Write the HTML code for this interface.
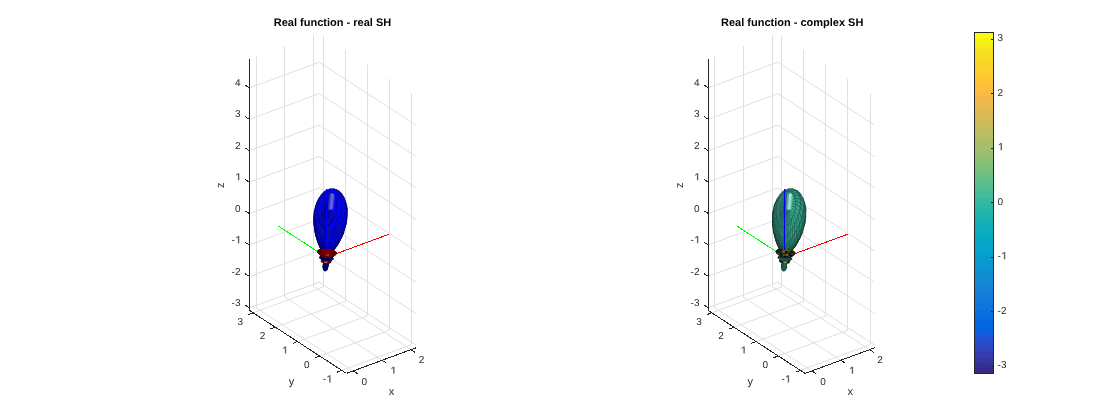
<!DOCTYPE html>
<html><head><meta charset="utf-8"><style>
html,body{margin:0;padding:0;background:#fff;}
svg{display:block;}
.tx{opacity:0.995;}
text{text-rendering:geometricPrecision;font-family:"Liberation Sans",sans-serif;font-size:10px;fill:#262626;}
text.al{font-size:11px;}
text.t{font-size:11px;font-weight:bold;fill:#000;}
</style></head><body>
<svg width="1120" height="420" viewBox="0 0 1120 420">
<rect width="1120" height="420" fill="#fff"/>
<path d="M353.26 370.93L256.05 307.78 M382.14 360.29L284.93 297.13 M411.02 349.64L313.82 286.49 M341.82 370.39L411.77 344.61 M319.66 355.99L389.61 330.22 M297.5 341.6L367.45 315.82 M275.35 327.2L345.29 301.42 M253.19 312.8L323.13 287.03 M256.5 307.78L256.5 56.51 M284.5 297.13L284.5 45.86 M313.5 286.49L313.5 35.22 M249.28 307.94L319.23 282.16 M249.28 276.51L319.23 250.74 M249.28 245.09L319.23 219.31 M249.28 213.66L319.23 187.89 M249.28 182.24L319.23 156.46 M249.28 150.82L319.23 125.04 M249.28 119.39L319.23 93.62 M249.28 87.97L319.23 62.19 M323.5 287.03L323.5 35.76 M345.5 301.42L345.5 50.15 M367.5 315.82L367.5 64.55 M389.5 330.22L389.5 78.95 M411.5 344.61L411.5 93.34 M416.44 345.31L319.23 282.16 M416.44 313.89L319.23 250.74 M416.44 282.47L319.23 219.31 M416.44 251.04L319.23 187.89 M416.44 219.62L319.23 156.46 M416.44 188.19L319.23 125.04 M416.44 156.77L319.23 93.62 M416.44 125.35L319.23 62.19" stroke="#dfdfdf" stroke-width="1" fill="none"/>
<path d="M811.86 370.93L714.65 307.78 M840.74 360.29L743.53 297.13 M869.62 349.64L772.42 286.49 M800.42 370.39L870.37 344.61 M778.26 355.99L848.21 330.22 M756.1 341.6L826.05 315.82 M733.95 327.2L803.89 301.42 M711.79 312.8L781.73 287.03 M714.5 307.78L714.5 56.51 M743.5 297.13L743.5 45.86 M772.5 286.49L772.5 35.22 M707.88 307.94L777.83 282.16 M707.88 276.51L777.83 250.74 M707.88 245.09L777.83 219.31 M707.88 213.66L777.83 187.89 M707.88 182.24L777.83 156.46 M707.88 150.82L777.83 125.04 M707.88 119.39L777.83 93.62 M707.88 87.97L777.83 62.19 M781.5 287.03L781.5 35.76 M803.5 301.42L803.5 50.15 M825.5 315.82L825.5 64.55 M847.5 330.22L847.5 78.95 M870.5 344.61L870.5 93.34 M875.04 345.31L777.83 282.16 M875.04 313.89L777.83 250.74 M875.04 282.47L777.83 219.31 M875.04 251.04L777.83 187.89 M875.04 219.62L777.83 156.46 M875.04 188.19L777.83 125.04 M875.04 156.77L777.83 93.62 M875.04 125.35L777.83 62.19" stroke="#dfdfdf" stroke-width="1" fill="none"/>
<line x1="326.43" y1="257.3" x2="388.85" y2="234.29" stroke="#ff0000" stroke-width="1" shape-rendering="crispEdges"/><line x1="326.43" y1="257.3" x2="278.54" y2="226.18" stroke="#00ff00" stroke-width="1" shape-rendering="crispEdges"/>
<g stroke-width="0.6" stroke-linejoin="round"><polygon points="327.8,256.3 327.7,256.8 326.7,256.8 326.7,256.2" fill="#0000c5" stroke="#000062"/><polygon points="326.7,256.2 326.7,256.8 325.7,256.8 325.6,256.2" fill="#0000bd" stroke="#00005e"/><polygon points="328.9,256.4 328.7,257.0 327.7,256.8 327.8,256.3" fill="#0000c4" stroke="#000062"/><polygon points="325.6,256.2 325.7,256.8 324.8,256.9 324.5,256.3" fill="#0000ad" stroke="#000056"/><polygon points="325.7,255.8 325.6,256.2 324.5,256.3 324.5,255.8" fill="#0000a3" stroke="#000052"/><polygon points="326.7,255.8 326.7,256.2 325.6,256.2 325.7,255.8" fill="#000092" stroke="#000049"/><polygon points="324.5,255.8 324.5,256.3 323.5,256.5 323.4,255.9" fill="#0000ba" stroke="#00005d"/><polygon points="327.6,255.9 327.8,256.3 326.7,256.2 326.7,255.8" fill="#000088" stroke="#000044"/><polygon points="329.8,256.7 329.7,257.3 328.7,257.0 328.9,256.4" fill="#0000c0" stroke="#000060"/><polygon points="327.7,256.8 327.4,257.4 326.6,257.3 326.7,256.8" fill="#000094" stroke="#00004a"/><polygon points="328.5,256.1 328.9,256.4 327.8,256.3 327.6,255.9" fill="#000083" stroke="#000042"/><polygon points="324.5,256.3 324.8,256.9 324.1,257.1 323.5,256.5" fill="#00009d" stroke="#00004e"/><polygon points="328.7,257.0 328.2,257.5 327.4,257.4 327.7,256.8" fill="#000096" stroke="#00004b"/><polygon points="326.6,259.9 326.6,260.6 326.0,260.6 326.0,260.0" fill="#ffa5a5" stroke="#805252"/><polygon points="326.7,256.8 326.6,257.3 325.9,257.3 325.7,256.8" fill="#00008f" stroke="#000048"/><polygon points="326.0,260.0 326.0,260.6 325.5,260.6 325.3,260.1" fill="#ea1212" stroke="#750909"/><polygon points="323.4,255.9 323.5,256.5 322.8,256.8 322.4,256.2" fill="#0000b8" stroke="#00005c"/><polygon points="327.2,260.0 327.1,260.7 326.6,260.6 326.6,259.9" fill="#ff6464" stroke="#803232"/><polygon points="330.8,257.0 330.4,257.6 329.7,257.3 329.8,256.7" fill="#0000b9" stroke="#00005c"/><polygon points="327.8,260.0 327.7,260.7 327.1,260.7 327.2,260.0" fill="#fd2323" stroke="#7e1212"/><polygon points="329.4,256.3 329.8,256.7 328.9,256.4 328.5,256.1" fill="#000081" stroke="#000040"/><polygon points="329.7,257.3 328.9,257.7 328.2,257.5 328.7,257.0" fill="#000095" stroke="#00004a"/><polygon points="325.3,260.1 325.5,260.6 325.0,260.6 324.7,260.3" fill="#b70000" stroke="#5c0000"/><polygon points="325.4,259.3 325.3,260.1 324.7,260.3 324.7,259.5" fill="#cf0000" stroke="#680000"/><polygon points="326.0,259.1 326.0,260.0 325.3,260.1 325.4,259.3" fill="#c70000" stroke="#640000"/><polygon points="324.7,259.5 324.7,260.3 324.1,260.5 324.0,259.8" fill="#e00a0a" stroke="#700505"/><polygon points="325.0,255.7 324.5,255.8 323.4,255.9 323.9,255.7" fill="#000079" stroke="#00003c"/><polygon points="328.3,260.2 328.2,260.9 327.7,260.7 327.8,260.0" fill="#e10b0b" stroke="#700606"/><polygon points="323.9,255.7 323.4,255.9 322.4,256.2 322.7,255.8" fill="#000086" stroke="#000043"/><polygon points="325.7,256.8 325.9,257.3 325.3,257.4 324.8,256.9" fill="#000089" stroke="#000044"/><polygon points="327.1,260.7 327.0,260.7 326.5,260.6 326.6,260.6" fill="#850000" stroke="#420000"/><polygon points="326.6,259.0 326.6,259.9 326.0,260.0 326.0,259.1" fill="#c20000" stroke="#610000"/><polygon points="324.5,268.1 325.6,267.2 325.6,267.6 324.6,268.9" fill="#0000c7" stroke="#000064"/><polygon points="324.6,268.9 325.6,267.6 325.7,267.9 324.9,269.6" fill="#0000c7" stroke="#000064"/><polygon points="327.7,260.7 327.4,260.8 327.0,260.7 327.1,260.7" fill="#8a0000" stroke="#450000"/><polygon points="326.6,260.6 326.5,260.6 326.1,260.5 326.0,260.6" fill="#860000" stroke="#430000"/><polygon points="324.5,267.2 325.5,266.8 325.6,267.2 324.5,268.1" fill="#0000c6" stroke="#000063"/><polygon points="324.9,269.6 325.7,267.9 325.9,268.1 325.1,270.0" fill="#0000c6" stroke="#000063"/><polygon points="324.7,260.3 325.0,260.6 324.7,260.5 324.1,260.5" fill="#910000" stroke="#480000"/><polygon points="330.3,256.6 330.8,257.0 329.8,256.7 329.4,256.3" fill="#000081" stroke="#000040"/><polygon points="325.1,270.0 325.9,268.1 326.0,268.2 325.5,270.2" fill="#0000c3" stroke="#000062"/><polygon points="324.0,259.8 324.1,260.5 323.7,260.6 323.3,260.2" fill="#d30202" stroke="#6a0101"/><polygon points="323.5,256.5 324.1,257.1 323.8,257.3 322.8,256.8" fill="#000090" stroke="#000048"/><polygon points="328.8,260.4 328.7,261.0 328.2,260.9 328.3,260.2" fill="#d50303" stroke="#6a0202"/><polygon points="324.6,266.2 325.5,266.3 325.5,266.8 324.5,267.2" fill="#0000c5" stroke="#000062"/><polygon points="327.1,258.9 327.2,260.0 326.6,259.9 326.6,259.0" fill="#be0000" stroke="#5f0000"/><polygon points="328.2,260.9 327.8,260.9 327.4,260.8 327.7,260.7" fill="#8b0000" stroke="#460000"/><polygon points="330.4,257.6 329.4,257.9 328.9,257.7 329.7,257.3" fill="#000092" stroke="#000049"/><polygon points="325.5,270.2 326.0,268.2 326.2,268.2 325.9,270.2" fill="#0000bf" stroke="#000060"/><polygon points="325.6,267.6 326.4,265.4 326.4,265.4 325.7,267.9" fill="#0000c1" stroke="#000060"/><polygon points="326.0,260.6 326.1,260.5 325.8,260.3 325.5,260.6" fill="#900000" stroke="#480000"/><polygon points="325.6,267.2 326.4,265.4 326.4,265.4 325.6,267.6" fill="#0000c2" stroke="#000061"/><polygon points="325.7,267.9 326.4,265.4 326.4,265.4 325.9,268.1" fill="#0000c1" stroke="#000060"/><polygon points="325.9,268.1 326.4,265.4 326.4,265.4 326.0,268.2" fill="#0000c1" stroke="#000060"/><polygon points="325.5,266.8 326.4,265.4 326.4,265.4 325.6,267.2" fill="#0000c3" stroke="#000062"/><polygon points="326.0,268.2 326.4,265.4 326.4,265.4 326.2,268.2" fill="#0000c1" stroke="#000060"/><polygon points="324.8,265.2 325.6,265.8 325.5,266.3 324.6,266.2" fill="#0000c3" stroke="#000062"/><polygon points="322.4,256.2 322.8,256.8 322.5,257.2 321.6,256.6" fill="#0000a0" stroke="#000050"/><polygon points="325.5,266.3 326.4,265.4 326.4,265.4 325.5,266.8" fill="#0000c3" stroke="#000062"/><polygon points="331.5,257.4 331.0,257.9 330.4,257.6 330.8,257.0" fill="#0000ad" stroke="#000056"/><polygon points="322.7,255.8 322.4,256.2 321.6,256.6 321.6,256.1" fill="#00009d" stroke="#00004e"/><polygon points="326.2,268.2 326.4,265.4 326.4,265.4 326.4,268.1" fill="#0000c1" stroke="#000060"/><polygon points="325.9,270.2 326.2,268.2 326.4,268.1 326.3,269.9" fill="#0000b9" stroke="#00005c"/><polygon points="325.6,265.8 326.4,265.4 326.4,265.4 325.5,266.3" fill="#0000c3" stroke="#000062"/><polygon points="326.4,268.1 326.4,265.4 326.4,265.4 326.6,267.8" fill="#0000c1" stroke="#000060"/><polygon points="326.6,256.0 326.7,255.8 325.7,255.8 325.9,255.9" fill="#000079" stroke="#00003c"/><polygon points="323.7,267.9 324.5,268.1 324.6,268.9 323.8,269.1" fill="#0000b5" stroke="#00005a"/><polygon points="327.5,259.0 327.8,260.0 327.2,260.0 327.1,258.9" fill="#ba0000" stroke="#5d0000"/><polygon points="325.6,265.3 326.4,265.4 326.4,265.4 325.6,265.8" fill="#0000c3" stroke="#000062"/><polygon points="323.8,266.6 324.5,267.2 324.5,268.1 323.7,267.9" fill="#0000b6" stroke="#00005b"/><polygon points="326.6,267.8 326.4,265.4 326.4,265.4 326.7,267.5" fill="#0000c0" stroke="#000060"/><polygon points="323.8,269.1 324.6,268.9 324.9,269.6 324.0,270.0" fill="#0000b4" stroke="#00005a"/><polygon points="329.3,260.7 329.0,261.2 328.7,261.0 328.8,260.4" fill="#ce0000" stroke="#670000"/><polygon points="328.7,261.0 328.1,260.9 327.8,260.9 328.2,260.9" fill="#880000" stroke="#440000"/><polygon points="326.3,269.9 326.4,268.1 326.6,267.8 326.7,269.4" fill="#0000b3" stroke="#00005a"/><polygon points="326.7,267.5 326.4,265.4 326.4,265.4 326.9,267.1" fill="#0000be" stroke="#00005f"/><polygon points="325.0,264.2 325.6,265.3 325.6,265.8 324.8,265.2" fill="#0000c2" stroke="#000061"/><polygon points="325.7,264.7 326.4,265.4 326.4,265.4 325.6,265.3" fill="#0000c2" stroke="#000061"/><polygon points="324.3,258.9 324.0,259.8 323.3,260.2 323.5,259.4" fill="#ba0000" stroke="#5d0000"/><polygon points="324.0,270.0 324.9,269.6 325.1,270.0 324.4,270.7" fill="#0000b3" stroke="#00005a"/><polygon points="326.9,267.1 326.4,265.4 326.4,265.4 327.0,266.6" fill="#0000bd" stroke="#00005e"/><polygon points="324.0,265.2 324.6,266.2 324.5,267.2 323.8,266.6" fill="#0000b7" stroke="#00005c"/><polygon points="328.0,259.1 328.3,260.2 327.8,260.0 327.5,259.0" fill="#b60000" stroke="#5b0000"/><polygon points="325.8,264.2 326.4,265.4 326.4,265.4 325.7,264.7" fill="#0000c1" stroke="#000060"/><polygon points="324.1,260.5 324.7,260.5 324.5,260.3 323.7,260.6" fill="#880000" stroke="#440000"/><polygon points="325.0,258.6 324.7,259.5 324.0,259.8 324.3,258.9" fill="#b60000" stroke="#5b0000"/><polygon points="325.5,260.6 325.8,260.3 325.5,260.1 325.0,260.6" fill="#9a0000" stroke="#4d0000"/><polygon points="323.3,260.2 323.7,260.6 323.5,260.6 322.9,260.5" fill="#a40000" stroke="#520000"/><polygon points="326.7,269.4 326.6,267.8 326.7,267.5 327.1,268.7" fill="#0000ae" stroke="#000057"/><polygon points="327.0,266.6 326.4,265.4 326.4,265.4 327.1,266.1" fill="#0000bb" stroke="#00005e"/><polygon points="331.2,256.9 331.5,257.4 330.8,257.0 330.3,256.6" fill="#000084" stroke="#000042"/><polygon points="325.9,263.8 326.4,265.4 326.4,265.4 325.8,264.2" fill="#0000c0" stroke="#000060"/><polygon points="323.5,259.4 323.3,260.2 322.9,260.5 322.8,259.9" fill="#c00000" stroke="#600000"/><polygon points="327.1,266.1 326.4,265.4 326.4,265.4 327.1,265.6" fill="#0000b9" stroke="#00005c"/><polygon points="324.8,256.9 325.3,257.4 325.1,257.5 324.1,257.1" fill="#000083" stroke="#000042"/><polygon points="324.4,270.7 325.1,270.0 325.5,270.2 325.0,271.0" fill="#0000ad" stroke="#000056"/><polygon points="325.3,263.3 325.7,264.7 325.6,265.3 325.0,264.2" fill="#0000c1" stroke="#000060"/><polygon points="327.2,256.2 327.6,255.9 326.7,255.8 326.6,256.0" fill="#00007d" stroke="#00003e"/><polygon points="327.1,268.7 326.7,267.5 326.9,267.1 327.3,267.8" fill="#0000aa" stroke="#000055"/><polygon points="327.1,265.6 326.4,265.4 326.4,265.4 327.1,265.0" fill="#0000b8" stroke="#00005c"/><polygon points="328.5,259.4 328.8,260.4 328.3,260.2 328.0,259.1" fill="#b30000" stroke="#5a0000"/><polygon points="326.0,263.3 326.4,265.4 326.4,265.4 325.9,263.8" fill="#0000be" stroke="#00005f"/><polygon points="324.4,263.8 324.8,265.2 324.6,266.2 324.0,265.2" fill="#0000b8" stroke="#00005c"/><polygon points="327.1,265.0 326.4,265.4 326.4,265.4 327.1,264.5" fill="#0000b9" stroke="#00005c"/><polygon points="325.7,258.3 325.4,259.3 324.7,259.5 325.0,258.6" fill="#b30000" stroke="#5a0000"/><polygon points="329.7,261.1 329.3,261.4 329.0,261.2 329.3,260.7" fill="#c30000" stroke="#620000"/><polygon points="326.1,263.0 326.4,265.4 326.4,265.4 326.0,263.3" fill="#0000bd" stroke="#00005e"/><polygon points="325.0,271.0 325.5,270.2 325.9,270.2 325.6,270.9" fill="#0000a0" stroke="#000050"/><polygon points="327.1,264.5 326.4,265.4 326.4,265.4 327.1,264.0" fill="#0000b9" stroke="#00005c"/><polygon points="327.3,267.8 326.9,267.1 327.0,266.6 327.5,266.8" fill="#0000a7" stroke="#000054"/><polygon points="331.0,257.9 329.7,258.1 329.4,257.9 330.4,257.6" fill="#00008d" stroke="#000046"/><polygon points="326.3,262.7 326.4,265.4 326.4,265.4 326.1,263.0" fill="#0000bb" stroke="#00005e"/><polygon points="329.0,259.7 329.3,260.7 328.8,260.4 328.5,259.4" fill="#b00000" stroke="#580000"/><polygon points="327.1,264.0 326.4,265.4 326.4,265.4 327.1,263.6" fill="#0000ba" stroke="#00005d"/><polygon points="325.5,262.4 325.8,264.2 325.7,264.7 325.3,263.3" fill="#0000c0" stroke="#000060"/><polygon points="321.6,256.1 321.6,256.6 321.2,257.0 320.7,256.5" fill="#0000a9" stroke="#000054"/><polygon points="326.4,262.4 326.4,265.4 326.4,265.4 326.3,262.7" fill="#0000ba" stroke="#00005d"/><polygon points="327.1,263.6 326.4,265.4 326.4,265.4 327.0,263.2" fill="#0000bc" stroke="#00005e"/><polygon points="328.2,257.5 327.4,257.7 327.0,257.6 327.4,257.4" fill="#00007e" stroke="#00003f"/><polygon points="327.7,256.3 328.5,256.1 327.6,255.9 327.2,256.2" fill="#00007f" stroke="#000040"/><polygon points="325.6,270.9 325.9,270.2 326.3,269.9 326.3,270.5" fill="#000093" stroke="#00004a"/><polygon points="327.5,266.8 327.0,266.6 327.1,266.1 327.6,265.8" fill="#0000a6" stroke="#000053"/><polygon points="322.8,259.9 322.9,260.5 322.6,260.7 322.2,260.4" fill="#c20000" stroke="#610000"/><polygon points="327.0,263.2 326.4,265.4 326.4,265.4 326.9,262.8" fill="#0000bd" stroke="#00005e"/><polygon points="326.5,262.3 326.4,265.4 326.4,265.4 326.4,262.4" fill="#0000ba" stroke="#00005d"/><polygon points="327.4,257.4 327.0,257.6 326.5,257.6 326.6,257.3" fill="#00007c" stroke="#00003e"/><polygon points="324.8,262.4 325.0,264.2 324.8,265.2 324.4,263.8" fill="#0000b8" stroke="#00005c"/><polygon points="325.0,260.6 325.5,260.1 325.4,259.8 324.7,260.5" fill="#a20000" stroke="#510000"/><polygon points="326.9,262.8 326.4,265.4 326.4,265.4 326.9,262.5" fill="#0000bd" stroke="#00005e"/><polygon points="326.5,262.2 326.4,265.4 326.4,265.4 326.5,262.3" fill="#0000ba" stroke="#00005d"/><polygon points="332.1,257.9 331.2,258.3 331.0,257.9 331.5,257.4" fill="#00009e" stroke="#00004f"/><polygon points="322.8,256.8 323.8,257.3 323.9,257.5 322.5,257.2" fill="#000087" stroke="#000044"/><polygon points="326.9,262.5 326.4,265.4 326.4,265.4 326.8,262.3" fill="#0000bd" stroke="#00005e"/><polygon points="326.2,258.1 326.0,259.1 325.4,259.3 325.7,258.3" fill="#af0000" stroke="#580000"/><polygon points="326.6,262.1 326.4,265.4 326.4,265.4 326.5,262.2" fill="#0000bb" stroke="#00005e"/><polygon points="326.8,262.3 326.4,265.4 326.4,265.4 326.7,262.2" fill="#0000bd" stroke="#00005e"/><polygon points="326.7,262.2 326.4,265.4 326.4,265.4 326.6,262.1" fill="#0000bc" stroke="#00005e"/><polygon points="329.6,260.2 329.7,261.1 329.3,260.7 329.0,259.7" fill="#ae0000" stroke="#570000"/><polygon points="323.8,255.9 322.7,255.8 321.6,256.1 322.5,255.9" fill="#000075" stroke="#00003a"/><polygon points="326.3,270.5 326.3,269.9 326.7,269.4 326.9,269.7" fill="#00008a" stroke="#000045"/><polygon points="323.3,266.5 323.7,267.9 323.8,269.1 323.2,268.0" fill="#000093" stroke="#00004a"/><polygon points="327.6,265.8 327.1,266.1 327.1,265.6 327.6,264.8" fill="#0000a6" stroke="#000053"/><polygon points="328.9,257.7 327.8,257.8 327.4,257.7 328.2,257.5" fill="#00007e" stroke="#00003f"/><polygon points="332.0,257.4 332.1,257.9 331.5,257.4 331.2,256.9" fill="#00008b" stroke="#000046"/><polygon points="323.5,264.9 323.8,266.6 323.7,267.9 323.3,266.5" fill="#00009b" stroke="#00004e"/><polygon points="329.3,261.4 328.4,260.9 328.3,260.9 329.0,261.2" fill="#850000" stroke="#420000"/><polygon points="321.6,256.6 322.5,257.2 322.6,257.5 321.2,257.0" fill="#000090" stroke="#000048"/><polygon points="322.9,260.5 323.5,260.6 323.6,260.5 322.6,260.7" fill="#840000" stroke="#420000"/><polygon points="323.7,260.6 324.5,260.3 324.6,260.0 323.5,260.6" fill="#940000" stroke="#4a0000"/><polygon points="325.7,261.6 325.9,263.8 325.8,264.2 325.5,262.4" fill="#0000bf" stroke="#000060"/><polygon points="324.9,256.1 323.9,255.7 322.7,255.8 323.8,255.9" fill="#00007c" stroke="#00003e"/><polygon points="327.4,260.8 327.0,260.0 326.7,259.9 327.0,260.7" fill="#a50000" stroke="#520000"/><polygon points="328.2,256.4 329.4,256.3 328.5,256.1 327.7,256.3" fill="#00007f" stroke="#000040"/><polygon points="327.0,260.7 326.7,259.9 326.5,259.7 326.5,260.6" fill="#a80000" stroke="#540000"/><polygon points="330.0,261.4 329.4,261.5 329.3,261.4 329.7,261.1" fill="#ac0000" stroke="#560000"/><polygon points="323.2,268.0 323.8,269.1 324.0,270.0 323.5,269.2" fill="#000087" stroke="#000044"/><polygon points="326.9,269.7 326.7,269.4 327.1,268.7 327.4,268.7" fill="#000087" stroke="#000044"/><polygon points="326.6,257.3 326.5,257.6 326.2,257.5 325.9,257.3" fill="#000079" stroke="#00003c"/><polygon points="327.8,260.9 327.2,260.0 327.0,260.0 327.4,260.8" fill="#a30000" stroke="#520000"/><polygon points="324.0,263.3 324.0,265.2 323.8,266.6 323.5,264.9" fill="#0000a2" stroke="#000051"/><polygon points="327.6,264.8 327.1,265.6 327.1,265.0 327.6,263.8" fill="#0000a6" stroke="#000053"/><polygon points="326.5,260.6 326.5,259.7 326.3,259.5 326.1,260.5" fill="#ac0000" stroke="#560000"/><polygon points="322.5,255.9 321.6,256.1 320.7,256.5 321.2,256.1" fill="#000078" stroke="#00003c"/><polygon points="324.3,258.4 323.5,259.4 322.8,259.9 323.4,258.9" fill="#a60000" stroke="#530000"/><polygon points="326.5,258.0 326.6,259.0 326.0,259.1 326.2,258.1" fill="#ac0000" stroke="#560000"/><polygon points="328.9,256.5 330.3,256.6 329.4,256.3 328.2,256.4" fill="#00007f" stroke="#000040"/><polygon points="330.0,260.7 330.0,261.4 329.7,261.1 329.6,260.2" fill="#ab0000" stroke="#560000"/><polygon points="325.2,261.2 325.3,263.3 325.0,264.2 324.8,262.4" fill="#0000b9" stroke="#00005c"/><polygon points="323.4,258.9 322.8,259.9 322.2,260.4 322.5,259.6" fill="#a60000" stroke="#530000"/><polygon points="323.5,269.2 324.0,270.0 324.4,270.7 324.0,270.1" fill="#000076" stroke="#00003b"/><polygon points="324.6,238.4 325.4,248.1 324.9,251.2 323.0,242.2" fill="#0000ff" stroke="#000080"/><polygon points="327.4,268.7 327.1,268.7 327.3,267.8 327.7,267.4" fill="#000086" stroke="#000043"/><polygon points="325.9,260.9 326.0,263.3 325.9,263.8 325.7,261.6" fill="#0000be" stroke="#00005f"/><polygon points="324.1,257.1 325.1,257.5 325.1,257.5 323.8,257.3" fill="#00007d" stroke="#00003e"/><polygon points="327.6,263.8 327.1,265.0 327.1,264.5 327.5,262.8" fill="#0000a8" stroke="#000054"/><polygon points="328.1,260.9 327.3,259.9 327.2,260.0 327.8,260.9" fill="#a10000" stroke="#500000"/><polygon points="325.7,256.4 325.0,255.7 323.9,255.7 324.9,256.1" fill="#000082" stroke="#000041"/><polygon points="329.4,257.9 328.0,257.9 327.8,257.8 328.9,257.7" fill="#00007e" stroke="#00003f"/><polygon points="322.2,260.4 322.6,260.7 322.7,260.8 321.9,260.8" fill="#a10000" stroke="#500000"/><polygon points="325.1,258.0 324.3,258.9 323.5,259.4 324.3,258.4" fill="#a50000" stroke="#520000"/><polygon points="324.6,261.7 324.4,263.8 324.0,265.2 324.0,263.3" fill="#0000a7" stroke="#000054"/><polygon points="331.2,258.3 329.6,258.3 329.7,258.1 331.0,257.9" fill="#000089" stroke="#000044"/><polygon points="329.8,256.7 331.2,256.9 330.3,256.6 328.9,256.5" fill="#00007d" stroke="#00003e"/><polygon points="327.7,267.4 327.3,267.8 327.5,266.8 327.9,266.0" fill="#000088" stroke="#000044"/><polygon points="326.1,260.5 326.3,259.5 326.1,259.2 325.8,260.3" fill="#af0000" stroke="#580000"/><polygon points="324.0,270.1 324.4,270.7 325.0,271.0 324.6,270.5" fill="#000082" stroke="#000041"/><polygon points="324.7,260.5 325.4,259.8 325.4,259.3 324.5,260.3" fill="#a70000" stroke="#540000"/><polygon points="326.8,257.9 327.1,258.9 326.6,259.0 326.5,258.0" fill="#a90000" stroke="#540000"/><polygon points="329.4,261.5 328.3,260.7 328.4,260.9 329.3,261.4" fill="#880000" stroke="#440000"/><polygon points="327.5,262.8 327.1,264.5 327.1,264.0 327.4,261.9" fill="#0000aa" stroke="#000055"/><polygon points="326.1,260.3 326.1,263.0 326.0,263.3 325.9,260.9" fill="#0000bd" stroke="#00005e"/><polygon points="330.7,244.0 328.1,252.7 327.3,253.0 328.8,244.3" fill="#0000c2" stroke="#000061"/><polygon points="322.5,259.6 322.2,260.4 321.9,260.8 321.8,260.2" fill="#a70000" stroke="#540000"/><polygon points="330.2,261.7 329.3,261.5 329.4,261.5 330.0,261.4" fill="#960000" stroke="#4b0000"/><polygon points="330.4,261.2 330.2,261.7 330.0,261.4 330.0,260.7" fill="#ab0000" stroke="#560000"/><polygon points="320.7,256.5 321.2,257.0 321.3,257.5 320.3,257.0" fill="#000097" stroke="#00004c"/><polygon points="327.9,266.0 327.5,266.8 327.6,265.8 327.9,264.5" fill="#00008b" stroke="#000046"/><polygon points="325.9,257.3 326.2,257.5 326.0,257.5 325.3,257.4" fill="#000076" stroke="#00003b"/><polygon points="328.3,260.9 327.4,259.8 327.3,259.9 328.1,260.9" fill="#a00000" stroke="#500000"/><polygon points="325.6,260.1 325.5,262.4 325.3,263.3 325.2,261.2" fill="#0000b9" stroke="#00005c"/><polygon points="328.8,244.3 327.3,253.0 326.6,254.1 326.8,245.7" fill="#0000c3" stroke="#000062"/><polygon points="324.6,270.5 325.0,271.0 325.6,270.9 325.4,270.4" fill="#000093" stroke="#00004a"/><polygon points="327.0,257.9 327.5,259.0 327.1,258.9 326.8,257.9" fill="#a60000" stroke="#530000"/><polygon points="327.4,261.9 327.1,264.0 327.1,263.6 327.2,261.2" fill="#0000ac" stroke="#000056"/><polygon points="332.6,257.9 332.4,258.4 332.1,257.9 332.0,257.4" fill="#000094" stroke="#00004a"/><polygon points="332.4,258.4 331.2,258.6 331.2,258.3 332.1,257.9" fill="#000093" stroke="#00004a"/><polygon points="330.7,257.0 332.0,257.4 331.2,256.9 329.8,256.7" fill="#00007b" stroke="#00003e"/><polygon points="322.6,260.7 323.6,260.5 324.0,260.1 322.7,260.8" fill="#870000" stroke="#440000"/><polygon points="321.2,256.1 320.7,256.5 320.3,257.0 320.3,256.5" fill="#000087" stroke="#000044"/><polygon points="326.3,259.8 326.3,262.7 326.1,263.0 326.1,260.3" fill="#0000bb" stroke="#00005e"/><polygon points="323.5,260.6 324.6,260.0 324.9,259.4 323.6,260.5" fill="#990000" stroke="#4c0000"/><polygon points="325.8,257.7 325.0,258.6 324.3,258.9 325.1,258.0" fill="#a30000" stroke="#520000"/><polygon points="327.3,258.0 328.0,259.1 327.5,259.0 327.0,257.9" fill="#a30000" stroke="#520000"/><polygon points="327.9,264.5 327.6,265.8 327.6,264.8 327.8,263.1" fill="#00008f" stroke="#000048"/><polygon points="325.2,260.2 324.8,262.4 324.4,263.8 324.6,261.7" fill="#0000ab" stroke="#000056"/><polygon points="327.6,258.2 328.5,259.4 328.0,259.1 327.3,258.0" fill="#a00000" stroke="#500000"/><polygon points="325.8,260.3 326.1,259.2 326.1,258.8 325.5,260.1" fill="#b30000" stroke="#5a0000"/><polygon points="326.2,256.7 325.9,255.9 325.0,255.7 325.7,256.4" fill="#000087" stroke="#000044"/><polygon points="328.1,258.5 329.0,259.7 328.5,259.4 327.6,258.2" fill="#9d0000" stroke="#4e0000"/><polygon points="325.4,270.4 325.6,270.9 326.3,270.5 326.2,269.8" fill="#000095" stroke="#00004a"/><polygon points="327.2,261.2 327.1,263.6 327.0,263.2 327.1,260.5" fill="#0000ae" stroke="#000057"/><polygon points="328.7,258.9 329.6,260.2 329.0,259.7 328.1,258.5" fill="#9a0000" stroke="#4d0000"/><polygon points="322.5,257.2 323.9,257.5 324.4,257.6 322.6,257.5" fill="#000081" stroke="#000040"/><polygon points="329.7,258.1 328.0,257.9 328.0,257.9 329.4,257.9" fill="#00007d" stroke="#00003e"/><polygon points="332.3,245.0 328.6,253.2 328.1,252.7 330.7,244.0" fill="#0000bc" stroke="#00005e"/><polygon points="329.3,259.5 330.0,260.7 329.6,260.2 328.7,258.9" fill="#960000" stroke="#4b0000"/><polygon points="326.4,259.5 326.4,262.4 326.3,262.7 326.3,259.8" fill="#0000b9" stroke="#00005c"/><polygon points="323.4,264.3 323.3,266.5 323.2,268.0 323.2,265.9" fill="#000076" stroke="#00003b"/><polygon points="323.9,262.6 323.5,264.9 323.3,266.5 323.4,264.3" fill="#000084" stroke="#000042"/><polygon points="321.2,257.0 322.6,257.5 323.1,257.7 321.3,257.5" fill="#000088" stroke="#000044"/><polygon points="328.4,260.9 327.3,259.5 327.4,259.8 328.3,260.9" fill="#9e0000" stroke="#4f0000"/><polygon points="326.2,269.8 326.3,270.5 326.9,269.7 327.0,268.8" fill="#000090" stroke="#000048"/><polygon points="327.1,260.5 327.0,263.2 326.9,262.8 326.9,260.0" fill="#0000b0" stroke="#000058"/><polygon points="329.3,261.5 328.1,260.4 328.3,260.7 329.4,261.5" fill="#890000" stroke="#440000"/><polygon points="327.8,263.1 327.6,264.8 327.6,263.8 327.6,261.7" fill="#000093" stroke="#00004a"/><polygon points="321.8,260.2 321.9,260.8 321.9,261.1 321.4,260.8" fill="#a80000" stroke="#540000"/><polygon points="330.6,261.7 330.1,261.9 330.2,261.7 330.4,261.2" fill="#a90000" stroke="#540000"/><polygon points="321.9,260.8 322.7,260.8 323.1,260.6 321.9,261.1" fill="#8c0000" stroke="#460000"/><polygon points="325.9,259.2 325.7,261.6 325.5,262.4 325.6,260.1" fill="#0000b9" stroke="#00005c"/><polygon points="323.2,265.9 323.2,268.0 323.5,269.2 323.4,267.2" fill="#000080" stroke="#000040"/><polygon points="330.1,261.9 329.0,261.3 329.3,261.5 330.2,261.7" fill="#8c0000" stroke="#460000"/><polygon points="329.9,260.1 330.4,261.2 330.0,260.7 329.3,259.5" fill="#920000" stroke="#490000"/><polygon points="326.4,259.2 326.5,262.3 326.4,262.4 326.4,259.5" fill="#0000b8" stroke="#00005c"/><polygon points="327.0,268.8 326.9,269.7 327.4,268.7 327.5,267.4" fill="#000088" stroke="#000044"/><polygon points="326.9,260.0 326.9,262.8 326.9,262.5 326.8,259.6" fill="#0000b2" stroke="#000059"/><polygon points="324.2,256.3 322.5,255.9 321.2,256.1 322.8,256.1" fill="#000081" stroke="#000040"/><polygon points="324.6,260.9 324.0,263.3 323.5,264.9 323.9,262.6" fill="#00008f" stroke="#000048"/><polygon points="323.6,258.6 322.5,259.6 321.8,260.2 322.6,259.2" fill="#910000" stroke="#480000"/><polygon points="324.6,258.0 323.4,258.9 322.5,259.6 323.6,258.6" fill="#940000" stroke="#4a0000"/><polygon points="331.7,257.4 332.6,257.9 332.0,257.4 330.7,257.0" fill="#000079" stroke="#00003c"/><polygon points="324.5,260.3 325.4,259.3 325.7,258.7 324.6,260.0" fill="#a90000" stroke="#540000"/><polygon points="331.2,258.6 329.2,258.4 329.6,258.3 331.2,258.3" fill="#000086" stroke="#000043"/><polygon points="326.5,259.1 326.5,262.2 326.5,262.3 326.4,259.2" fill="#0000b6" stroke="#00005b"/><polygon points="326.8,245.7 326.6,254.1 326.3,255.9 325.4,248.1" fill="#0000c1" stroke="#000060"/><polygon points="326.8,259.6 326.9,262.5 326.8,262.3 326.7,259.3" fill="#0000b3" stroke="#00005a"/><polygon points="326.2,257.5 325.7,258.3 325.0,258.6 325.8,257.7" fill="#a10000" stroke="#500000"/><polygon points="323.8,257.3 325.1,257.5 325.6,257.5 323.9,257.5" fill="#000079" stroke="#00003c"/><polygon points="327.5,267.4 327.4,268.7 327.7,267.4 327.8,265.8" fill="#000080" stroke="#000040"/><polygon points="327.6,261.7 327.6,263.8 327.5,262.8 327.4,260.5" fill="#000097" stroke="#00004c"/><polygon points="326.6,259.0 326.6,262.1 326.5,262.2 326.5,259.1" fill="#0000b5" stroke="#00005a"/><polygon points="326.7,259.3 326.8,262.3 326.7,262.2 326.6,259.1" fill="#0000b4" stroke="#00005a"/><polygon points="325.4,256.6 323.8,255.9 322.5,255.9 324.2,256.3" fill="#000086" stroke="#000043"/><polygon points="323.4,267.2 323.5,269.2 324.0,270.1 323.8,268.2" fill="#000095" stroke="#00004a"/><polygon points="325.7,258.9 325.2,261.2 324.8,262.4 325.2,260.2" fill="#0000ad" stroke="#000056"/><polygon points="326.6,259.1 326.7,262.2 326.6,262.1 326.6,259.0" fill="#0000b4" stroke="#00005a"/><polygon points="322.8,256.1 321.2,256.1 320.3,256.5 321.4,256.2" fill="#00007d" stroke="#00003e"/><polygon points="326.5,257.0 326.6,256.0 325.9,255.9 326.2,256.7" fill="#00008c" stroke="#000046"/><polygon points="325.5,260.1 326.1,258.8 326.1,258.3 325.4,259.8" fill="#b50000" stroke="#5a0000"/><polygon points="327.8,265.8 327.7,267.4 327.9,266.0 327.9,264.1" fill="#000078" stroke="#00003c"/><polygon points="330.4,260.8 330.6,261.7 330.4,261.2 329.9,260.1" fill="#8d0000" stroke="#460000"/><polygon points="323.0,242.2 324.9,251.2 325.3,254.4 322.6,246.5" fill="#0000b6" stroke="#00005b"/><polygon points="322.6,259.2 321.8,260.2 321.4,260.8 321.8,260.0" fill="#8c0000" stroke="#460000"/><polygon points="325.6,257.6 324.3,258.4 323.4,258.9 324.6,258.0" fill="#950000" stroke="#4a0000"/><polygon points="328.3,260.7 327.2,259.1 327.3,259.5 328.4,260.9" fill="#9c0000" stroke="#4e0000"/><polygon points="333.0,258.5 332.3,258.8 332.4,258.4 332.6,257.9" fill="#000094" stroke="#00004a"/><polygon points="325.3,259.3 324.6,261.7 324.0,263.3 324.6,260.9" fill="#000097" stroke="#00004c"/><polygon points="322.7,260.8 324.0,260.1 324.7,259.4 323.1,260.6" fill="#880000" stroke="#440000"/><polygon points="320.3,256.5 320.3,257.0 320.3,257.5 319.8,257.0" fill="#000093" stroke="#00004a"/><polygon points="320.3,257.0 321.3,257.5 321.9,257.8 320.3,257.5" fill="#00008d" stroke="#000046"/><polygon points="326.2,258.4 325.9,260.9 325.7,261.6 325.9,259.2" fill="#0000b8" stroke="#00005c"/><polygon points="329.6,258.3 327.7,257.8 328.0,257.9 329.7,258.1" fill="#00007d" stroke="#00003e"/><polygon points="332.3,258.8 330.7,258.8 331.2,258.6 332.4,258.4" fill="#00008c" stroke="#000046"/><polygon points="327.9,264.1 327.9,266.0 327.9,264.5 327.8,262.4" fill="#000073" stroke="#00003a"/><polygon points="323.6,260.5 324.9,259.4 325.5,258.6 324.0,260.1" fill="#990000" stroke="#4c0000"/><polygon points="323.8,268.2 324.0,270.1 324.6,270.5 324.5,268.6" fill="#0000aa" stroke="#000055"/><polygon points="329.0,261.3 327.8,259.8 328.1,260.4 329.3,261.5" fill="#870000" stroke="#440000"/><polygon points="327.4,260.5 327.5,262.8 327.4,261.9 327.1,259.4" fill="#00009b" stroke="#00004e"/><polygon points="330.6,262.1 329.8,261.9 330.1,261.9 330.6,261.7" fill="#9d0000" stroke="#4e0000"/><polygon points="332.9,247.0 328.4,254.5 328.6,253.2 332.3,245.0" fill="#0000b4" stroke="#00005a"/><polygon points="329.8,261.9 328.6,260.8 329.0,261.3 330.1,261.9" fill="#8a0000" stroke="#450000"/><polygon points="321.4,260.8 321.9,261.1 322.3,261.1 321.4,261.2" fill="#9b0000" stroke="#4e0000"/><polygon points="327.0,260.0 326.5,258.2 326.5,258.1 326.7,259.9" fill="#b80000" stroke="#5c0000"/><polygon points="326.4,257.4 326.2,258.1 325.7,258.3 326.2,257.5" fill="#9e0000" stroke="#4f0000"/><polygon points="326.5,257.2 327.2,256.2 326.6,256.0 326.5,257.0" fill="#00008e" stroke="#000047"/><polygon points="327.2,260.0 326.6,258.1 326.5,258.2 327.0,260.0" fill="#b50000" stroke="#5a0000"/><polygon points="327.8,262.4 327.9,264.5 327.8,263.1 327.5,260.7" fill="#00007a" stroke="#00003d"/><polygon points="326.7,259.9 326.5,258.1 326.4,258.0 326.5,259.7" fill="#ba0000" stroke="#5d0000"/><polygon points="321.9,261.1 323.1,260.6 323.8,260.2 322.3,261.1" fill="#8b0000" stroke="#460000"/><polygon points="332.5,257.9 333.0,258.5 332.6,257.9 331.7,257.4" fill="#000077" stroke="#00003c"/><polygon points="326.3,257.2 324.9,256.1 323.8,255.9 325.4,256.6" fill="#00008b" stroke="#000046"/><polygon points="324.5,268.6 324.6,270.5 325.4,270.4 325.4,268.5" fill="#0000b6" stroke="#00005b"/><polygon points="330.7,261.6 330.6,262.1 330.6,261.7 330.4,260.8" fill="#890000" stroke="#440000"/><polygon points="322.6,257.5 324.4,257.6 325.3,257.5 323.1,257.7" fill="#00007e" stroke="#00003f"/><polygon points="327.4,257.7 326.6,257.4 326.5,257.4 327.0,257.6" fill="#000076" stroke="#00003b"/><polygon points="321.4,256.2 320.3,256.5 319.8,257.0 320.4,256.6" fill="#000079" stroke="#00003c"/><polygon points="327.1,259.4 327.4,261.9 327.2,261.2 326.8,258.5" fill="#00009f" stroke="#000050"/><polygon points="320.1,237.1 322.6,246.5 323.3,250.8 320.0,242.3" fill="#0000ff" stroke="#000080"/><polygon points="326.2,257.9 325.6,260.1 325.2,261.2 325.7,258.9" fill="#0000af" stroke="#000058"/><polygon points="327.3,259.9 326.6,258.0 326.6,258.1 327.2,260.0" fill="#b20000" stroke="#590000"/><polygon points="321.3,257.5 323.1,257.7 324.1,257.8 321.9,257.8" fill="#000085" stroke="#000042"/><polygon points="328.5,257.0 330.7,257.0 329.8,256.7 327.5,257.0" fill="#000088" stroke="#000044"/><polygon points="321.8,260.0 321.4,260.8 321.4,261.2 321.4,260.7" fill="#880000" stroke="#440000"/><polygon points="327.8,257.8 326.6,257.4 326.6,257.4 327.4,257.7" fill="#000075" stroke="#00003a"/><polygon points="328.1,260.4 326.9,258.5 327.2,259.1 328.3,260.7" fill="#980000" stroke="#4c0000"/><polygon points="326.3,257.8 326.1,260.3 325.9,260.9 326.2,258.4" fill="#0000b6" stroke="#00005b"/><polygon points="324.6,260.0 325.7,258.7 326.2,257.8 324.9,259.4" fill="#a90000" stroke="#540000"/><polygon points="326.3,257.3 325.1,258.0 324.3,258.4 325.6,257.6" fill="#950000" stroke="#4a0000"/><polygon points="326.5,259.7 326.4,258.0 326.4,257.7 326.3,259.5" fill="#bd0000" stroke="#5e0000"/><polygon points="324.3,261.5 323.4,264.3 323.2,265.9 323.9,263.1" fill="#000080" stroke="#000040"/><polygon points="327.5,257.0 329.8,256.7 328.9,256.5 326.9,257.1" fill="#00008b" stroke="#000046"/><polygon points="328.6,258.7 329.9,260.1 329.3,259.5 327.8,258.1" fill="#850000" stroke="#420000"/><polygon points="327.0,257.6 326.5,257.4 326.4,257.3 326.5,257.6" fill="#000078" stroke="#00003c"/><polygon points="325.4,259.8 326.1,258.3 326.3,257.6 325.4,259.3" fill="#b70000" stroke="#5c0000"/><polygon points="324.9,259.9 323.9,262.6 323.4,264.3 324.3,261.5" fill="#000073" stroke="#00003a"/><polygon points="325.4,268.5 325.4,270.4 326.2,269.8 326.2,267.8" fill="#0000b7" stroke="#00005c"/><polygon points="330.7,258.8 328.5,258.2 329.2,258.4 331.2,258.6" fill="#000084" stroke="#000042"/><polygon points="329.6,257.1 331.7,257.4 330.7,257.0 328.5,257.0" fill="#000086" stroke="#000043"/><polygon points="326.1,257.9 325.2,260.2 324.6,261.7 325.3,259.3" fill="#00009d" stroke="#00004e"/><polygon points="326.5,257.3 327.7,256.3 327.2,256.2 326.5,257.2" fill="#00008f" stroke="#000048"/><polygon points="327.5,260.7 327.8,263.1 327.6,261.7 327.1,259.2" fill="#000081" stroke="#000040"/><polygon points="327.8,258.1 329.3,259.5 328.7,258.9 327.1,257.7" fill="#890000" stroke="#440000"/><polygon points="325.4,248.1 326.3,255.9 326.4,257.3 324.9,251.2" fill="#0000be" stroke="#00005f"/><polygon points="326.9,257.1 328.9,256.5 328.2,256.4 326.6,257.2" fill="#00008d" stroke="#000046"/><polygon points="325.3,257.6 323.6,258.6 322.6,259.2 324.2,258.2" fill="#850000" stroke="#420000"/><polygon points="323.9,263.1 323.2,265.9 323.4,267.2 323.8,264.4" fill="#000093" stroke="#00004a"/><polygon points="326.6,257.2 328.2,256.4 327.7,256.3 326.5,257.3" fill="#00008f" stroke="#000048"/><polygon points="326.2,267.8 326.2,269.8 327.0,268.8 327.0,266.7" fill="#0000af" stroke="#000058"/><polygon points="327.4,259.8 326.5,257.7 326.6,258.0 327.3,259.9" fill="#af0000" stroke="#580000"/><polygon points="330.2,262.4 329.2,261.6 329.8,261.9 330.6,262.1" fill="#980000" stroke="#4c0000"/><polygon points="326.4,257.3 326.5,258.0 326.2,258.1 326.4,257.4" fill="#9b0000" stroke="#4e0000"/><polygon points="326.8,258.5 327.2,261.2 327.1,260.5 326.6,257.8" fill="#0000a3" stroke="#000052"/><polygon points="329.2,258.4 327.1,257.6 327.7,257.8 329.6,258.3" fill="#00007d" stroke="#00003e"/><polygon points="327.0,266.7 327.0,268.8 327.5,267.4 327.4,265.1" fill="#0000a4" stroke="#000052"/><polygon points="323.9,257.5 325.6,257.5 326.4,257.3 324.4,257.6" fill="#000076" stroke="#00003b"/><polygon points="325.1,256.8 322.8,256.1 321.4,256.2 323.6,256.5" fill="#000087" stroke="#000044"/><polygon points="325.8,258.4 324.6,260.9 323.9,262.6 324.9,259.9" fill="#000080" stroke="#000040"/><polygon points="326.5,257.6 326.4,257.3 326.4,257.3 326.2,257.5" fill="#00007a" stroke="#00003d"/><polygon points="327.1,257.7 328.7,258.9 328.1,258.5 326.6,257.4" fill="#8d0000" stroke="#460000"/><polygon points="326.3,259.5 326.4,257.7 326.4,257.3 326.1,259.2" fill="#bf0000" stroke="#600000"/><polygon points="329.2,261.6 328.0,260.1 328.6,260.8 329.8,261.9" fill="#8e0000" stroke="#470000"/><polygon points="327.4,265.1 327.5,267.4 327.8,265.8 327.7,263.4" fill="#000098" stroke="#00004c"/><polygon points="330.0,260.4 330.7,261.6 330.4,260.8 329.3,259.5" fill="#890000" stroke="#440000"/><polygon points="326.4,257.3 326.3,259.8 326.1,260.3 326.3,257.8" fill="#0000b5" stroke="#00005a"/><polygon points="326.4,257.3 325.7,256.4 324.9,256.1 326.3,257.2" fill="#000094" stroke="#00004a"/><polygon points="327.7,263.4 327.8,265.8 327.9,264.1 327.6,261.5" fill="#00008d" stroke="#000046"/><polygon points="330.8,257.4 332.5,257.9 331.7,257.4 329.6,257.1" fill="#000085" stroke="#000042"/><polygon points="330.7,262.2 330.2,262.4 330.6,262.1 330.7,261.6" fill="#8c0000" stroke="#460000"/><polygon points="323.8,264.4 323.4,267.2 323.8,268.2 324.2,265.3" fill="#0000a6" stroke="#000053"/><polygon points="323.1,258.9 321.8,260.0 321.4,260.7 322.3,259.6" fill="#8a0000" stroke="#450000"/><polygon points="332.9,259.0 331.8,259.1 332.3,258.8 333.0,258.5" fill="#00008c" stroke="#000046"/><polygon points="324.0,260.1 325.5,258.6 326.2,257.6 324.7,259.4" fill="#950000" stroke="#4a0000"/><polygon points="321.4,261.2 322.3,261.1 323.0,260.9 321.8,261.5" fill="#990000" stroke="#4c0000"/><polygon points="331.8,259.1 329.9,258.8 330.7,258.8 332.3,258.8" fill="#000089" stroke="#000044"/><polygon points="327.1,259.2 327.6,261.7 327.4,260.5 326.7,258.0" fill="#000088" stroke="#000044"/><polygon points="326.4,257.3 326.8,257.9 326.5,258.0 326.4,257.3" fill="#9a0000" stroke="#4d0000"/><polygon points="326.4,257.3 324.6,258.0 323.6,258.6 325.3,257.6" fill="#880000" stroke="#440000"/><polygon points="319.8,257.0 320.3,257.5 320.8,258.0 319.7,257.6" fill="#00008c" stroke="#000046"/><polygon points="320.3,257.5 321.9,257.8 322.8,258.0 320.8,258.0" fill="#000089" stroke="#000044"/><polygon points="323.6,256.5 321.4,256.2 320.4,256.6 322.2,256.5" fill="#000085" stroke="#000042"/><polygon points="326.6,257.4 328.1,258.5 327.6,258.2 326.4,257.3" fill="#8d0000" stroke="#460000"/><polygon points="326.4,257.3 324.2,256.3 322.8,256.1 325.1,256.8" fill="#00008b" stroke="#000046"/><polygon points="327.3,259.5 326.4,257.3 326.5,257.7 327.4,259.8" fill="#ab0000" stroke="#560000"/><polygon points="326.4,257.3 325.9,259.2 325.6,260.1 326.2,257.9" fill="#0000ac" stroke="#000056"/><polygon points="322.3,261.1 323.8,260.2 324.6,259.5 323.0,260.9" fill="#920000" stroke="#490000"/><polygon points="327.6,261.5 327.9,264.1 327.8,262.4 327.2,259.7" fill="#000082" stroke="#000041"/><polygon points="327.8,259.8 326.6,257.7 326.9,258.5 328.1,260.4" fill="#940000" stroke="#4a0000"/><polygon points="326.4,257.3 325.8,257.7 325.1,258.0 326.3,257.3" fill="#8e0000" stroke="#470000"/><polygon points="326.6,257.8 327.1,260.5 326.9,260.0 326.4,257.3" fill="#0000a6" stroke="#000053"/><polygon points="322.6,246.5 325.3,254.4 326.4,257.3 323.3,250.8" fill="#0000ad" stroke="#000056"/><polygon points="326.4,257.3 327.0,257.9 326.8,257.9 326.4,257.3" fill="#970000" stroke="#4c0000"/><polygon points="328.0,257.9 326.4,257.3 326.5,257.3 328.0,257.9" fill="#000076" stroke="#00003b"/><polygon points="332.4,249.6 327.4,256.2 328.4,254.5 332.9,247.0" fill="#0000a9" stroke="#000054"/><polygon points="326.4,257.3 327.6,258.2 327.3,258.0 326.4,257.3" fill="#8e0000" stroke="#470000"/><polygon points="328.1,252.7 326.4,257.3 326.4,257.3 327.3,253.0" fill="#0000bd" stroke="#00005e"/><polygon points="326.4,257.3 327.3,258.0 327.0,257.9 326.4,257.3" fill="#930000" stroke="#4a0000"/><polygon points="326.2,257.5 326.4,257.3 326.4,257.3 326.0,257.5" fill="#000079" stroke="#00003c"/><polygon points="326.1,259.2 326.4,257.3 326.4,257.3 326.1,258.8" fill="#b90000" stroke="#5c0000"/><polygon points="321.4,260.7 321.4,261.2 321.8,261.5 321.3,261.3" fill="#8a0000" stroke="#450000"/><polygon points="326.4,257.3 326.4,259.5 326.3,259.8 326.4,257.3" fill="#0000b2" stroke="#000059"/><polygon points="325.4,259.3 326.3,257.6 326.4,257.3 325.7,258.7" fill="#aa0000" stroke="#550000"/><polygon points="326.4,257.3 325.7,258.9 325.2,260.2 326.1,257.9" fill="#00009a" stroke="#00004d"/><polygon points="324.2,265.3 323.8,268.2 324.5,268.6 324.8,265.8" fill="#0000b7" stroke="#00005c"/><polygon points="320.4,256.6 319.8,257.0 319.7,257.6 319.8,257.1" fill="#000074" stroke="#00003a"/><polygon points="328.6,253.2 326.4,257.3 326.4,257.3 328.1,252.7" fill="#0000ba" stroke="#00005d"/><polygon points="327.3,253.0 326.4,257.3 326.4,257.3 326.6,254.1" fill="#0000bf" stroke="#000060"/><polygon points="326.4,257.3 325.3,259.3 324.6,260.9 325.8,258.4" fill="#000086" stroke="#000043"/><polygon points="326.4,257.3 326.9,260.0 326.8,259.6 326.4,257.3" fill="#000092" stroke="#000049"/><polygon points="326.4,257.3 326.4,259.2 326.4,259.5 326.4,257.3" fill="#0000b4" stroke="#00005a"/><polygon points="324.9,259.4 326.2,257.8 326.4,257.3 325.5,258.6" fill="#990000" stroke="#4c0000"/><polygon points="323.1,257.7 325.3,257.5 326.4,257.3 324.1,257.8" fill="#00007f" stroke="#000040"/><polygon points="327.2,259.7 327.8,262.4 327.5,260.7 326.7,258.1" fill="#000079" stroke="#00003c"/><polygon points="328.0,260.1 326.7,257.9 327.3,259.0 328.6,260.8" fill="#850000" stroke="#420000"/><polygon points="326.4,257.3 326.2,256.7 325.7,256.4 326.4,257.3" fill="#000096" stroke="#00004b"/><polygon points="329.7,262.3 328.5,261.0 329.2,261.6 330.2,262.4" fill="#9c0000" stroke="#4e0000"/><polygon points="330.4,261.2 330.7,262.2 330.7,261.6 330.0,260.4" fill="#910000" stroke="#480000"/><polygon points="329.9,258.8 327.5,257.9 328.5,258.2 330.7,258.8" fill="#000085" stroke="#000042"/><polygon points="321.9,257.8 324.1,257.8 325.3,257.6 322.8,258.0" fill="#000085" stroke="#000042"/><polygon points="326.4,257.3 326.8,259.6 326.7,259.3 326.4,257.3" fill="#00009c" stroke="#00004e"/><polygon points="326.7,258.0 327.4,260.5 327.1,259.4 326.4,257.3" fill="#000085" stroke="#000042"/><polygon points="327.2,259.1 326.4,257.3 326.4,257.3 327.3,259.5" fill="#8f0000" stroke="#480000"/><polygon points="326.4,257.3 326.5,259.1 326.4,259.2 326.4,257.3" fill="#0000b3" stroke="#00005a"/><polygon points="325.1,257.5 326.4,257.3 326.4,257.3 325.6,257.5" fill="#00007b" stroke="#00003e"/><polygon points="324.9,251.2 326.4,257.3 326.4,257.3 325.3,254.4" fill="#0000be" stroke="#00005f"/><polygon points="328.5,261.0 327.3,259.0 328.0,260.1 329.2,261.6" fill="#960000" stroke="#4b0000"/><polygon points="326.4,257.3 325.4,256.6 324.2,256.3 326.4,257.3" fill="#00009c" stroke="#00004e"/><polygon points="326.4,257.3 326.7,259.3 326.6,259.1 326.4,257.3" fill="#0000a4" stroke="#000052"/><polygon points="326.4,257.3 326.6,259.0 326.5,259.1 326.4,257.3" fill="#0000b0" stroke="#000058"/><polygon points="328.5,258.2 326.4,257.3 327.1,257.6 329.2,258.4" fill="#000081" stroke="#000040"/><polygon points="326.4,257.3 326.6,259.1 326.6,259.0 326.4,257.3" fill="#0000ab" stroke="#000056"/><polygon points="326.4,257.3 325.6,257.6 324.6,258.0 326.4,257.3" fill="#8a0000" stroke="#450000"/><polygon points="325.6,258.6 324.3,261.5 323.9,263.1 325.1,259.9" fill="#00008c" stroke="#000046"/><polygon points="327.7,257.8 326.4,257.3 326.4,257.3 328.0,257.9" fill="#00007d" stroke="#00003e"/><polygon points="326.1,258.8 326.4,257.3 326.4,257.3 326.1,258.3" fill="#b30000" stroke="#5a0000"/><polygon points="327.6,258.0 329.3,259.5 328.6,258.7 326.6,257.4" fill="#8a0000" stroke="#450000"/><polygon points="328.5,258.8 330.0,260.4 329.3,259.5 327.6,258.0" fill="#900000" stroke="#480000"/><polygon points="326.4,257.3 326.2,258.4 325.9,259.2 326.4,257.3" fill="#00009c" stroke="#00004e"/><polygon points="324.8,265.8 324.5,268.6 325.4,268.5 325.5,265.6" fill="#0000c1" stroke="#000060"/><polygon points="326.4,257.3 324.2,258.2 323.1,258.9 325.1,257.8" fill="#8a0000" stroke="#450000"/><polygon points="322.3,259.6 321.4,260.7 321.3,261.3 321.8,260.4" fill="#940000" stroke="#4a0000"/><polygon points="323.8,260.2 325.5,258.5 326.4,257.3 324.6,259.5" fill="#890000" stroke="#440000"/><polygon points="325.1,257.8 323.1,258.9 322.3,259.6 324.0,258.4" fill="#910000" stroke="#480000"/><polygon points="330.4,262.6 329.7,262.3 330.2,262.4 330.7,262.2" fill="#990000" stroke="#4c0000"/><polygon points="328.4,254.5 326.4,257.3 326.4,257.3 328.6,253.2" fill="#0000b6" stroke="#00005b"/><polygon points="325.1,259.9 323.9,263.1 323.8,264.4 324.8,261.1" fill="#00009d" stroke="#00004e"/><polygon points="326.4,257.3 324.9,259.9 324.3,261.5 325.6,258.6" fill="#00007d" stroke="#00003e"/><polygon points="324.4,257.6 326.4,257.3 326.4,257.3 325.3,257.5" fill="#00008a" stroke="#000045"/><polygon points="327.3,259.0 326.4,257.3 326.6,257.7 327.8,259.8" fill="#890000" stroke="#440000"/><polygon points="331.8,257.9 333.0,258.5 332.5,257.9 330.8,257.4" fill="#000085" stroke="#000042"/><polygon points="320.0,242.3 323.3,250.8 324.8,254.6 321.0,247.3" fill="#0000a0" stroke="#000050"/><polygon points="326.6,257.4 328.6,258.7 327.8,258.1 326.4,257.3" fill="#930000" stroke="#4a0000"/><polygon points="326.6,254.1 326.4,257.3 326.4,257.3 326.3,255.9" fill="#0000bf" stroke="#000060"/><polygon points="326.7,258.1 327.5,260.7 327.1,259.2 326.4,257.3" fill="#00007a" stroke="#00003d"/><polygon points="326.7,257.3 329.6,257.1 328.5,257.0 326.4,257.3" fill="#000095" stroke="#00004a"/><polygon points="324.7,259.4 326.2,257.6 326.4,257.3 325.5,258.5" fill="#8e0000" stroke="#470000"/><polygon points="322.2,256.5 320.4,256.6 319.8,257.1 321.0,256.7" fill="#000085" stroke="#000042"/><polygon points="328.1,257.2 330.8,257.4 329.6,257.1 326.7,257.3" fill="#000089" stroke="#000044"/><polygon points="321.8,261.5 323.0,260.9 323.8,260.5 322.4,261.6" fill="#a10000" stroke="#500000"/><polygon points="323.0,260.9 324.6,259.5 325.5,258.6 323.8,260.5" fill="#9d0000" stroke="#4e0000"/><polygon points="325.5,265.6 325.4,268.5 326.2,267.8 326.3,264.9" fill="#0000c2" stroke="#000061"/><polygon points="326.4,257.3 326.5,257.0 326.2,256.7 326.4,257.3" fill="#000095" stroke="#00004a"/><polygon points="326.4,257.3 325.3,257.6 324.2,258.2 326.4,257.3" fill="#9a0000" stroke="#4d0000"/><polygon points="326.4,257.3 328.5,257.0 327.5,257.0 326.4,257.3" fill="#000098" stroke="#00004c"/><polygon points="327.2,262.1 327.4,265.1 327.7,263.4 327.2,260.4" fill="#0000a6" stroke="#000053"/><polygon points="327.2,260.4 327.7,263.4 327.6,261.5 326.8,258.6" fill="#00009a" stroke="#00004d"/><polygon points="326.4,257.3 323.6,256.5 322.2,256.5 324.9,256.9" fill="#00008a" stroke="#000045"/><polygon points="326.5,258.2 326.4,257.3 326.4,257.3 326.5,258.1" fill="#c10000" stroke="#600000"/><polygon points="326.8,263.7 327.0,266.7 327.4,265.1 327.2,262.1" fill="#0000b2" stroke="#000059"/><polygon points="326.4,257.3 327.8,258.1 327.1,257.7 326.4,257.3" fill="#900000" stroke="#480000"/><polygon points="326.3,264.9 326.2,267.8 327.0,266.7 326.8,263.7" fill="#0000bc" stroke="#00005e"/><polygon points="329.3,259.8 330.4,261.2 330.0,260.4 328.5,258.8" fill="#980000" stroke="#4c0000"/><polygon points="326.4,257.3 325.1,256.8 323.6,256.5 326.4,257.3" fill="#00009f" stroke="#000050"/><polygon points="330.9,259.3 328.8,258.5 329.9,258.8 331.8,259.1" fill="#000089" stroke="#000044"/><polygon points="327.3,259.0 326.4,257.3 326.7,257.9 328.0,260.1" fill="#9e0000" stroke="#4f0000"/><polygon points="326.4,257.3 325.8,258.4 324.9,259.9 326.4,257.3" fill="#000095" stroke="#00004a"/><polygon points="324.8,261.1 323.8,264.4 324.2,265.3 324.9,261.9" fill="#0000ae" stroke="#000057"/><polygon points="327.1,257.6 326.4,257.3 326.4,257.3 327.7,257.8" fill="#000084" stroke="#000042"/><polygon points="326.8,258.6 327.6,261.5 327.2,259.7 326.4,257.3" fill="#000092" stroke="#000049"/><polygon points="328.9,261.9 327.7,260.1 328.5,261.0 329.7,262.3" fill="#a50000" stroke="#520000"/><polygon points="326.4,257.3 327.5,257.0 326.9,257.1 326.4,257.3" fill="#000098" stroke="#00004c"/><polygon points="320.8,258.0 322.8,258.0 324.0,258.0 321.7,258.3" fill="#000089" stroke="#000044"/><polygon points="327.7,260.1 326.6,257.6 327.3,259.0 328.5,261.0" fill="#9f0000" stroke="#500000"/><polygon points="323.3,250.8 326.4,257.3 326.4,257.3 324.8,254.6" fill="#0000b6" stroke="#00005b"/><polygon points="324.1,257.8 326.4,257.3 326.4,257.3 325.3,257.6" fill="#000096" stroke="#00004b"/><polygon points="327.5,257.9 326.4,257.3 326.4,257.3 328.5,258.2" fill="#000095" stroke="#00004a"/><polygon points="326.4,257.3 327.1,259.2 326.7,258.0 326.4,257.3" fill="#000095" stroke="#00004a"/><polygon points="327.4,256.2 326.4,257.3 326.4,257.3 328.4,254.5" fill="#0000b1" stroke="#000058"/><polygon points="328.8,258.5 326.4,257.3 327.5,257.9 329.9,258.8" fill="#000088" stroke="#000044"/><polygon points="324.0,258.4 322.3,259.6 321.8,260.4 323.2,259.1" fill="#9b0000" stroke="#4e0000"/><polygon points="331.0,252.4 326.4,257.3 327.4,256.2 332.4,249.6" fill="#0000a2" stroke="#000051"/><polygon points="332.4,259.4 330.9,259.3 331.8,259.1 332.9,259.0" fill="#000089" stroke="#000044"/><polygon points="330.4,262.0 330.4,262.6 330.7,262.2 330.4,261.2" fill="#980000" stroke="#4c0000"/><polygon points="321.3,261.3 321.8,261.5 322.4,261.6 321.6,261.8" fill="#980000" stroke="#4c0000"/><polygon points="326.7,257.9 326.4,257.3 326.4,257.3 327.3,259.0" fill="#ab0000" stroke="#560000"/><polygon points="322.8,258.0 325.3,257.6 326.4,257.3 324.0,258.0" fill="#000089" stroke="#000044"/><polygon points="324.6,259.5 326.4,257.3 326.4,257.3 325.5,258.6" fill="#b60000" stroke="#5b0000"/><polygon points="329.5,257.4 331.8,257.9 330.8,257.4 328.1,257.2" fill="#000088" stroke="#000044"/><polygon points="326.4,257.3 327.2,259.7 326.7,258.1 326.4,257.3" fill="#0000ad" stroke="#000056"/><polygon points="326.4,257.3 328.5,258.8 327.6,258.0 326.4,257.3" fill="#ae0000" stroke="#570000"/><polygon points="319.7,257.6 320.8,258.0 321.7,258.3 320.1,258.1" fill="#000089" stroke="#000044"/><polygon points="326.4,257.3 325.1,257.8 324.0,258.4 326.3,257.3" fill="#aa0000" stroke="#550000"/><polygon points="324.9,256.9 322.2,256.5 321.0,256.7 323.4,256.7" fill="#000089" stroke="#000044"/><polygon points="326.4,257.3 325.6,258.6 325.1,259.9 326.4,257.3" fill="#0000ab" stroke="#000056"/><polygon points="326.4,257.3 325.1,259.9 324.8,261.1 326.2,257.8" fill="#0000a9" stroke="#000054"/><polygon points="326.6,257.6 326.4,257.3 326.4,257.3 327.3,259.0" fill="#c50000" stroke="#620000"/><polygon points="323.8,260.5 325.5,258.6 326.2,257.6 324.6,260.0" fill="#ab0000" stroke="#560000"/><polygon points="324.9,261.9 324.2,265.3 324.8,265.8 325.3,262.3" fill="#0000bc" stroke="#00005e"/><polygon points="327.5,258.1 329.3,259.8 328.5,258.8 326.4,257.3" fill="#9c0000" stroke="#4e0000"/><polygon points="327.0,258.8 326.4,257.3 326.6,257.6 327.7,260.1" fill="#c20000" stroke="#610000"/><polygon points="326.4,257.3 327.2,260.4 326.8,258.6 326.4,257.3" fill="#0000bd" stroke="#00005e"/><polygon points="325.5,258.6 326.4,257.3 326.4,257.3 326.2,257.6" fill="#c20000" stroke="#610000"/><polygon points="336.4,245.1 331.0,252.4 332.4,249.6 337.5,241.1" fill="#0000fa" stroke="#00007d"/><polygon points="329.8,262.7 328.9,261.9 329.7,262.3 330.4,262.6" fill="#a40000" stroke="#520000"/><polygon points="326.7,258.8 327.2,262.1 327.2,260.4 326.4,257.3" fill="#0000ae" stroke="#000057"/><polygon points="326.3,257.3 324.0,258.4 323.2,259.1 325.3,257.8" fill="#9e0000" stroke="#4f0000"/><polygon points="326.4,257.3 329.5,257.4 328.1,257.2 326.4,257.3" fill="#00009c" stroke="#00004e"/><polygon points="326.4,257.3 324.9,256.9 323.4,256.7 326.4,257.3" fill="#00009d" stroke="#00004e"/><polygon points="327.5,258.0 326.4,257.3 326.4,257.3 328.8,258.5" fill="#0000a2" stroke="#000051"/><polygon points="328.0,261.1 327.0,258.8 327.7,260.1 328.9,261.9" fill="#b00000" stroke="#580000"/><polygon points="326.2,257.8 324.8,261.1 324.9,261.9 326.0,258.5" fill="#0000b2" stroke="#000059"/><polygon points="333.0,259.1 332.4,259.4 332.9,259.0 333.0,258.5" fill="#000079" stroke="#00003c"/><polygon points="324.0,258.0 326.4,257.3 326.4,257.3 325.1,257.8" fill="#00009f" stroke="#000050"/><polygon points="326.4,257.3 326.2,257.8 326.0,258.5 326.4,257.3" fill="#0000ba" stroke="#00005d"/><polygon points="322.4,261.6 323.8,260.5 324.6,260.0 323.1,261.5" fill="#ad0000" stroke="#560000"/><polygon points="325.1,257.8 326.4,257.3 326.4,257.3 326.1,257.5" fill="#0000a2" stroke="#000051"/><polygon points="326.5,257.7 326.4,257.3 326.4,257.3 326.7,258.9" fill="#ff5858" stroke="#802c2c"/><polygon points="326.7,260.3 326.8,263.7 327.2,262.1 326.7,258.8" fill="#0000b9" stroke="#00005c"/><polygon points="329.8,260.7 330.4,262.0 330.4,261.2 329.3,259.8" fill="#a20000" stroke="#510000"/><polygon points="326.4,257.3 326.2,258.5 326.4,257.9 326.4,257.3" fill="#0000c5" stroke="#000062"/><polygon points="326.4,257.3 326.0,258.5 326.1,258.7 326.4,257.3" fill="#0000bf" stroke="#000060"/><polygon points="324.6,260.0 326.2,257.6 326.4,257.3 325.2,259.5" fill="#c30000" stroke="#620000"/><polygon points="321.8,260.4 321.3,261.3 321.6,261.8 321.7,261.1" fill="#9f0000" stroke="#500000"/><polygon points="321.0,247.3 324.8,254.6 326.4,257.3 322.8,251.6" fill="#000098" stroke="#00004c"/><polygon points="326.4,257.3 326.7,260.3 326.7,258.8 326.4,257.3" fill="#0000c5" stroke="#000062"/><polygon points="325.3,262.3 324.8,265.8 325.5,265.6 325.8,262.1" fill="#0000c5" stroke="#000062"/><polygon points="326.4,257.3 326.1,258.7 326.2,258.5 326.4,257.3" fill="#0000c3" stroke="#000062"/><polygon points="319.8,257.1 319.7,257.6 320.1,258.1 319.6,257.7" fill="#000079" stroke="#00003c"/><polygon points="328.8,255.2 326.4,257.3 326.4,257.3 331.0,252.4" fill="#0000a4" stroke="#000052"/><polygon points="326.5,257.3 328.4,259.1 327.5,258.1 326.4,257.3" fill="#bb0000" stroke="#5e0000"/><polygon points="326.4,257.3 325.3,257.8 324.5,258.5 326.4,257.3" fill="#b80000" stroke="#5c0000"/><polygon points="327.3,260.1 326.4,257.3 327.0,258.8 328.0,261.1" fill="#bc0000" stroke="#5e0000"/><polygon points="326.7,258.9 326.4,257.3 326.4,257.3 327.3,260.1" fill="#fb2121" stroke="#7e1010"/><polygon points="329.7,259.1 327.5,258.0 328.8,258.5 330.9,259.3" fill="#00008c" stroke="#000046"/><polygon points="325.2,259.5 326.4,257.3 326.4,257.3 325.7,259.1" fill="#d30202" stroke="#6a0101"/><polygon points="326.0,258.5 324.9,261.9 325.3,262.3 326.1,258.7" fill="#0000be" stroke="#00005f"/><polygon points="326.3,261.4 326.3,264.9 326.8,263.7 326.7,260.3" fill="#0000c2" stroke="#000061"/><polygon points="326.4,257.3 326.1,257.5 325.7,257.9 326.4,257.3" fill="#bd0000" stroke="#5e0000"/><polygon points="325.7,259.1 326.4,257.3 326.4,257.3 325.9,259.0" fill="#e50e0e" stroke="#720707"/><polygon points="326.4,257.9 326.3,261.4 326.7,260.3 326.4,257.3" fill="#0000c5" stroke="#000062"/><polygon points="325.8,262.1 325.5,265.6 326.3,264.9 326.3,261.4" fill="#0000c6" stroke="#000063"/><polygon points="328.4,259.1 329.8,260.7 329.3,259.8 327.5,258.1" fill="#a50000" stroke="#520000"/><polygon points="325.9,259.0 326.4,257.3 326.4,257.3 326.1,259.2" fill="#ff2a2a" stroke="#801515"/><polygon points="321.7,258.3 324.0,258.0 325.1,257.8 322.7,258.4" fill="#00008c" stroke="#000046"/><polygon points="322.8,251.6 326.4,257.3 326.4,257.3 324.8,255.2" fill="#0000a7" stroke="#000054"/><polygon points="326.1,258.7 325.3,262.3 325.8,262.1 326.2,258.5" fill="#0000c5" stroke="#000062"/><polygon points="326.2,258.5 325.8,262.1 326.3,261.4 326.4,257.9" fill="#0000c7" stroke="#000064"/><polygon points="326.5,257.5 326.4,257.3 326.4,257.3 327.1,258.2" fill="#0000ac" stroke="#000056"/><polygon points="326.4,257.3 326.4,258.1 326.5,257.6 326.4,257.3" fill="#c40000" stroke="#620000"/><polygon points="327.3,258.0 326.4,257.3 326.4,257.3 328.5,258.7" fill="#0000a9" stroke="#000054"/><polygon points="326.1,259.2 326.4,257.3 326.4,257.3 326.3,259.7" fill="#ff4848" stroke="#802424"/><polygon points="332.4,258.5 333.0,259.1 333.0,258.5 331.8,257.9" fill="#000088" stroke="#000044"/><polygon points="327.9,257.4 330.7,257.8 329.5,257.4 326.4,257.3" fill="#000089" stroke="#000044"/><polygon points="323.2,259.1 321.8,260.4 321.7,261.1 322.7,259.9" fill="#a70000" stroke="#540000"/><polygon points="326.4,257.3 323.4,256.7 322.2,256.9 325.0,257.0" fill="#000088" stroke="#000044"/><polygon points="328.5,258.7 326.4,257.3 327.5,258.0 329.7,259.1" fill="#000092" stroke="#000049"/><polygon points="326.4,257.3 325.0,257.0 323.9,257.1 326.4,257.3" fill="#000096" stroke="#00004b"/><polygon points="330.1,262.6 329.8,262.7 330.4,262.6 330.4,262.0" fill="#900000" stroke="#480000"/><polygon points="325.3,257.8 323.2,259.1 322.7,259.9 324.5,258.5" fill="#a80000" stroke="#540000"/><polygon points="326.4,257.3 325.9,257.2 325.3,257.3 326.4,257.3" fill="#00008c" stroke="#000046"/><polygon points="326.4,257.3 325.7,257.9 325.6,258.2 326.4,257.3" fill="#c00000" stroke="#600000"/><polygon points="329.0,262.5 328.0,261.1 328.9,261.9 329.8,262.7" fill="#b00000" stroke="#580000"/><polygon points="326.4,257.3 329.3,257.7 327.9,257.4 326.4,257.3" fill="#00009a" stroke="#00004d"/><polygon points="321.0,256.7 319.8,257.1 319.6,257.7 320.4,257.2" fill="#000089" stroke="#000044"/><polygon points="325.8,258.0 326.4,257.3 326.4,257.3 326.0,258.0" fill="#0000a7" stroke="#000054"/><polygon points="326.3,259.7 326.4,257.3 326.5,257.7 326.7,260.5" fill="#ff3e3e" stroke="#801f1f"/><polygon points="326.5,257.4 327.9,259.2 327.4,258.3 326.4,257.3" fill="#c40000" stroke="#620000"/><polygon points="323.1,261.5 324.6,260.0 325.2,259.5 323.9,261.4" fill="#ba0000" stroke="#5d0000"/><polygon points="321.6,261.8 322.4,261.6 323.1,261.5 322.2,262.1" fill="#a60000" stroke="#530000"/><polygon points="325.3,258.1 326.4,257.3 326.4,257.3 325.8,258.0" fill="#0000a6" stroke="#000053"/><polygon points="326.4,257.3 324.5,258.5 324.1,259.1 326.1,257.5" fill="#b50000" stroke="#5a0000"/><polygon points="326.0,258.0 326.4,257.3 326.4,257.3 326.2,258.1" fill="#0000a8" stroke="#000054"/><polygon points="330.7,257.8 332.4,258.5 331.8,257.9 329.5,257.4" fill="#00008a" stroke="#000045"/><polygon points="326.4,257.3 326.1,258.3 326.4,258.1 326.4,257.3" fill="#c40000" stroke="#620000"/><polygon points="324.7,258.3 326.4,257.3 326.4,257.3 325.3,258.1" fill="#0000a4" stroke="#000052"/><polygon points="322.7,258.4 325.1,257.8 326.1,257.5 323.8,258.4" fill="#000092" stroke="#000049"/><polygon points="327.4,258.3 328.9,260.1 328.4,259.1 326.5,257.3" fill="#ae0000" stroke="#570000"/><polygon points="326.4,257.3 325.6,258.2 325.8,258.4 326.4,257.3" fill="#c20000" stroke="#610000"/><polygon points="323.4,256.7 321.0,256.7 320.4,257.2 322.2,256.9" fill="#00008a" stroke="#000045"/><polygon points="323.8,258.4 326.1,257.5 326.4,257.3 324.7,258.3" fill="#00009d" stroke="#00004e"/><polygon points="331.5,259.7 329.7,259.1 330.9,259.3 332.4,259.4" fill="#00008a" stroke="#000045"/><polygon points="326.4,257.3 325.8,258.4 326.1,258.3 326.4,257.3" fill="#c30000" stroke="#620000"/><polygon points="326.4,257.3 327.1,259.0 327.0,258.2 326.4,257.3" fill="#c80000" stroke="#640000"/><polygon points="326.7,260.5 326.5,257.7 326.7,258.9 327.3,261.3" fill="#d50303" stroke="#6a0202"/><polygon points="326.2,258.1 326.4,257.3 326.4,257.3 326.4,258.3" fill="#0000a8" stroke="#000054"/><polygon points="327.1,258.2 326.4,257.3 326.4,257.3 327.9,258.9" fill="#0000ab" stroke="#000056"/><polygon points="328.1,262.0 327.3,260.1 328.0,261.1 329.0,262.5" fill="#bc0000" stroke="#5e0000"/><polygon points="320.1,258.1 321.7,258.3 322.7,258.4 320.9,258.5" fill="#00008a" stroke="#000045"/><polygon points="325.2,255.5 326.4,257.3 326.4,257.3 326.0,256.6" fill="#00007f" stroke="#000040"/><polygon points="327.3,261.3 326.7,258.9 327.3,260.1 328.1,262.0" fill="#c80000" stroke="#640000"/><polygon points="323.9,261.4 325.2,259.5 325.7,259.1 324.5,261.3" fill="#c70000" stroke="#640000"/><polygon points="329.8,261.7 330.1,262.6 330.4,262.0 329.8,260.7" fill="#ad0000" stroke="#560000"/><polygon points="326.4,257.3 325.3,257.3 325.0,257.4 326.4,257.3" fill="#000088" stroke="#000044"/><polygon points="326.4,257.3 328.7,257.9 327.8,257.5 326.4,257.3" fill="#000094" stroke="#00004a"/><polygon points="326.4,258.3 326.4,257.3 326.4,257.3 326.7,258.7" fill="#0000a8" stroke="#000054"/><polygon points="328.9,260.1 329.8,261.7 329.8,260.7 328.4,259.1" fill="#af0000" stroke="#580000"/><polygon points="322.8,252.2 326.4,257.3 326.4,257.3 324.7,255.1" fill="#000092" stroke="#000049"/><polygon points="328.6,255.4 326.4,257.3 326.4,257.3 331.6,252.5" fill="#000092" stroke="#000049"/><polygon points="324.5,261.3 325.7,259.1 325.9,259.0 325.1,261.4" fill="#d30202" stroke="#6a0101"/><polygon points="321.7,261.1 321.6,261.8 322.2,262.1 322.0,261.7" fill="#a30000" stroke="#520000"/><polygon points="326.4,257.3 323.9,257.1 323.3,257.3 325.9,257.2" fill="#00008b" stroke="#000046"/><polygon points="326.5,256.7 326.4,257.3 326.4,257.3 326.8,255.9" fill="#00009c" stroke="#00004e"/><polygon points="326.1,257.5 324.1,259.1 324.1,259.6 325.7,257.9" fill="#b90000" stroke="#5c0000"/><polygon points="334.3,249.0 328.8,255.2 331.0,252.4 336.4,245.1" fill="#00008e" stroke="#000047"/><polygon points="329.5,262.9 329.0,262.5 329.8,262.7 330.1,262.6" fill="#990000" stroke="#4c0000"/><polygon points="327.9,258.9 326.4,257.3 327.3,258.0 329.1,259.4" fill="#00009a" stroke="#00004d"/><polygon points="326.4,257.3 327.6,257.8 327.3,257.5 326.4,257.3" fill="#00008a" stroke="#000045"/><polygon points="324.5,258.5 322.7,259.9 322.7,260.6 324.1,259.1" fill="#b30000" stroke="#5a0000"/><polygon points="326.4,257.3 326.3,257.7 326.6,257.6 326.4,257.3" fill="#000080" stroke="#000040"/><polygon points="327.0,258.2 328.0,260.2 327.9,259.2 326.5,257.4" fill="#bd0000" stroke="#5e0000"/><polygon points="326.5,257.6 326.8,259.6 327.1,259.0 326.4,257.3" fill="#c70000" stroke="#640000"/><polygon points="332.6,259.6 331.5,259.7 332.4,259.4 333.0,259.1" fill="#000080" stroke="#000040"/><polygon points="325.1,261.4 325.9,259.0 326.1,259.2 325.7,261.6" fill="#e71010" stroke="#740808"/><polygon points="322.2,262.1 323.1,261.5 323.9,261.4 322.9,262.3" fill="#b30000" stroke="#5a0000"/><polygon points="326.4,257.3 325.0,257.4 325.1,257.5 326.4,257.3" fill="#000085" stroke="#000042"/><polygon points="330.4,259.6 328.5,258.7 329.7,259.1 331.5,259.7" fill="#00008d" stroke="#000046"/><polygon points="325.0,257.0 322.2,256.9 321.6,257.2 323.9,257.1" fill="#00008a" stroke="#000045"/><polygon points="322.7,259.9 321.7,261.1 322.0,261.7 322.7,260.6" fill="#b40000" stroke="#5a0000"/><polygon points="317.6,238.6 321.0,247.3 322.8,251.6 318.9,243.9" fill="#0000ea" stroke="#000075"/><polygon points="329.3,257.7 331.4,258.4 330.7,257.8 327.9,257.4" fill="#00008a" stroke="#000045"/><polygon points="326.7,258.7 326.4,257.3 326.5,257.5 327.3,259.2" fill="#0000a6" stroke="#000053"/><polygon points="319.6,257.7 320.1,258.1 320.9,258.5 320.0,258.2" fill="#00007e" stroke="#00003f"/><polygon points="327.8,257.5 330.1,258.2 329.3,257.7 326.4,257.3" fill="#000087" stroke="#000044"/><polygon points="331.6,252.5 326.4,257.3 328.8,255.2 334.3,249.0" fill="#000084" stroke="#000042"/><polygon points="327.9,259.2 329.0,261.1 328.9,260.1 327.4,258.3" fill="#b80000" stroke="#5c0000"/><polygon points="329.1,259.4 327.3,258.0 328.5,258.7 330.4,259.6" fill="#000093" stroke="#00004a"/><polygon points="325.7,261.6 326.1,259.2 326.3,259.7 326.3,261.9" fill="#ee1515" stroke="#770a0a"/><polygon points="324.1,253.9 326.4,257.3 326.4,257.3 325.2,255.5" fill="#000075" stroke="#00003a"/><polygon points="326.4,257.3 325.9,257.7 326.3,257.7 326.4,257.3" fill="#000080" stroke="#000040"/><polygon points="320.7,248.5 324.8,255.2 326.4,257.3 322.8,252.2" fill="#000082" stroke="#000041"/><polygon points="326.4,257.3 325.1,257.5 325.5,257.6 326.4,257.3" fill="#000083" stroke="#000042"/><polygon points="320.9,258.5 322.7,258.4 323.8,258.4 321.8,258.8" fill="#00008d" stroke="#000046"/><polygon points="328.7,263.0 328.1,262.0 329.0,262.5 329.5,262.9" fill="#b10000" stroke="#580000"/><polygon points="328.0,255.9 326.4,257.3 326.4,257.3 330.7,253.3" fill="#00007c" stroke="#00003e"/><polygon points="326.4,257.3 325.5,257.6 325.9,257.7 326.4,257.3" fill="#000081" stroke="#000040"/><polygon points="325.7,257.9 324.1,259.6 324.4,260.0 325.6,258.2" fill="#c20000" stroke="#610000"/><polygon points="329.5,262.4 329.5,262.9 330.1,262.6 329.8,261.7" fill="#b70000" stroke="#5c0000"/><polygon points="332.6,259.1 332.6,259.6 333.0,259.1 332.4,258.5" fill="#00008e" stroke="#000047"/><polygon points="326.3,261.9 326.3,259.7 326.7,260.5 327.0,262.4" fill="#da0606" stroke="#6d0303"/><polygon points="318.9,243.9 322.8,251.6 324.8,255.2 320.7,248.5" fill="#000087" stroke="#000044"/><polygon points="331.4,258.4 332.6,259.1 332.4,258.5 330.7,257.8" fill="#00008e" stroke="#000047"/><polygon points="322.9,262.3 323.9,261.4 324.5,261.3 323.7,262.4" fill="#be0000" stroke="#5f0000"/><polygon points="320.4,257.2 319.6,257.7 320.0,258.2 320.2,257.7" fill="#000090" stroke="#000048"/><polygon points="326.4,258.1 326.3,260.1 326.8,259.6 326.5,257.6" fill="#cb0000" stroke="#660000"/><polygon points="329.0,261.1 329.5,262.4 329.8,261.7 328.9,260.1" fill="#bb0000" stroke="#5e0000"/><polygon points="322.2,256.9 320.4,257.2 320.2,257.7 321.6,257.2" fill="#00008e" stroke="#000047"/><polygon points="327.0,262.4 326.7,260.5 327.3,261.3 327.8,262.8" fill="#cc0000" stroke="#660000"/><polygon points="327.8,262.8 327.3,261.3 328.1,262.0 328.7,263.0" fill="#c00000" stroke="#600000"/><polygon points="322.0,261.7 322.2,262.1 322.9,262.3 322.6,262.1" fill="#920000" stroke="#490000"/><polygon points="327.3,259.2 326.5,257.5 327.1,258.2 328.2,259.6" fill="#00009f" stroke="#000050"/><polygon points="321.8,258.8 323.8,258.4 324.7,258.3 322.8,259.0" fill="#000091" stroke="#000048"/><polygon points="324.1,259.1 322.7,260.6 323.0,261.1 324.1,259.6" fill="#bf0000" stroke="#600000"/><polygon points="325.9,257.2 323.3,257.3 323.1,257.6 325.3,257.3" fill="#000088" stroke="#000044"/><polygon points="326.8,255.9 326.4,257.3 326.4,257.3 327.6,254.7" fill="#000098" stroke="#00004c"/><polygon points="326.6,257.4 327.5,258.2 327.6,257.8 326.4,257.3" fill="#000086" stroke="#000043"/><polygon points="325.6,258.2 324.4,260.0 324.9,260.3 325.8,258.4" fill="#c90000" stroke="#640000"/><polygon points="327.1,259.0 327.7,260.9 328.0,260.2 327.0,258.2" fill="#c70000" stroke="#640000"/><polygon points="327.3,257.5 329.0,258.3 328.7,257.9 326.4,257.3" fill="#000086" stroke="#000043"/><polygon points="322.8,259.0 324.7,258.3 325.3,258.1 323.6,259.1" fill="#000096" stroke="#00004b"/><polygon points="322.6,251.7 326.4,257.2 326.4,257.3 324.1,253.9" fill="#000078" stroke="#00003c"/><polygon points="327.7,255.8 326.4,257.3 326.4,257.3 329.6,253.7" fill="#00007f" stroke="#000040"/><polygon points="331.7,259.9 330.4,259.6 331.5,259.7 332.6,259.6" fill="#000085" stroke="#000042"/><polygon points="323.7,262.4 324.5,261.3 325.1,261.4 324.5,262.6" fill="#c60000" stroke="#630000"/><polygon points="326.1,258.3 325.6,260.3 326.3,260.1 326.4,258.1" fill="#cd0000" stroke="#660000"/><polygon points="323.6,259.1 325.3,258.1 325.8,258.0 324.4,259.2" fill="#00009b" stroke="#00004e"/><polygon points="322.7,260.6 322.0,261.7 322.6,262.1 323.0,261.1" fill="#c20000" stroke="#610000"/><polygon points="328.0,260.2 328.7,261.9 329.0,261.1 327.9,259.2" fill="#c40000" stroke="#620000"/><polygon points="324.4,259.2 325.8,258.0 326.0,258.0 325.0,259.2" fill="#00009e" stroke="#00004f"/><polygon points="325.8,258.4 324.9,260.3 325.6,260.3 326.1,258.3" fill="#cd0000" stroke="#660000"/><polygon points="328.9,262.9 328.7,263.0 329.5,262.9 329.5,262.4" fill="#a80000" stroke="#540000"/><polygon points="323.9,257.1 321.6,257.2 321.3,257.7 323.3,257.3" fill="#00008d" stroke="#000046"/><polygon points="320.0,258.2 320.9,258.5 321.8,258.8 320.6,258.7" fill="#000082" stroke="#000041"/><polygon points="325.0,259.2 326.0,258.0 326.2,258.1 325.6,259.4" fill="#0000a0" stroke="#000050"/><polygon points="324.5,262.6 325.1,261.4 325.7,261.6 325.3,262.8" fill="#cb0000" stroke="#660000"/><polygon points="328.2,259.6 327.1,258.2 327.9,258.9 329.3,259.9" fill="#000098" stroke="#00004c"/><polygon points="322.6,262.1 322.9,262.3 323.7,262.4 323.4,262.5" fill="#860000" stroke="#430000"/><polygon points="328.7,261.9 328.9,262.9 329.5,262.4 329.0,261.1" fill="#c80000" stroke="#640000"/><polygon points="330.1,258.2 331.7,259.0 331.4,258.4 329.3,257.7" fill="#00008f" stroke="#000048"/><polygon points="330.6,260.0 329.1,259.4 330.4,259.6 331.7,259.9" fill="#00008b" stroke="#000046"/><polygon points="324.1,259.6 323.0,261.1 323.6,261.6 324.4,260.0" fill="#c90000" stroke="#640000"/><polygon points="328.1,263.1 327.8,262.8 328.7,263.0 328.9,262.9" fill="#920000" stroke="#490000"/><polygon points="325.3,262.8 325.7,261.6 326.3,261.9 326.2,263.0" fill="#ca0000" stroke="#650000"/><polygon points="328.7,257.9 330.4,258.7 330.1,258.2 327.8,257.5" fill="#00008c" stroke="#000046"/><polygon points="325.6,259.4 326.2,258.1 326.4,258.3 326.2,259.6" fill="#00009f" stroke="#000050"/><polygon points="329.3,259.9 327.9,258.9 329.1,259.4 330.6,260.0" fill="#000091" stroke="#000048"/><polygon points="332.2,259.7 331.7,259.9 332.6,259.6 332.6,259.1" fill="#000083" stroke="#000042"/><polygon points="326.8,259.6 327.0,261.5 327.7,260.9 327.1,259.0" fill="#d00101" stroke="#680000"/><polygon points="326.2,263.0 326.3,261.9 327.0,262.4 327.1,263.1" fill="#c30000" stroke="#620000"/><polygon points="327.1,263.1 327.0,262.4 327.8,262.8 328.1,263.1" fill="#b30000" stroke="#5a0000"/><polygon points="330.7,253.3 326.4,257.3 328.6,255.4 333.7,250.0" fill="#000078" stroke="#00003c"/><polygon points="325.3,257.3 323.1,257.6 323.3,257.9 325.0,257.4" fill="#00008b" stroke="#000046"/><polygon points="323.0,261.1 322.6,262.1 323.4,262.5 323.6,261.6" fill="#ce0000" stroke="#670000"/><polygon points="320.2,257.7 320.0,258.2 320.6,258.7 320.4,258.3" fill="#00008f" stroke="#000048"/><polygon points="331.7,259.0 332.2,259.7 332.6,259.1 331.4,258.4" fill="#000098" stroke="#00004c"/><polygon points="320.8,248.8 324.7,255.1 326.4,257.2 322.6,251.7" fill="#00007b" stroke="#00003e"/><polygon points="327.7,260.9 328.0,262.4 328.7,261.9 328.0,260.2" fill="#cf0101" stroke="#680000"/><polygon points="321.6,257.2 320.2,257.7 320.4,258.3 321.3,257.7" fill="#000096" stroke="#00004b"/><polygon points="323.4,262.5 323.7,262.4 324.5,262.6 324.2,262.7" fill="#920000" stroke="#490000"/><polygon points="326.6,257.6 327.0,258.4 327.5,258.2 326.6,257.4" fill="#000088" stroke="#000044"/><polygon points="320.6,258.7 321.8,258.8 322.8,259.0 321.5,259.1" fill="#000086" stroke="#000043"/><polygon points="328.0,262.4 328.1,263.1 328.9,262.9 328.7,261.9" fill="#d40202" stroke="#6a0101"/><polygon points="327.6,254.7 326.4,257.3 326.5,257.3 328.8,253.0" fill="#000094" stroke="#00004a"/><polygon points="326.2,259.6 326.4,258.3 326.7,258.7 327.0,259.9" fill="#00009d" stroke="#00004e"/><polygon points="324.4,260.0 323.6,261.6 324.4,261.8 324.9,260.3" fill="#d40202" stroke="#6a0101"/><polygon points="326.3,260.1 326.2,261.8 327.0,261.5 326.8,259.6" fill="#dd0808" stroke="#6e0404"/><polygon points="324.2,262.7 324.5,262.6 325.3,262.8 325.2,262.9" fill="#920000" stroke="#490000"/><polygon points="324.8,252.8 326.4,257.3 326.4,257.3 325.3,253.1" fill="#00009c" stroke="#00004e"/><polygon points="323.6,261.6 323.4,262.5 324.2,262.7 324.4,261.8" fill="#e81010" stroke="#740808"/><polygon points="324.9,260.3 324.4,261.8 325.3,261.9 325.6,260.3" fill="#e50e0e" stroke="#720707"/><polygon points="327.6,257.8 328.8,258.8 329.0,258.3 327.3,257.5" fill="#00008c" stroke="#000046"/><polygon points="323.3,257.3 321.3,257.7 321.6,258.2 323.1,257.6" fill="#000093" stroke="#00004a"/><polygon points="325.6,260.3 325.3,261.9 326.2,261.8 326.3,260.1" fill="#ec1414" stroke="#760a0a"/><polygon points="327.2,262.8 327.1,263.1 328.1,263.1 328.0,262.4" fill="#cd0000" stroke="#660000"/><polygon points="324.1,252.2 326.4,257.3 326.4,257.3 324.8,252.8" fill="#000096" stroke="#00004b"/><polygon points="325.3,253.1 326.4,257.3 326.4,257.3 325.8,253.0" fill="#0000a0" stroke="#000050"/><polygon points="327.0,261.5 327.2,262.8 328.0,262.4 327.7,260.9" fill="#ed1515" stroke="#760a0a"/><polygon points="331.4,260.1 330.6,260.0 331.7,259.9 332.2,259.7" fill="#000075" stroke="#00003a"/><polygon points="327.0,259.9 326.7,258.7 327.3,259.2 328.0,260.1" fill="#000098" stroke="#00004c"/><polygon points="325.0,257.4 323.3,257.9 323.8,258.2 325.1,257.5" fill="#00008e" stroke="#000047"/><polygon points="321.5,259.1 322.8,259.0 323.6,259.1 322.4,259.4" fill="#00008a" stroke="#000045"/><polygon points="326.2,262.9 326.2,263.0 327.1,263.1 327.2,262.8" fill="#a70000" stroke="#540000"/><polygon points="329.6,253.7 326.4,257.3 328.0,255.9 332.1,250.9" fill="#00008c" stroke="#000046"/><polygon points="324.4,261.8 324.2,262.7 325.2,262.9 325.3,261.9" fill="#ff5959" stroke="#802c2c"/><polygon points="330.4,258.7 331.4,259.6 331.7,259.0 330.1,258.2" fill="#000097" stroke="#00004c"/><polygon points="325.8,253.0 326.4,257.3 326.4,257.3 326.3,252.6" fill="#0000a3" stroke="#000052"/><polygon points="326.3,257.7 326.2,258.5 327.0,258.4 326.6,257.6" fill="#00008c" stroke="#000046"/><polygon points="326.2,261.8 326.2,262.9 327.2,262.8 327.0,261.5" fill="#ff6e6e" stroke="#803737"/><polygon points="333.7,250.0 328.6,255.4 331.6,252.5 336.9,245.9" fill="#000072" stroke="#000039"/><polygon points="319.0,245.0 322.8,252.2 324.7,255.1 320.8,248.8" fill="#000074" stroke="#00003a"/><polygon points="320.4,258.3 320.6,258.7 321.5,259.1 321.0,258.8" fill="#000082" stroke="#000041"/><polygon points="325.3,261.9 325.2,262.9 326.2,262.9 326.2,261.8" fill="#ffa8a8" stroke="#805454"/><polygon points="323.3,251.1 326.0,256.6 326.4,257.3 324.1,252.2" fill="#000096" stroke="#00004b"/><polygon points="328.0,260.1 327.3,259.2 328.2,259.6 329.1,260.3" fill="#000092" stroke="#000049"/><polygon points="322.4,259.4 323.6,259.1 324.4,259.2 323.3,259.7" fill="#00008e" stroke="#000047"/><polygon points="329.0,258.3 330.2,259.3 330.4,258.7 328.7,257.9" fill="#000093" stroke="#00004a"/><polygon points="331.4,259.6 331.4,260.1 332.2,259.7 331.7,259.0" fill="#0000a5" stroke="#000052"/><polygon points="330.3,260.3 329.3,259.9 330.6,260.0 331.4,260.1" fill="#000082" stroke="#000041"/><polygon points="336.9,245.9 331.6,252.5 334.3,249.0 339.6,241.2" fill="#0000c8" stroke="#000064"/><polygon points="321.3,257.7 320.4,258.3 321.0,258.8 321.6,258.2" fill="#0000a2" stroke="#000051"/><polygon points="325.1,257.5 323.8,258.2 324.5,258.4 325.5,257.6" fill="#00008f" stroke="#000048"/><polygon points="329.1,260.3 328.2,259.6 329.3,259.9 330.3,260.3" fill="#00008b" stroke="#000046"/><polygon points="325.9,257.7 325.4,258.5 326.2,258.5 326.3,257.7" fill="#00008f" stroke="#000048"/><polygon points="323.3,259.7 324.4,259.2 325.0,259.2 324.2,259.9" fill="#000090" stroke="#000048"/><polygon points="325.5,257.6 324.5,258.4 325.4,258.5 325.9,257.7" fill="#000090" stroke="#000048"/><polygon points="317.2,240.5 320.7,248.5 322.8,252.2 319.0,245.0" fill="#0000c0" stroke="#000060"/><polygon points="323.1,257.6 321.6,258.2 322.1,258.6 323.3,257.9" fill="#000099" stroke="#00004c"/><polygon points="326.3,252.6 326.4,257.3 326.5,256.7 326.9,251.9" fill="#0000a4" stroke="#000052"/><polygon points="324.2,259.9 325.0,259.2 325.6,259.4 325.2,260.1" fill="#000091" stroke="#000048"/><polygon points="327.5,258.2 328.2,259.1 328.8,258.8 327.6,257.8" fill="#000092" stroke="#000049"/><polygon points="321.0,258.8 321.5,259.1 322.4,259.4 321.8,259.2" fill="#000078" stroke="#00003c"/><polygon points="322.2,249.5 325.2,255.5 326.0,256.6 323.3,251.1" fill="#000093" stroke="#00004a"/><polygon points="328.8,253.0 326.5,257.3 327.7,255.8 330.6,250.8" fill="#00009d" stroke="#00004e"/><polygon points="330.6,260.0 330.3,260.3 331.4,260.1 331.4,259.6" fill="#000098" stroke="#00004c"/><polygon points="330.2,259.3 330.6,260.0 331.4,259.6 330.4,258.7" fill="#0000a4" stroke="#000052"/><polygon points="325.2,260.1 325.6,259.4 326.2,259.6 326.2,260.2" fill="#00008f" stroke="#000048"/><polygon points="321.6,258.2 321.0,258.8 321.8,259.2 322.1,258.6" fill="#0000af" stroke="#000058"/><polygon points="328.8,258.8 329.5,259.7 330.2,259.3 329.0,258.3" fill="#00009c" stroke="#00004e"/><polygon points="326.2,260.2 326.2,259.6 327.0,259.9 327.2,260.4" fill="#00008b" stroke="#000046"/><polygon points="323.3,257.9 322.1,258.6 322.9,259.0 323.8,258.2" fill="#00009f" stroke="#000050"/><polygon points="329.6,260.3 329.1,260.3 330.3,260.3 330.6,260.0" fill="#00007a" stroke="#00003d"/><polygon points="327.2,260.4 327.0,259.9 328.0,260.1 328.4,260.4" fill="#000084" stroke="#000042"/><polygon points="327.0,258.4 327.2,259.4 328.2,259.1 327.5,258.2" fill="#000099" stroke="#00004c"/><polygon points="328.4,260.4 328.0,260.1 329.1,260.3 329.6,260.3" fill="#00007a" stroke="#00003d"/><polygon points="320.9,247.3 324.1,253.9 325.2,255.5 322.2,249.5" fill="#00008f" stroke="#000048"/><polygon points="332.1,250.9 328.0,255.9 330.7,253.3 335.1,247.3" fill="#00008a" stroke="#000045"/><polygon points="329.5,259.7 329.6,260.3 330.6,260.0 330.2,259.3" fill="#0000b7" stroke="#00005c"/><polygon points="322.8,259.6 323.3,259.7 324.2,259.9 323.8,259.8" fill="#000074" stroke="#00003a"/><polygon points="322.1,258.6 321.8,259.2 322.8,259.6 322.9,259.0" fill="#0000b9" stroke="#00005c"/><polygon points="326.9,251.9 326.5,256.7 326.8,255.9 327.9,250.7" fill="#0000a5" stroke="#000052"/><polygon points="323.8,258.2 322.9,259.0 323.9,259.2 324.5,258.4" fill="#0000a3" stroke="#000052"/><polygon points="326.2,258.5 326.1,259.5 327.2,259.4 327.0,258.4" fill="#00009f" stroke="#000050"/><polygon points="328.2,259.1 328.5,260.0 329.5,259.7 328.8,258.8" fill="#0000a8" stroke="#000054"/><polygon points="324.5,258.4 323.9,259.2 325.0,259.4 325.4,258.5" fill="#0000a5" stroke="#000052"/><polygon points="325.4,258.5 325.0,259.4 326.1,259.5 326.2,258.5" fill="#0000a4" stroke="#000052"/><polygon points="328.5,260.0 328.4,260.4 329.6,260.3 329.5,259.7" fill="#0000b7" stroke="#00005c"/><polygon points="322.9,259.0 322.8,259.6 323.8,259.8 323.9,259.2" fill="#0000bf" stroke="#000060"/><polygon points="325.0,260.0 325.2,260.1 326.2,260.2 326.1,260.1" fill="#000077" stroke="#00003c"/><polygon points="319.4,244.5 322.6,251.7 324.1,253.9 320.9,247.3" fill="#00008a" stroke="#000045"/><polygon points="327.3,260.1 327.2,260.4 328.4,260.4 328.5,260.0" fill="#000099" stroke="#00004c"/><polygon points="326.1,260.1 326.2,260.2 327.2,260.4 327.3,260.1" fill="#000083" stroke="#000042"/><polygon points="327.2,259.4 327.3,260.1 328.5,260.0 328.2,259.1" fill="#0000b6" stroke="#00005b"/><polygon points="323.9,259.2 323.8,259.8 325.0,260.0 325.0,259.4" fill="#0000c4" stroke="#000062"/><polygon points="326.1,259.5 326.1,260.1 327.3,260.1 327.2,259.4" fill="#0000c2" stroke="#000061"/><polygon points="325.0,259.4 325.0,260.0 326.1,260.1 326.1,259.5" fill="#0000c7" stroke="#000064"/><polygon points="330.6,250.8 327.7,255.8 329.6,253.7 332.9,248.0" fill="#00009c" stroke="#00004e"/><polygon points="335.1,247.3 330.7,253.3 333.7,250.0 338.3,243.0" fill="#0000d5" stroke="#00006a"/><polygon points="317.8,241.0 320.8,248.8 322.6,251.7 319.4,244.5" fill="#0000d5" stroke="#00006a"/><polygon points="327.9,250.7 326.8,255.9 327.6,254.7 329.1,249.1" fill="#0000a7" stroke="#000054"/><polygon points="341.4,237.9 336.9,245.9 339.6,241.2 343.8,232.3" fill="#0000bb" stroke="#00005e"/><polygon points="338.3,243.0 333.7,250.0 336.9,245.9 341.4,237.9" fill="#0000c6" stroke="#000063"/><polygon points="316.2,236.7 319.0,245.0 320.8,248.8 317.8,241.0" fill="#0000ca" stroke="#000065"/><polygon points="314.9,231.7 317.2,240.5 319.0,245.0 316.2,236.7" fill="#0000be" stroke="#00005f"/><polygon points="332.9,248.0 329.6,253.7 332.1,250.9 335.6,244.4" fill="#0000f7" stroke="#00007c"/><polygon points="329.1,249.1 327.6,254.7 328.8,253.0 330.8,246.9" fill="#0000a8" stroke="#000054"/><polygon points="323.3,245.8 324.8,252.8 325.3,253.1 324.2,246.3" fill="#0000a6" stroke="#000053"/><polygon points="322.3,245.0 324.1,252.2 324.8,252.8 323.3,245.8" fill="#0000a3" stroke="#000052"/><polygon points="324.2,246.3 325.3,253.1 325.8,253.0 325.2,246.2" fill="#0000a9" stroke="#000054"/><polygon points="321.2,243.6 323.3,251.1 324.1,252.2 322.3,245.0" fill="#0000ff" stroke="#000080"/><polygon points="320.0,241.7 322.2,249.5 323.3,251.1 321.2,243.6" fill="#0000fc" stroke="#00007e"/><polygon points="325.2,246.2 325.8,253.0 326.3,252.6 326.2,245.8" fill="#0000ab" stroke="#000056"/><polygon points="335.6,244.4 332.1,250.9 335.1,247.3 338.7,240.0" fill="#0000f0" stroke="#000078"/><polygon points="318.7,239.2 320.9,247.3 322.2,249.5 320.0,241.7" fill="#0000f5" stroke="#00007a"/><polygon points="330.8,246.9 328.8,253.0 330.6,250.8 332.8,244.2" fill="#0000ff" stroke="#000080"/><polygon points="326.2,245.8 326.3,252.6 326.9,251.9 327.3,244.9" fill="#0000ff" stroke="#000080"/><polygon points="317.3,236.1 319.4,244.5 320.9,247.3 318.7,239.2" fill="#0000ee" stroke="#000077"/><polygon points="314.2,212.4 313.9,220.2 314.1,226.2 313.9,217.9" fill="#0000bb" stroke="#00005e"/><polygon points="344.4,229.2 341.4,237.9 343.8,232.3 346.3,223.2" fill="#0000c4" stroke="#000062"/><polygon points="338.7,240.0 335.1,247.3 338.3,243.0 341.7,234.9" fill="#0000e5" stroke="#000072"/><polygon points="316.1,232.4 317.8,241.0 319.4,244.5 317.3,236.1" fill="#0000e5" stroke="#000072"/><polygon points="313.9,217.9 314.1,226.2 314.9,231.7 314.2,223.2" fill="#0000c2" stroke="#000061"/><polygon points="341.7,234.9 338.3,243.0 341.4,237.9 344.4,229.2" fill="#0000d6" stroke="#00006b"/><polygon points="314.9,228.0 316.2,236.7 317.8,241.0 316.1,232.4" fill="#0000da" stroke="#00006d"/><polygon points="314.2,223.2 314.9,231.7 316.2,236.7 314.9,228.0" fill="#0000cf" stroke="#000068"/><polygon points="327.3,244.9 326.9,251.9 327.9,250.7 328.6,243.5" fill="#0000ff" stroke="#000080"/><polygon points="332.8,244.2 330.6,250.8 332.9,248.0 335.3,240.7" fill="#0000ff" stroke="#000080"/><polygon points="328.6,243.5 327.9,250.7 329.1,249.1 330.2,241.6" fill="#0000ff" stroke="#000080"/><polygon points="335.3,240.7 332.9,248.0 335.6,244.4 338.0,236.6" fill="#0000ff" stroke="#000080"/><polygon points="346.8,214.7 346.3,223.2 347.2,217.2 347.2,208.8" fill="#0000c3" stroke="#000062"/><polygon points="319.0,198.1 317.3,201.7 315.3,206.9 317.2,202.2" fill="#0000b9" stroke="#00005c"/><polygon points="330.2,241.6 329.1,249.1 330.8,246.9 332.0,239.2" fill="#0000ff" stroke="#000080"/><polygon points="317.2,202.2 315.3,206.9 314.2,212.4 315.9,206.7" fill="#0000c4" stroke="#000062"/><polygon points="338.0,236.6 335.6,244.4 338.7,240.0 340.7,231.9" fill="#0000ff" stroke="#000080"/><polygon points="345.5,220.7 344.4,229.2 346.3,223.2 346.8,214.7" fill="#0000d8" stroke="#00006c"/><polygon points="321.4,236.0 322.3,245.0 323.3,245.8 322.5,237.0" fill="#0000ff" stroke="#000080"/><polygon points="320.3,234.6 321.2,243.6 322.3,245.0 321.4,236.0" fill="#0000ff" stroke="#000080"/><polygon points="319.1,232.6 320.0,241.7 321.2,243.6 320.3,234.6" fill="#0000ff" stroke="#000080"/><polygon points="315.9,206.7 314.2,212.4 313.9,217.9 315.3,211.2" fill="#0000cf" stroke="#000068"/><polygon points="322.5,237.0 323.3,245.8 324.2,246.3 323.7,237.5" fill="#0000ff" stroke="#000080"/><polygon points="318.0,230.2 318.7,239.2 320.0,241.7 319.1,232.6" fill="#0000ff" stroke="#000080"/><polygon points="315.3,211.2 313.9,217.9 314.2,223.2 315.2,215.6" fill="#0000da" stroke="#00006d"/><polygon points="340.7,231.9 338.7,240.0 341.7,234.9 343.3,226.5" fill="#0000f6" stroke="#00007b"/><polygon points="323.7,237.5 324.2,246.3 325.2,246.2 324.9,237.5" fill="#0000ff" stroke="#000080"/><polygon points="317.0,227.2 317.3,236.1 318.7,239.2 318.0,230.2" fill="#0000fe" stroke="#00007f"/><polygon points="343.3,226.5 341.7,234.9 344.4,229.2 345.5,220.7" fill="#0000e9" stroke="#000074"/><polygon points="315.2,215.6 314.2,223.2 314.9,228.0 315.5,219.9" fill="#0000e4" stroke="#000072"/><polygon points="316.1,223.8 316.1,232.4 317.3,236.1 317.0,227.2" fill="#0000f6" stroke="#00007b"/><polygon points="315.5,219.9 314.9,228.0 316.1,232.4 316.1,223.8" fill="#0000ed" stroke="#000076"/><polygon points="332.0,239.2 330.8,246.9 332.8,244.2 334.1,236.2" fill="#0000ff" stroke="#000080"/><polygon points="324.9,237.5 325.2,246.2 326.2,245.8 326.1,237.0" fill="#0000ff" stroke="#000080"/><polygon points="345.2,202.5 347.2,208.8 346.4,203.5 344.2,197.8" fill="#0000c9" stroke="#000064"/><polygon points="336.4,190.0 339.2,191.1 335.6,189.6 333.6,188.8" fill="#0000b8" stroke="#00005c"/><polygon points="326.1,237.0 326.2,245.8 327.3,244.9 327.4,236.1" fill="#0000ff" stroke="#000080"/><polygon points="334.1,236.2 332.8,244.2 335.3,240.7 336.4,232.6" fill="#0000ff" stroke="#000080"/><polygon points="327.4,236.1 327.3,244.9 328.6,243.5 328.9,234.7" fill="#0000ff" stroke="#000080"/><polygon points="338.7,192.1 342.1,193.9 339.2,191.1 336.4,190.0" fill="#0000cc" stroke="#000066"/><polygon points="345.3,207.7 346.8,214.7 347.2,208.8 345.2,202.5" fill="#0000df" stroke="#000070"/><polygon points="336.4,232.6 335.3,240.7 338.0,236.6 338.7,228.4" fill="#0000ff" stroke="#000080"/><polygon points="328.9,234.7 328.6,243.5 330.2,241.6 330.5,232.8" fill="#0000ff" stroke="#000080"/><polygon points="344.5,213.1 345.5,220.7 346.8,214.7 345.3,207.7" fill="#0000f1" stroke="#000078"/><polygon points="323.0,195.3 321.3,194.5 319.0,198.1 321.3,197.7" fill="#0000e2" stroke="#000071"/><polygon points="321.3,197.7 319.0,198.1 317.2,202.2 319.9,200.5" fill="#0000e5" stroke="#000072"/><polygon points="340.5,195.1 344.2,197.8 342.1,193.9 338.7,192.1" fill="#0000e1" stroke="#000070"/><polygon points="324.9,193.5 324.1,191.6 321.3,194.5 323.0,195.3" fill="#0000e1" stroke="#000070"/><polygon points="319.9,200.5 317.2,202.2 315.9,206.7 318.9,203.6" fill="#0000ea" stroke="#000075"/><polygon points="338.7,228.4 338.0,236.6 340.7,231.9 341.0,223.7" fill="#0000ff" stroke="#000080"/><polygon points="327.0,192.2 327.2,189.7 324.1,191.6 324.9,193.5" fill="#0000e4" stroke="#000072"/><polygon points="318.9,203.6 315.9,206.7 315.3,211.2 318.2,206.8" fill="#0000f0" stroke="#000078"/><polygon points="318.2,206.8 315.3,211.2 315.2,215.6 317.8,210.0" fill="#0000f6" stroke="#00007b"/><polygon points="343.0,218.5 343.3,226.5 345.5,220.7 344.5,213.1" fill="#0000ff" stroke="#000080"/><polygon points="341.0,223.7 340.7,231.9 343.3,226.5 343.0,218.5" fill="#0000ff" stroke="#000080"/><polygon points="317.8,210.0 315.2,215.6 315.5,219.9 317.8,213.1" fill="#0000fd" stroke="#00007e"/><polygon points="330.5,232.8 330.2,241.6 332.0,239.2 332.2,230.4" fill="#0000ff" stroke="#000080"/><polygon points="317.8,213.1 315.5,219.9 316.1,223.8 318.1,216.0" fill="#0000ff" stroke="#000080"/><polygon points="329.1,191.5 330.4,188.7 327.2,189.7 327.0,192.2" fill="#0000ea" stroke="#000075"/><polygon points="318.1,216.0 316.1,223.8 317.0,227.2 318.5,218.7" fill="#0000ff" stroke="#000080"/><polygon points="318.5,218.7 317.0,227.2 318.0,230.2 319.2,221.1" fill="#0000ff" stroke="#000080"/><polygon points="319.2,221.1 318.0,230.2 319.1,232.6 319.9,223.1" fill="#0000ff" stroke="#000080"/><polygon points="319.9,223.1 319.1,232.6 320.3,234.6 320.8,224.7" fill="#0000ff" stroke="#000080"/><polygon points="320.8,224.7 320.3,234.6 321.4,236.0 321.8,226.0" fill="#0000ff" stroke="#000080"/><polygon points="321.8,226.0 321.4,236.0 322.5,237.0 322.8,226.8" fill="#0000ff" stroke="#000080"/><polygon points="322.8,226.8 322.5,237.0 323.7,237.5 323.8,227.3" fill="#0000ff" stroke="#000080"/><polygon points="331.1,191.6 333.6,188.8 330.4,188.7 329.1,191.5" fill="#0000f4" stroke="#00007a"/><polygon points="341.5,198.8 345.2,202.5 344.2,197.8 340.5,195.1" fill="#0000f3" stroke="#00007a"/><polygon points="323.8,227.3 323.7,237.5 324.9,237.5 325.0,227.3" fill="#0000ff" stroke="#000080"/><polygon points="332.2,230.4 332.0,239.2 334.1,236.2 334.0,227.6" fill="#0000ff" stroke="#000080"/><polygon points="325.0,227.3 324.9,237.5 326.1,237.0 326.1,226.9" fill="#0000ff" stroke="#000080"/><polygon points="333.0,192.4 336.4,190.0 333.6,188.8 331.1,191.6" fill="#0000ff" stroke="#000080"/><polygon points="341.8,203.0 345.3,207.7 345.2,202.5 341.5,198.8" fill="#0000ff" stroke="#000080"/><polygon points="326.1,226.9 326.1,237.0 327.4,236.1 327.4,226.1" fill="#0000ff" stroke="#000080"/><polygon points="334.0,227.6 334.1,236.2 336.4,232.6 335.9,224.2" fill="#0000ff" stroke="#000080"/><polygon points="334.6,193.8 338.7,192.1 336.4,190.0 333.0,192.4" fill="#0000ff" stroke="#000080"/><polygon points="327.4,226.1 327.4,236.1 328.9,234.7 328.6,224.9" fill="#0000ff" stroke="#000080"/><polygon points="341.5,207.4 344.5,213.1 345.3,207.7 341.8,203.0" fill="#0000ff" stroke="#000080"/><polygon points="335.9,224.2 336.4,232.6 338.7,228.4 337.7,220.4" fill="#0000ff" stroke="#000080"/><polygon points="335.8,195.8 340.5,195.1 338.7,192.1 334.6,193.8" fill="#0000ff" stroke="#000080"/><polygon points="328.6,224.9 328.9,234.7 330.5,232.8 329.9,223.4" fill="#0000ff" stroke="#000080"/><polygon points="337.7,220.4 338.7,228.4 341.0,223.7 339.3,216.3" fill="#0000ff" stroke="#000080"/><polygon points="323.1,202.0 319.9,200.5 318.9,203.6 322.5,203.5" fill="#0000ff" stroke="#000080"/><polygon points="340.6,211.9 343.0,218.5 344.5,213.1 341.5,207.4" fill="#0000ff" stroke="#000080"/><polygon points="323.9,200.6 321.3,197.7 319.9,200.5 323.1,202.0" fill="#0000ff" stroke="#000080"/><polygon points="322.5,203.5 318.9,203.6 318.2,206.8 322.1,205.1" fill="#0000ff" stroke="#000080"/><polygon points="322.1,205.1 318.2,206.8 317.8,210.0 321.8,206.7" fill="#0000ff" stroke="#000080"/><polygon points="324.7,199.4 323.0,195.3 321.3,197.7 323.9,200.6" fill="#0000ff" stroke="#000080"/><polygon points="321.8,206.7 317.8,210.0 317.8,213.1 321.6,208.4" fill="#0000ff" stroke="#000080"/><polygon points="339.3,216.3 341.0,223.7 343.0,218.5 340.6,211.9" fill="#0000ff" stroke="#000080"/><polygon points="321.6,208.4 317.8,213.1 318.1,216.0 321.7,210.0" fill="#0000ff" stroke="#000080"/><polygon points="325.7,198.6 324.9,193.5 323.0,195.3 324.7,199.4" fill="#0000ff" stroke="#000080"/><polygon points="321.7,210.0 318.1,216.0 318.5,218.7 321.8,211.5" fill="#0000ff" stroke="#000080"/><polygon points="321.8,211.5 318.5,218.7 319.2,221.1 322.1,212.8" fill="#0000ff" stroke="#000080"/><polygon points="322.1,212.8 319.2,221.1 319.9,223.1 322.4,214.0" fill="#0000ff" stroke="#000080"/><polygon points="326.7,197.9 327.0,192.2 324.9,193.5 325.7,198.6" fill="#0000ff" stroke="#000080"/><polygon points="322.4,214.0 319.9,223.1 320.8,224.7 322.9,215.0" fill="#0000ff" stroke="#000080"/><polygon points="322.9,215.0 320.8,224.7 321.8,226.0 323.5,215.7" fill="#0000ff" stroke="#000080"/><polygon points="329.9,223.4 330.5,232.8 332.2,230.4 331.3,221.4" fill="#0000ff" stroke="#000080"/><polygon points="327.7,197.7 329.1,191.5 327.0,192.2 326.7,197.9" fill="#0000ff" stroke="#000080"/><polygon points="336.7,198.3 341.5,198.8 340.5,195.1 335.8,195.8" fill="#0000ff" stroke="#000080"/><polygon points="323.5,215.7 321.8,226.0 322.8,226.8 324.1,216.3" fill="#0000ff" stroke="#000080"/><polygon points="324.1,216.3 322.8,226.8 323.8,227.3 324.8,216.5" fill="#0000ff" stroke="#000080"/><polygon points="328.6,197.7 331.1,191.6 329.1,191.5 327.7,197.7" fill="#0000ff" stroke="#000080"/><polygon points="324.8,216.5 323.8,227.3 325.0,227.3 325.5,216.6" fill="#0000ff" stroke="#000080"/><polygon points="331.3,221.4 332.2,230.4 334.0,227.6 332.6,219.1" fill="#0000ff" stroke="#000080"/><polygon points="337.1,201.1 341.8,203.0 341.5,198.8 336.7,198.3" fill="#0000ff" stroke="#000080"/><polygon points="329.5,198.0 333.0,192.4 331.1,191.6 328.6,197.7" fill="#0000ff" stroke="#000080"/><polygon points="325.5,216.6 325.0,227.3 326.1,226.9 326.2,216.3" fill="#0000ff" stroke="#000080"/><polygon points="332.6,219.1 334.0,227.6 335.9,224.2 333.9,216.5" fill="#0000ff" stroke="#000080"/><polygon points="326.2,216.3 326.1,226.9 327.4,226.1 327.0,215.9" fill="#0000ff" stroke="#000080"/><polygon points="330.3,198.7 334.6,193.8 333.0,192.4 329.5,198.0" fill="#0000ff" stroke="#000080"/><polygon points="337.1,204.2 341.5,207.4 341.8,203.0 337.1,201.1" fill="#0000ff" stroke="#000080"/><polygon points="327.0,215.9 327.4,226.1 328.6,224.9 327.8,215.1" fill="#0000ff" stroke="#000080"/><polygon points="333.9,216.5 335.9,224.2 337.7,220.4 335.0,213.6" fill="#0000ff" stroke="#000080"/><polygon points="330.9,199.7 335.8,195.8 334.6,193.8 330.3,198.7" fill="#0000ff" stroke="#000080"/><polygon points="336.7,207.4 340.6,211.9 341.5,207.4 337.1,204.2" fill="#0000ff" stroke="#000080"/><polygon points="335.0,213.6 337.7,220.4 339.3,216.3 336.0,210.5" fill="#0000ff" stroke="#000080"/><polygon points="326.4,206.3 322.5,203.5 322.1,205.1 326.4,206.3" fill="#0000ff" stroke="#000080"/><polygon points="326.4,206.3 322.1,205.1 321.8,206.7 326.4,206.3" fill="#0000ff" stroke="#000080"/><polygon points="326.4,206.3 323.1,202.0 322.5,203.5 326.4,206.3" fill="#0000ff" stroke="#000080"/><polygon points="326.4,206.3 321.8,206.7 321.6,208.4 326.4,206.3" fill="#0000ff" stroke="#000080"/><polygon points="326.4,206.3 321.6,208.4 321.7,210.0 326.4,206.3" fill="#0000ff" stroke="#000080"/><polygon points="326.4,206.3 323.9,200.6 323.1,202.0 326.4,206.3" fill="#0000ff" stroke="#000080"/><polygon points="336.0,210.5 339.3,216.3 340.6,211.9 336.7,207.4" fill="#0000ff" stroke="#000080"/><polygon points="326.4,206.3 321.7,210.0 321.8,211.5 326.4,206.3" fill="#0000ff" stroke="#000080"/><polygon points="327.8,215.1 328.6,224.9 329.9,223.4 328.5,214.2" fill="#0000ff" stroke="#000080"/><polygon points="326.4,206.3 324.7,199.4 323.9,200.6 326.4,206.3" fill="#0000ff" stroke="#000080"/><polygon points="326.4,206.3 321.8,211.5 322.1,212.8 326.4,206.3" fill="#0000ff" stroke="#000080"/><polygon points="326.4,206.3 325.7,198.6 324.7,199.4 326.4,206.3" fill="#0000ff" stroke="#000080"/><polygon points="326.4,206.3 322.1,212.8 322.4,214.0 326.4,206.3" fill="#0000ff" stroke="#000080"/><polygon points="326.4,206.3 322.4,214.0 322.9,215.0 326.4,206.3" fill="#0000ff" stroke="#000080"/><polygon points="326.4,206.3 326.7,197.9 325.7,198.6 326.4,206.3" fill="#0000ff" stroke="#000080"/><polygon points="331.4,200.9 336.7,198.3 335.8,195.8 330.9,199.7" fill="#0000ff" stroke="#000080"/><polygon points="326.4,206.3 322.9,215.0 323.5,215.7 326.4,206.3" fill="#0000ff" stroke="#000080"/><polygon points="326.4,206.3 327.7,197.7 326.7,197.9 326.4,206.3" fill="#0000ff" stroke="#000080"/><polygon points="326.4,206.3 323.5,215.7 324.1,216.3 326.4,206.3" fill="#0000ff" stroke="#000080"/><polygon points="328.5,214.2 329.9,223.4 331.3,221.4 329.3,213.1" fill="#0000ff" stroke="#000080"/><polygon points="326.4,206.3 324.1,216.3 324.8,216.5 326.4,206.3" fill="#0000ff" stroke="#000080"/><polygon points="326.4,206.3 328.6,197.7 327.7,197.7 326.4,206.3" fill="#0000ff" stroke="#000080"/><polygon points="326.4,206.3 324.8,216.5 325.5,216.6 326.4,206.3" fill="#0000ff" stroke="#000080"/><polygon points="326.4,206.3 329.5,198.0 328.6,197.7 326.4,206.3" fill="#0000ff" stroke="#000080"/><polygon points="326.4,206.3 325.5,216.6 326.2,216.3 326.4,206.3" fill="#0000ff" stroke="#000080"/><polygon points="331.7,202.2 337.1,201.1 336.7,198.3 331.4,200.9" fill="#0000ff" stroke="#000080"/><polygon points="326.4,206.3 330.3,198.7 329.5,198.0 326.4,206.3" fill="#0000ff" stroke="#000080"/><polygon points="326.4,206.3 326.2,216.3 327.0,215.9 326.4,206.3" fill="#0000ff" stroke="#000080"/><polygon points="329.3,213.1 331.3,221.4 332.6,219.1 330.0,211.8" fill="#0000ff" stroke="#000080"/><polygon points="328.7,249.8 328.5,251.4 326.8,251.5 326.9,249.8" fill="#ff4646" stroke="#802323"/><polygon points="326.4,206.3 330.9,199.7 330.3,198.7 326.4,206.3" fill="#0000ff" stroke="#000080"/><polygon points="326.4,206.3 327.0,215.9 327.8,215.1 326.4,206.3" fill="#0000ff" stroke="#000080"/><polygon points="326.9,249.3 326.9,249.8 325.1,250.0 325.1,249.1" fill="#c30000" stroke="#620000"/><polygon points="326.9,249.8 326.8,251.5 325.3,251.8 325.1,250.0" fill="#f51c1c" stroke="#7a0e0e"/><polygon points="331.8,203.8 337.1,204.2 337.1,201.1 331.7,202.2" fill="#0000ff" stroke="#000080"/><polygon points="326.4,206.3 327.8,215.1 328.5,214.2 326.4,206.3" fill="#0000ff" stroke="#000080"/><polygon points="326.4,206.3 331.4,200.9 330.9,199.7 326.4,206.3" fill="#0000ff" stroke="#000080"/><polygon points="328.5,249.6 328.7,249.8 326.9,249.8 326.9,249.3" fill="#a20000" stroke="#510000"/><polygon points="330.5,250.1 330.1,251.6 328.5,251.4 328.7,249.8" fill="#ff3737" stroke="#801c1c"/><polygon points="330.0,211.8 332.6,219.1 333.9,216.5 330.6,210.3" fill="#0000ff" stroke="#000080"/><polygon points="326.4,206.3 328.5,214.2 329.3,213.1 326.4,206.3" fill="#0000ff" stroke="#000080"/><polygon points="326.4,206.3 331.7,202.2 331.4,200.9 326.4,206.3" fill="#0000ff" stroke="#000080"/><polygon points="325.1,249.1 325.1,250.0 323.5,250.4 323.3,249.2" fill="#f11818" stroke="#780c0c"/><polygon points="326.4,206.3 329.3,213.1 330.0,211.8 326.4,206.3" fill="#0000ff" stroke="#000080"/><polygon points="326.4,206.3 331.8,203.8 331.7,202.2 326.4,206.3" fill="#0000ff" stroke="#000080"/><polygon points="331.7,205.4 336.7,207.4 337.1,204.2 331.8,203.8" fill="#0000ff" stroke="#000080"/><polygon points="330.6,210.3 333.9,216.5 335.0,213.6 331.1,208.7" fill="#0000ff" stroke="#000080"/><polygon points="326.4,206.3 330.0,211.8 330.6,210.3 326.4,206.3" fill="#0000ff" stroke="#000080"/><polygon points="326.4,206.3 331.7,205.4 331.8,203.8 326.4,206.3" fill="#0000ff" stroke="#000080"/><polygon points="330.1,249.9 330.5,250.1 328.7,249.8 328.5,249.6" fill="#900000" stroke="#480000"/><polygon points="326.4,206.3 330.6,210.3 331.1,208.7 326.4,206.3" fill="#0000ff" stroke="#000080"/><polygon points="326.4,206.3 331.5,207.1 331.7,205.4 326.4,206.3" fill="#0000ff" stroke="#000080"/><polygon points="331.5,207.1 336.0,210.5 336.7,207.4 331.7,205.4" fill="#0000ff" stroke="#000080"/><polygon points="326.4,206.3 331.1,208.7 331.5,207.1 326.4,206.3" fill="#0000ff" stroke="#000080"/><polygon points="331.1,208.7 335.0,213.6 336.0,210.5 331.5,207.1" fill="#0000ff" stroke="#000080"/><polygon points="325.1,250.0 325.3,251.8 324.1,252.5 323.5,250.4" fill="#d40202" stroke="#6a0101"/><polygon points="332.1,250.6 331.5,252.0 330.1,251.6 330.5,250.1" fill="#e30d0d" stroke="#720606"/><polygon points="323.3,249.2 323.5,250.4 322.2,251.2 321.7,249.6" fill="#dd0808" stroke="#6e0404"/><polygon points="328.5,251.4 327.9,253.5 326.7,253.7 326.8,251.5" fill="#cc0000" stroke="#660000"/><polygon points="331.7,250.3 332.1,250.6 330.5,250.1 330.1,249.9" fill="#8e0000" stroke="#470000"/><polygon points="330.1,251.6 329.1,253.6 327.9,253.5 328.5,251.4" fill="#cc0000" stroke="#660000"/><polygon points="325.4,250.1 325.1,249.1 323.3,249.2 323.8,249.5" fill="#a10000" stroke="#500000"/><polygon points="326.8,250.7 326.9,249.3 325.1,249.1 325.4,250.1" fill="#b10000" stroke="#580000"/><polygon points="326.8,251.5 326.7,253.7 325.7,254.1 325.3,251.8" fill="#c90000" stroke="#640000"/><polygon points="323.5,250.4 324.1,252.5 323.4,253.4 322.2,251.2" fill="#c80000" stroke="#640000"/><polygon points="331.5,252.0 330.1,254.0 329.1,253.6 330.1,251.6" fill="#c80000" stroke="#640000"/><polygon points="333.5,251.2 332.6,252.7 331.5,252.0 332.1,250.6" fill="#ce0000" stroke="#670000"/><polygon points="327.9,251.2 328.5,249.6 326.9,249.3 326.8,250.7" fill="#b80000" stroke="#5c0000"/><polygon points="333.1,250.6 333.5,251.2 332.1,250.6 331.7,250.3" fill="#970000" stroke="#4c0000"/><polygon points="321.7,249.6 322.2,251.2 321.5,252.3 320.5,250.4" fill="#c90000" stroke="#640000"/><polygon points="322.0,249.3 321.7,249.6 320.5,250.4 320.4,249.4" fill="#b60000" stroke="#5b0000"/><polygon points="329.0,251.6 330.1,249.9 328.5,249.6 327.9,251.2" fill="#ba0000" stroke="#5d0000"/><polygon points="325.3,251.8 325.7,254.1 325.1,254.8 324.1,252.5" fill="#c40000" stroke="#620000"/><polygon points="332.6,252.7 330.7,254.6 330.1,254.0 331.5,252.0" fill="#c20000" stroke="#610000"/><polygon points="330.1,251.7 331.7,250.3 330.1,249.9 329.0,251.6" fill="#b80000" stroke="#5c0000"/><polygon points="334.5,252.0 333.2,253.5 332.6,252.7 333.5,251.2" fill="#c20000" stroke="#610000"/><polygon points="322.2,251.2 323.4,253.4 323.3,254.5 321.5,252.3" fill="#be0000" stroke="#5f0000"/><polygon points="334.5,251.1 334.5,252.0 333.5,251.2 333.1,250.6" fill="#a90000" stroke="#540000"/><polygon points="324.7,251.8 323.8,249.5 322.0,249.3 323.2,250.7" fill="#b70000" stroke="#5c0000"/><polygon points="320.4,249.4 320.5,250.4 319.8,251.4 319.2,250.0" fill="#c00000" stroke="#600000"/><polygon points="331.4,251.7 333.1,250.6 331.7,250.3 330.1,251.7" fill="#b20000" stroke="#590000"/><polygon points="323.2,250.7 322.0,249.3 320.4,249.4 321.4,250.0" fill="#a80000" stroke="#540000"/><polygon points="329.1,253.6 327.8,255.7 327.2,255.7 327.9,253.5" fill="#be0000" stroke="#5f0000"/><polygon points="324.1,252.5 325.1,254.8 324.9,255.6 323.4,253.4" fill="#bd0000" stroke="#5e0000"/><polygon points="320.5,250.4 321.5,252.3 321.5,253.5 319.8,251.4" fill="#bc0000" stroke="#5e0000"/><polygon points="327.9,253.5 327.2,255.7 326.6,255.9 326.7,253.7" fill="#be0000" stroke="#5f0000"/><polygon points="325.9,253.1 325.4,250.1 323.8,249.5 324.7,251.8" fill="#c20000" stroke="#610000"/><polygon points="333.2,253.5 330.9,255.2 330.7,254.6 332.6,252.7" fill="#b90000" stroke="#5c0000"/><polygon points="330.1,254.0 328.2,255.9 327.8,255.7 329.1,253.6" fill="#bb0000" stroke="#5e0000"/><polygon points="326.7,253.7 326.6,255.9 326.2,256.3 325.7,254.1" fill="#bb0000" stroke="#5e0000"/><polygon points="321.4,250.0 320.4,249.4 319.2,250.0 319.8,249.7" fill="#900000" stroke="#480000"/><polygon points="326.6,254.3 326.8,250.7 325.4,250.1 325.9,253.1" fill="#c90000" stroke="#640000"/><polygon points="332.9,251.6 334.5,251.1 333.1,250.6 331.4,251.7" fill="#a90000" stroke="#540000"/><polygon points="335.1,252.9 333.3,254.4 333.2,253.5 334.5,252.0" fill="#b60000" stroke="#5b0000"/><polygon points="330.7,254.6 328.4,256.3 328.2,255.9 330.1,254.0" fill="#b70000" stroke="#5c0000"/><polygon points="335.5,251.8 335.1,252.9 334.5,252.0 334.5,251.1" fill="#b10000" stroke="#580000"/><polygon points="321.5,252.3 323.3,254.5 323.8,255.6 321.5,253.5" fill="#b40000" stroke="#5a0000"/><polygon points="326.9,255.2 327.9,251.2 326.8,250.7 326.6,254.3" fill="#cd0000" stroke="#660000"/><polygon points="319.2,250.0 319.8,251.4 319.8,252.7 318.5,251.0" fill="#b40000" stroke="#5a0000"/><polygon points="323.4,253.4 324.9,255.6 325.4,256.5 323.3,254.5" fill="#b50000" stroke="#5a0000"/><polygon points="325.7,254.1 326.2,256.3 326.1,256.8 325.1,254.8" fill="#b70000" stroke="#5c0000"/><polygon points="319.8,251.4 321.5,253.5 322.1,254.7 319.8,252.7" fill="#b00000" stroke="#580000"/><polygon points="333.3,254.4 330.5,255.9 330.9,255.2 333.2,253.5" fill="#b00000" stroke="#580000"/><polygon points="327.1,255.5 329.0,251.6 327.9,251.2 326.9,255.2" fill="#cc0000" stroke="#660000"/><polygon points="319.8,249.7 319.2,250.0 318.5,251.0 318.5,250.0" fill="#9b0000" stroke="#4e0000"/><polygon points="334.3,251.8 335.5,251.8 334.5,251.1 332.9,251.6" fill="#9d0000" stroke="#4e0000"/><polygon points="325.1,254.3 323.2,250.7 321.4,250.0 323.5,252.4" fill="#ba0000" stroke="#5d0000"/><polygon points="330.9,255.2 328.1,256.7 328.4,256.3 330.7,254.6" fill="#b10000" stroke="#580000"/><polygon points="323.5,252.4 321.4,250.0 319.8,249.7 321.6,251.1" fill="#ae0000" stroke="#570000"/><polygon points="327.6,255.3 330.1,251.7 329.0,251.6 327.1,255.5" fill="#c80000" stroke="#640000"/><polygon points="328.4,254.7 331.4,251.7 330.1,251.7 327.6,255.3" fill="#c10000" stroke="#600000"/><polygon points="326.2,256.5 324.7,251.8 323.2,250.7 325.1,254.3" fill="#c40000" stroke="#620000"/><polygon points="329.8,254.0 332.9,251.6 331.4,251.7 328.4,254.7" fill="#b70000" stroke="#5c0000"/><polygon points="335.1,253.9 332.7,255.4 333.3,254.4 335.1,252.9" fill="#aa0000" stroke="#550000"/><polygon points="321.5,253.5 323.8,255.6 324.9,256.5 322.1,254.7" fill="#ac0000" stroke="#560000"/><polygon points="321.6,251.1 319.8,249.7 318.5,250.0 319.8,250.4" fill="#a20000" stroke="#510000"/><polygon points="336.1,252.7 335.1,253.9 335.1,252.9 335.5,251.8" fill="#a90000" stroke="#540000"/><polygon points="325.1,254.8 326.1,256.8 326.4,257.3 324.9,255.6" fill="#b20000" stroke="#590000"/><polygon points="318.5,251.0 319.8,252.7 320.5,254.0 318.5,252.2" fill="#a80000" stroke="#540000"/><polygon points="323.3,254.5 325.4,256.5 326.4,257.3 323.8,255.6" fill="#ad0000" stroke="#560000"/><polygon points="332.7,255.4 329.5,256.6 330.5,255.9 333.3,254.4" fill="#a80000" stroke="#540000"/><polygon points="330.5,255.9 327.3,257.1 328.1,256.7 330.9,255.2" fill="#ab0000" stroke="#560000"/><polygon points="326.4,257.3 325.9,253.1 324.7,251.8 326.2,256.5" fill="#d10101" stroke="#680000"/><polygon points="327.8,255.7 326.4,257.3 326.4,257.3 327.2,255.7" fill="#b00000" stroke="#580000"/><polygon points="319.8,252.7 322.1,254.7 323.3,255.8 320.5,254.0" fill="#a70000" stroke="#540000"/><polygon points="331.4,253.3 334.3,251.8 332.9,251.6 329.8,254.0" fill="#ad0000" stroke="#560000"/><polygon points="327.2,255.7 326.4,257.3 326.4,257.3 326.6,255.9" fill="#b00000" stroke="#580000"/><polygon points="328.2,255.9 326.4,257.3 326.4,257.3 327.8,255.7" fill="#b00000" stroke="#580000"/><polygon points="318.5,250.0 318.5,251.0 318.5,252.2 317.8,250.8" fill="#a40000" stroke="#520000"/><polygon points="335.5,252.1 336.1,252.7 335.5,251.8 334.3,251.8" fill="#8f0000" stroke="#480000"/><polygon points="328.4,256.3 326.4,257.3 326.4,257.3 328.2,255.9" fill="#b00000" stroke="#580000"/><polygon points="326.6,255.9 326.4,257.3 326.4,257.3 326.2,256.3" fill="#b00000" stroke="#580000"/><polygon points="326.4,257.3 326.6,254.3 325.9,253.1 326.4,257.3" fill="#d90505" stroke="#6c0202"/><polygon points="326.3,257.1 323.5,252.4 321.6,251.1 324.5,254.5" fill="#b40000" stroke="#5a0000"/><polygon points="324.9,255.6 326.4,257.3 326.4,257.3 325.4,256.5" fill="#b60000" stroke="#5b0000"/><polygon points="324.5,254.5 321.6,251.1 319.8,250.4 322.5,252.6" fill="#aa0000" stroke="#550000"/><polygon points="322.1,254.7 324.9,256.5 326.4,257.3 323.3,255.8" fill="#a40000" stroke="#520000"/><polygon points="319.8,250.4 318.5,250.0 317.8,250.8 318.5,250.4" fill="#940000" stroke="#4a0000"/><polygon points="326.4,257.3 326.9,255.2 326.6,254.3 326.4,257.3" fill="#d80404" stroke="#6c0202"/><polygon points="326.4,257.3 325.1,254.3 323.5,252.4 326.3,257.1" fill="#ce0000" stroke="#670000"/><polygon points="328.1,256.7 326.4,257.3 326.4,257.3 328.4,256.3" fill="#b00000" stroke="#580000"/><polygon points="329.5,256.6 326.4,257.3 327.3,257.1 330.5,255.9" fill="#a70000" stroke="#540000"/><polygon points="326.2,256.3 326.4,257.3 326.4,257.3 326.1,256.8" fill="#b00000" stroke="#580000"/><polygon points="323.8,255.6 326.4,257.3 326.4,257.3 324.9,256.5" fill="#b70000" stroke="#5c0000"/><polygon points="334.4,255.0 331.6,256.2 332.7,255.4 335.1,253.9" fill="#a10000" stroke="#500000"/><polygon points="333.1,252.8 335.5,252.1 334.3,251.8 331.4,253.3" fill="#a30000" stroke="#520000"/><polygon points="326.4,257.3 327.1,255.5 326.9,255.2 326.4,257.3" fill="#d40202" stroke="#6a0101"/><polygon points="331.6,256.2 328.2,257.1 329.5,256.6 332.7,255.4" fill="#a10000" stroke="#500000"/><polygon points="326.4,257.3 329.8,254.0 328.4,254.7 326.4,257.3" fill="#c60000" stroke="#630000"/><polygon points="326.4,257.3 328.4,254.7 327.6,255.3 326.4,257.3" fill="#cb0000" stroke="#660000"/><polygon points="326.4,257.3 327.6,255.3 327.1,255.5 326.4,257.3" fill="#d00101" stroke="#680000"/><polygon points="320.5,254.0 323.3,255.8 324.8,256.7 321.7,255.2" fill="#a00000" stroke="#500000"/><polygon points="327.1,256.7 331.4,253.3 329.8,254.0 326.4,257.3" fill="#b80000" stroke="#5c0000"/><polygon points="326.4,257.3 326.2,256.5 325.1,254.3 326.4,257.3" fill="#da0505" stroke="#6d0202"/><polygon points="318.5,252.2 320.5,254.0 321.7,255.2 319.1,253.4" fill="#9f0000" stroke="#500000"/><polygon points="327.3,257.1 326.4,257.3 326.4,257.3 328.1,256.7" fill="#b00000" stroke="#580000"/><polygon points="336.1,253.7 334.4,255.0 335.1,253.9 336.1,252.7" fill="#9e0000" stroke="#4f0000"/><polygon points="328.2,257.1 326.4,257.3 326.4,257.3 329.5,256.6" fill="#b20000" stroke="#590000"/><polygon points="323.3,255.8 326.4,257.3 326.4,257.3 324.8,256.7" fill="#b40000" stroke="#5a0000"/><polygon points="326.4,257.3 324.5,254.5 322.5,252.6 326.1,256.8" fill="#be0000" stroke="#5f0000"/><polygon points="322.5,252.6 319.8,250.4 318.5,250.4 320.6,251.5" fill="#a10000" stroke="#500000"/><polygon points="326.4,257.3 326.3,257.1 324.5,254.5 326.4,257.3" fill="#cd0000" stroke="#660000"/><polygon points="329.2,255.2 333.1,252.8 331.4,253.3 327.1,256.7" fill="#a40000" stroke="#520000"/><polygon points="317.8,250.8 318.5,252.2 319.1,253.4 317.7,251.8" fill="#9b0000" stroke="#4e0000"/><polygon points="330.0,256.9 326.5,257.3 328.2,257.1 331.6,256.2" fill="#9b0000" stroke="#4e0000"/><polygon points="326.4,257.3 329.2,255.2 327.1,256.7 326.4,257.3" fill="#ba0000" stroke="#5d0000"/><polygon points="321.7,255.2 324.8,256.7 326.4,257.3 323.1,256.2" fill="#9b0000" stroke="#4e0000"/><polygon points="326.4,257.3 326.1,256.8 324.0,254.5 326.4,257.3" fill="#be0000" stroke="#5f0000"/><polygon points="336.2,252.8 336.1,253.7 336.1,252.7 335.5,252.1" fill="#830000" stroke="#420000"/><polygon points="326.1,256.8 322.5,252.6 320.6,251.5 324.0,254.5" fill="#a00000" stroke="#500000"/><polygon points="324.6,256.8 326.4,257.3 326.4,257.3 326.0,257.2" fill="#a70000" stroke="#540000"/><polygon points="328.2,257.2 326.4,257.3 326.5,257.3 330.0,256.9" fill="#ab0000" stroke="#560000"/><polygon points="323.1,256.2 326.4,257.3 326.4,257.3 324.6,256.8" fill="#ab0000" stroke="#560000"/><polygon points="326.4,257.3 329.1,255.5 326.6,257.1 326.4,257.3" fill="#a70000" stroke="#540000"/><polygon points="326.6,257.1 331.3,254.1 329.2,255.2 326.4,257.3" fill="#ae0000" stroke="#570000"/><polygon points="326.4,257.3 325.9,256.7 324.1,254.9 326.4,257.3" fill="#a80000" stroke="#540000"/><polygon points="333.1,255.9 330.0,256.9 331.6,256.2 334.4,255.0" fill="#990000" stroke="#4c0000"/><polygon points="319.1,253.4 321.7,255.2 323.1,256.2 320.2,254.6" fill="#980000" stroke="#4c0000"/><polygon points="326.4,257.3 324.0,254.5 322.1,253.0 325.9,256.7" fill="#a80000" stroke="#540000"/><polygon points="325.1,257.1 326.4,257.3 326.4,257.3 325.7,257.2" fill="#940000" stroke="#4a0000"/><polygon points="334.6,252.7 336.2,252.8 335.5,252.1 333.1,252.8" fill="#9c0000" stroke="#4e0000"/><polygon points="326.4,257.3 328.9,255.5 326.8,257.0 326.4,257.3" fill="#900000" stroke="#480000"/><polygon points="327.8,257.4 326.4,257.3 326.5,257.3 329.6,257.2" fill="#a40000" stroke="#520000"/><polygon points="324.1,256.8 326.4,257.3 326.4,257.3 325.1,257.1" fill="#990000" stroke="#4c0000"/><polygon points="331.3,254.1 334.6,252.7 333.1,252.8 329.2,255.2" fill="#9b0000" stroke="#4e0000"/><polygon points="322.9,256.3 326.0,257.2 326.4,257.3 324.1,256.8" fill="#960000" stroke="#4b0000"/><polygon points="331.4,256.7 328.2,257.2 330.0,256.9 333.1,255.9" fill="#940000" stroke="#4a0000"/><polygon points="320.6,251.5 318.5,250.4 317.7,250.9 319.2,251.1" fill="#9b0000" stroke="#4e0000"/><polygon points="329.6,257.2 326.5,257.3 328.2,257.2 331.4,256.7" fill="#920000" stroke="#490000"/><polygon points="326.4,257.3 324.1,254.9 322.8,253.7 326.4,257.3" fill="#9c0000" stroke="#4e0000"/><polygon points="320.2,254.6 323.1,256.2 324.6,256.8 321.5,255.6" fill="#940000" stroke="#4a0000"/><polygon points="335.4,254.8 333.1,255.9 334.4,255.0 336.1,253.7" fill="#940000" stroke="#4a0000"/><polygon points="324.0,254.5 320.6,251.5 319.2,251.1 322.1,253.0" fill="#980000" stroke="#4c0000"/><polygon points="327.5,257.4 326.4,257.3 326.4,257.3 328.9,257.4" fill="#980000" stroke="#4c0000"/><polygon points="321.5,255.6 324.6,256.8 326.0,257.2 322.9,256.3" fill="#910000" stroke="#480000"/><polygon points="326.8,257.0 331.0,254.4 329.1,255.5 326.4,257.3" fill="#950000" stroke="#4a0000"/><polygon points="317.7,251.8 319.1,253.4 320.2,254.6 318.2,253.0" fill="#930000" stroke="#4a0000"/><polygon points="326.7,257.4 326.4,257.3 326.4,257.3 327.2,257.5" fill="#890000" stroke="#440000"/><polygon points="329.1,255.5 333.0,253.5 331.3,254.1 326.6,257.1" fill="#8d0000" stroke="#460000"/><polygon points="326.4,257.3 327.1,255.6 327.0,256.3 326.4,257.3" fill="#a50000" stroke="#520000"/><polygon points="325.9,256.7 322.1,253.0 320.7,252.2 324.1,254.9" fill="#8c0000" stroke="#460000"/><polygon points="326.4,257.3 324.5,255.0 324.1,254.5 326.4,257.3" fill="#8a0000" stroke="#450000"/><polygon points="336.3,253.6 335.4,254.8 336.1,253.7 336.2,252.8" fill="#870000" stroke="#440000"/><polygon points="328.9,257.4 326.4,257.3 327.8,257.4 330.6,257.1" fill="#890000" stroke="#440000"/><polygon points="327.2,257.5 326.4,257.3 326.7,257.4 328.1,257.4" fill="#870000" stroke="#440000"/><polygon points="326.9,256.9 330.1,254.7 328.9,255.5 326.4,257.3" fill="#850000" stroke="#420000"/><polygon points="317.7,250.9 317.7,251.8 318.2,253.0 317.6,251.7" fill="#860000" stroke="#430000"/><polygon points="326.4,257.3 328.7,255.0 328.1,255.7 326.4,257.3" fill="#910000" stroke="#480000"/><polygon points="334.1,255.7 331.4,256.7 333.1,255.9 335.4,254.8" fill="#8e0000" stroke="#470000"/><polygon points="326.4,257.3 322.8,253.7 322.0,253.1 325.2,255.9" fill="#870000" stroke="#440000"/><polygon points="318.2,253.0 320.2,254.6 321.5,255.6 319.2,254.1" fill="#8d0000" stroke="#460000"/><polygon points="333.0,253.5 335.5,253.1 334.6,252.7 331.3,254.1" fill="#950000" stroke="#4a0000"/><polygon points="326.4,257.3 326.8,255.1 327.1,255.6 326.4,257.3" fill="#a80000" stroke="#540000"/><polygon points="335.5,253.1 336.3,253.6 336.2,252.8 334.6,252.7" fill="#9b0000" stroke="#4e0000"/><polygon points="326.4,257.3 324.1,254.5 324.1,254.3 326.4,257.3" fill="#940000" stroke="#4a0000"/><polygon points="322.1,253.0 319.2,251.1 318.4,251.2 320.7,252.2" fill="#940000" stroke="#4a0000"/><polygon points="319.2,251.1 317.7,250.9 317.6,251.7 318.4,251.2" fill="#9b0000" stroke="#4e0000"/><polygon points="330.6,257.1 327.8,257.4 329.6,257.2 332.4,256.5" fill="#880000" stroke="#440000"/><polygon points="324.4,257.0 326.1,257.3 326.2,257.3 325.0,257.1" fill="#820000" stroke="#410000"/><polygon points="323.6,256.7 325.7,257.2 326.1,257.3 324.4,257.0" fill="#830000" stroke="#420000"/><polygon points="332.4,256.5 329.6,257.2 331.4,256.7 334.1,255.7" fill="#8a0000" stroke="#450000"/><polygon points="319.2,254.1 321.5,255.6 322.9,256.3 320.3,255.0" fill="#890000" stroke="#440000"/><polygon points="322.7,256.3 325.1,257.1 325.7,257.2 323.6,256.7" fill="#840000" stroke="#420000"/><polygon points="326.4,257.3 326.3,254.8 326.8,255.1 326.4,257.3" fill="#aa0000" stroke="#550000"/><polygon points="328.9,255.5 332.2,254.0 331.0,254.4 326.8,257.0" fill="#880000" stroke="#440000"/><polygon points="326.4,257.3 324.1,254.3 324.5,254.3 326.3,257.0" fill="#a00000" stroke="#500000"/><polygon points="324.1,254.9 320.7,252.2 319.9,252.0 322.8,253.7" fill="#880000" stroke="#440000"/><polygon points="321.6,255.8 324.1,256.8 325.1,257.1 322.7,256.3" fill="#850000" stroke="#420000"/><polygon points="320.3,255.0 322.9,256.3 324.1,256.8 321.6,255.8" fill="#860000" stroke="#430000"/><polygon points="331.0,254.4 334.1,253.5 333.0,253.5 329.1,255.5" fill="#880000" stroke="#440000"/><polygon points="325.6,257.2 326.3,257.3 326.4,257.4 326.2,257.3" fill="#820000" stroke="#410000"/><polygon points="335.6,254.6 334.1,255.7 335.4,254.8 336.3,253.6" fill="#820000" stroke="#410000"/><polygon points="326.4,257.0 325.6,254.5 326.3,254.8 326.4,257.3" fill="#a80000" stroke="#540000"/><polygon points="317.6,251.7 318.2,253.0 319.2,254.1 317.9,252.6" fill="#820000" stroke="#410000"/><polygon points="326.3,257.0 324.5,254.3 325.0,254.4 326.3,256.9" fill="#a20000" stroke="#510000"/><polygon points="326.3,256.9 325.0,254.4 325.6,254.5 326.4,257.0" fill="#a50000" stroke="#520000"/><polygon points="327.0,256.3 328.6,254.5 328.7,255.0 326.4,257.3" fill="#a30000" stroke="#520000"/><polygon points="325.2,255.9 322.0,253.1 321.7,252.9 324.5,255.0" fill="#8b0000" stroke="#460000"/><polygon points="326.2,257.3 326.4,257.4 326.7,257.4 327.0,257.3" fill="#850000" stroke="#420000"/><polygon points="328.1,255.7 330.6,254.3 330.1,254.7 326.9,256.9" fill="#970000" stroke="#4c0000"/><polygon points="329.4,257.3 327.5,257.4 328.9,257.4 331.0,256.9" fill="#820000" stroke="#410000"/><polygon points="335.6,253.7 335.6,254.6 336.3,253.6 335.5,253.1" fill="#9f0000" stroke="#500000"/><polygon points="320.7,252.2 318.4,251.2 318.2,251.7 319.9,252.0" fill="#940000" stroke="#4a0000"/><polygon points="334.1,253.5 335.6,253.7 335.5,253.1 333.0,253.5" fill="#950000" stroke="#4a0000"/><polygon points="318.4,251.2 317.6,251.7 317.9,252.6 318.2,251.7" fill="#a00000" stroke="#500000"/><polygon points="334.4,255.5 332.4,256.5 334.1,255.7 335.6,254.6" fill="#820000" stroke="#410000"/><polygon points="317.9,252.6 319.2,254.1 320.3,255.0 318.7,253.5" fill="#830000" stroke="#420000"/><polygon points="322.8,253.7 319.9,252.0 319.6,252.1 322.0,253.1" fill="#860000" stroke="#430000"/><polygon points="331.0,256.9 328.9,257.4 330.6,257.1 332.7,256.3" fill="#840000" stroke="#420000"/><polygon points="327.0,257.3 326.7,257.4 327.2,257.5 328.1,257.1" fill="#880000" stroke="#440000"/><polygon points="332.7,256.3 330.6,257.1 332.4,256.5 334.4,255.5" fill="#840000" stroke="#420000"/><polygon points="332.2,254.0 334.4,253.8 334.1,253.5 331.0,254.4" fill="#870000" stroke="#440000"/><polygon points="330.1,254.7 332.6,254.0 332.2,254.0 328.9,255.5" fill="#880000" stroke="#440000"/><polygon points="318.7,253.5 320.3,255.0 321.6,255.8 319.8,254.4" fill="#870000" stroke="#440000"/><polygon points="324.5,255.0 321.7,252.9 321.8,253.0 324.1,254.5" fill="#8c0000" stroke="#460000"/><polygon points="318.2,251.7 317.9,252.6 318.7,253.5 318.4,252.4" fill="#9d0000" stroke="#4e0000"/><polygon points="335.1,254.5 334.4,255.5 335.6,254.6 335.6,253.7" fill="#990000" stroke="#4c0000"/><polygon points="327.1,255.6 328.0,254.3 328.6,254.5 327.0,256.3" fill="#a00000" stroke="#500000"/><polygon points="328.1,257.1 327.2,257.5 328.1,257.4 329.4,256.9" fill="#8c0000" stroke="#460000"/><polygon points="319.8,254.4 321.6,255.8 322.7,256.3 320.9,255.1" fill="#890000" stroke="#440000"/><polygon points="319.9,252.0 318.2,251.7 318.4,252.4 319.6,252.1" fill="#9d0000" stroke="#4e0000"/><polygon points="320.9,255.1 322.7,256.3 323.6,256.7 322.0,255.7" fill="#8b0000" stroke="#460000"/><polygon points="334.4,253.8 335.1,254.5 335.6,253.7 334.1,253.5" fill="#a20000" stroke="#510000"/><polygon points="322.0,255.7 323.6,256.7 324.4,257.0 323.0,256.1" fill="#8d0000" stroke="#460000"/><polygon points="328.7,255.0 330.5,254.2 330.6,254.3 328.1,255.7" fill="#940000" stroke="#4a0000"/><polygon points="322.0,253.1 319.6,252.1 319.8,252.5 321.7,252.9" fill="#880000" stroke="#440000"/><polygon points="323.0,256.1 324.4,257.0 325.0,257.1 324.1,256.3" fill="#8f0000" stroke="#480000"/><polygon points="329.4,256.9 328.1,257.4 329.4,257.3 330.9,256.5" fill="#8f0000" stroke="#480000"/><polygon points="324.1,254.5 321.8,253.0 322.3,253.2 324.1,254.3" fill="#8d0000" stroke="#460000"/><polygon points="334.0,255.3 332.7,256.3 334.4,255.5 335.1,254.5" fill="#960000" stroke="#4b0000"/><polygon points="318.4,252.4 318.7,253.5 319.8,254.4 319.1,253.1" fill="#9c0000" stroke="#4e0000"/><polygon points="324.1,256.3 325.0,257.1 325.6,257.2 325.1,256.5" fill="#910000" stroke="#480000"/><polygon points="330.9,256.5 329.4,257.3 331.0,256.9 332.5,256.0" fill="#920000" stroke="#490000"/><polygon points="326.8,255.1 327.2,254.1 328.0,254.3 327.1,255.6" fill="#9b0000" stroke="#4e0000"/><polygon points="332.5,256.0 331.0,256.9 332.7,256.3 334.0,255.3" fill="#940000" stroke="#4a0000"/><polygon points="332.6,254.0 334.0,254.3 334.4,253.8 332.2,254.0" fill="#900000" stroke="#480000"/><polygon points="319.6,252.1 318.4,252.4 319.1,253.1 319.8,252.5" fill="#b10000" stroke="#580000"/><polygon points="325.1,256.5 325.6,257.2 326.2,257.3 326.1,256.6" fill="#940000" stroke="#4a0000"/><polygon points="330.6,254.3 332.3,254.2 332.6,254.0 330.1,254.7" fill="#840000" stroke="#420000"/><polygon points="334.0,254.3 334.0,255.3 335.1,254.5 334.4,253.8" fill="#ba0000" stroke="#5d0000"/><polygon points="324.1,254.3 322.3,253.2 323.0,253.4 324.5,254.3" fill="#8d0000" stroke="#460000"/><polygon points="319.1,253.1 319.8,254.4 320.9,255.1 320.0,253.8" fill="#9d0000" stroke="#4e0000"/><polygon points="321.7,252.9 319.8,252.5 320.3,252.9 321.8,253.0" fill="#8d0000" stroke="#460000"/><polygon points="326.1,256.6 326.2,257.3 327.0,257.3 327.3,256.5" fill="#970000" stroke="#4c0000"/><polygon points="326.3,254.8 326.2,254.0 327.2,254.1 326.8,255.1" fill="#970000" stroke="#4c0000"/><polygon points="328.6,254.5 329.7,254.3 330.5,254.2 328.7,255.0" fill="#8f0000" stroke="#480000"/><polygon points="324.5,254.3 323.0,253.4 324.0,253.6 325.0,254.4" fill="#8e0000" stroke="#470000"/><polygon points="320.0,253.8 320.9,255.1 322.0,255.7 321.1,254.4" fill="#9f0000" stroke="#500000"/><polygon points="327.3,256.5 327.0,257.3 328.1,257.1 328.7,256.3" fill="#9b0000" stroke="#4e0000"/><polygon points="319.8,252.5 319.1,253.1 320.0,253.8 320.3,252.9" fill="#c20000" stroke="#610000"/><polygon points="325.6,254.5 325.1,253.8 326.2,254.0 326.3,254.8" fill="#930000" stroke="#4a0000"/><polygon points="325.0,254.4 324.0,253.6 325.1,253.8 325.6,254.5" fill="#900000" stroke="#480000"/><polygon points="333.0,254.9 332.5,256.0 334.0,255.3 334.0,254.3" fill="#b30000" stroke="#5a0000"/><polygon points="332.3,254.2 333.0,254.9 334.0,254.3 332.6,254.0" fill="#a90000" stroke="#540000"/><polygon points="321.1,254.4 322.0,255.7 323.0,256.1 322.3,254.9" fill="#a10000" stroke="#500000"/><polygon points="328.7,256.3 328.1,257.1 329.4,256.9 330.1,256.0" fill="#9f0000" stroke="#500000"/><polygon points="321.8,253.0 320.3,252.9 321.2,253.4 322.3,253.2" fill="#950000" stroke="#4a0000"/><polygon points="330.5,254.2 331.5,254.6 332.3,254.2 330.6,254.3" fill="#890000" stroke="#440000"/><polygon points="331.6,255.5 330.9,256.5 332.5,256.0 333.0,254.9" fill="#aa0000" stroke="#550000"/><polygon points="330.1,256.0 329.4,256.9 330.9,256.5 331.6,255.5" fill="#a40000" stroke="#520000"/><polygon points="322.3,254.9 323.0,256.1 324.1,256.3 323.5,255.2" fill="#a30000" stroke="#520000"/><polygon points="320.3,252.9 320.0,253.8 321.1,254.4 321.2,253.4" fill="#c60000" stroke="#630000"/><polygon points="328.0,254.3 328.7,254.4 329.7,254.3 328.6,254.5" fill="#860000" stroke="#430000"/><polygon points="323.5,255.2 324.1,256.3 325.1,256.5 324.8,255.4" fill="#a70000" stroke="#540000"/><polygon points="322.3,253.2 321.2,253.4 322.3,253.8 323.0,253.4" fill="#9e0000" stroke="#4f0000"/><polygon points="331.5,254.6 331.6,255.5 333.0,254.9 332.3,254.2" fill="#cf0101" stroke="#680000"/><polygon points="324.8,255.4 325.1,256.5 326.1,256.6 326.1,255.5" fill="#aa0000" stroke="#550000"/><polygon points="321.2,253.4 321.1,254.4 322.3,254.9 322.3,253.8" fill="#c80000" stroke="#640000"/><polygon points="329.7,254.3 330.3,254.9 331.5,254.6 330.5,254.2" fill="#a10000" stroke="#500000"/><polygon points="327.2,254.1 327.4,254.4 328.7,254.4 328.0,254.3" fill="#870000" stroke="#440000"/><polygon points="323.0,253.4 322.3,253.8 323.5,254.1 324.0,253.6" fill="#a50000" stroke="#520000"/><polygon points="326.1,255.5 326.1,256.6 327.3,256.5 327.5,255.4" fill="#af0000" stroke="#580000"/><polygon points="330.3,254.9 330.1,256.0 331.6,255.5 331.5,254.6" fill="#cc0000" stroke="#660000"/><polygon points="322.3,253.8 322.3,254.9 323.5,255.2 323.5,254.1" fill="#ca0000" stroke="#650000"/><polygon points="327.5,255.4 327.3,256.5 328.7,256.3 328.9,255.2" fill="#b60000" stroke="#5b0000"/><polygon points="328.9,255.2 328.7,256.3 330.1,256.0 330.3,254.9" fill="#bf0000" stroke="#600000"/><polygon points="324.0,253.6 323.5,254.1 324.8,254.3 325.1,253.8" fill="#a60000" stroke="#530000"/><polygon points="326.2,254.0 326.1,254.4 327.4,254.4 327.2,254.1" fill="#940000" stroke="#4a0000"/><polygon points="325.1,253.8 324.8,254.3 326.1,254.4 326.2,254.0" fill="#9f0000" stroke="#500000"/><polygon points="328.7,254.4 328.9,255.2 330.3,254.9 329.7,254.3" fill="#c60000" stroke="#630000"/><polygon points="323.5,254.1 323.5,255.2 324.8,255.4 324.8,254.3" fill="#cf0000" stroke="#680000"/><polygon points="324.8,254.3 324.8,255.4 326.1,255.5 326.1,254.4" fill="#dd0808" stroke="#6e0404"/><polygon points="327.4,254.4 327.5,255.4 328.9,255.2 328.7,254.4" fill="#ff6e6e" stroke="#803737"/><polygon points="326.1,254.4 326.1,255.5 327.5,255.4 327.4,254.4" fill="#ff4f4f" stroke="#802828"/></g><path d="M329.0 196 Q329.5 193.5 331.5 192.8 L333.5 193.2 Q335.0 195 335.0 198 L333.3 209.5 L327.8 209.5Z" fill="#9696ff" opacity="0.3"/><path d="M331.0 194 L333.8 193.8 L332.3 209.5 L329.8 209.5Z" fill="#9696ff" opacity="0.5"/>
<line x1="326.5" y1="250" x2="326.5" y2="189.38" stroke="#0000ff" stroke-width="1" shape-rendering="crispEdges"/>
<line x1="785.03" y1="257.3" x2="847.45" y2="234.29" stroke="#ff0000" stroke-width="1" shape-rendering="crispEdges"/><line x1="785.03" y1="257.3" x2="737.14" y2="226.18" stroke="#00ff00" stroke-width="1" shape-rendering="crispEdges"/>
<g stroke-width="0.6" stroke-linejoin="round"><polygon points="786.4,256.3 786.3,256.8 785.3,256.8 785.3,256.2" fill="#34ac93" stroke="#1a564a"/><polygon points="785.3,256.2 785.3,256.8 784.3,256.8 784.2,256.2" fill="#32a68d" stroke="#195346"/><polygon points="787.5,256.4 787.3,257.0 786.3,256.8 786.4,256.3" fill="#34ac93" stroke="#1a564a"/><polygon points="784.2,256.2 784.3,256.8 783.4,256.9 783.1,256.3" fill="#2e9882" stroke="#174c41"/><polygon points="784.3,255.8 784.2,256.2 783.1,256.3 783.1,255.8" fill="#2b8f7a" stroke="#16483d"/><polygon points="785.3,255.8 785.3,256.2 784.2,256.2 784.3,255.8" fill="#27806e" stroke="#144037"/><polygon points="783.1,255.8 783.1,256.3 782.1,256.5 782.0,255.9" fill="#31a48c" stroke="#185246"/><polygon points="786.2,255.9 786.4,256.3 785.3,256.2 785.3,255.8" fill="#247866" stroke="#123c33"/><polygon points="788.4,256.7 788.3,257.3 787.3,257.0 787.5,256.4" fill="#33a890" stroke="#1a5448"/><polygon points="786.3,256.8 786.0,257.4 785.2,257.3 785.3,256.8" fill="#27826f" stroke="#144138"/><polygon points="787.1,256.1 787.5,256.4 786.4,256.3 786.2,255.9" fill="#227362" stroke="#113a31"/><polygon points="783.1,256.3 783.4,256.9 782.7,257.1 782.1,256.5" fill="#298a76" stroke="#14453b"/><polygon points="787.3,257.0 786.8,257.5 786.0,257.4 786.3,256.8" fill="#288370" stroke="#144238"/><polygon points="785.2,259.9 785.2,260.6 784.6,260.6 784.6,260.0" fill="#aba3e5" stroke="#565272"/><polygon points="785.3,256.8 785.2,257.3 784.5,257.3 784.3,256.8" fill="#267d6b" stroke="#133e36"/><polygon points="784.6,260.0 784.6,260.6 784.1,260.6 783.9,260.1" fill="#b8b918" stroke="#5c5c0c"/><polygon points="782.0,255.9 782.1,256.5 781.4,256.8 781.0,256.2" fill="#30a18a" stroke="#185045"/><polygon points="785.8,260.0 785.7,260.7 785.2,260.6 785.2,259.9" fill="#766eaf" stroke="#3b3758"/><polygon points="789.4,257.0 789.0,257.6 788.3,257.3 788.4,256.7" fill="#31a28a" stroke="#185145"/><polygon points="786.4,260.0 786.3,260.7 785.7,260.7 785.8,260.0" fill="#403978" stroke="#201c3c"/><polygon points="788.0,256.3 788.4,256.7 787.5,256.4 787.1,256.1" fill="#227160" stroke="#113830"/><polygon points="788.3,257.3 787.5,257.7 786.8,257.5 787.3,257.0" fill="#278370" stroke="#144238"/><polygon points="783.9,260.1 784.1,260.6 783.6,260.6 783.3,260.3" fill="#909108" stroke="#484804"/><polygon points="784.0,259.3 783.9,260.1 783.3,260.3 783.3,259.5" fill="#231c58" stroke="#120e2c"/><polygon points="784.6,259.1 784.6,260.0 783.9,260.1 784.0,259.3" fill="#211b55" stroke="#100e2a"/><polygon points="783.3,259.5 783.3,260.3 782.7,260.5 782.6,259.8" fill="#b0b111" stroke="#585808"/><polygon points="783.6,255.7 783.1,255.8 782.0,255.9 782.5,255.7" fill="#206a5b" stroke="#10352e"/><polygon points="786.9,260.2 786.8,260.9 786.3,260.7 786.4,260.0" fill="#2c2564" stroke="#161232"/><polygon points="782.5,255.7 782.0,255.9 781.0,256.2 781.3,255.8" fill="#237665" stroke="#123b32"/><polygon points="784.3,256.8 784.5,257.3 783.9,257.4 783.4,256.9" fill="#247867" stroke="#123c34"/><polygon points="785.7,260.7 785.6,260.7 785.1,260.6 785.2,260.6" fill="#686906" stroke="#343403"/><polygon points="785.2,259.0 785.2,259.9 784.6,260.0 784.6,259.1" fill="#989908" stroke="#4c4c04"/><polygon points="783.1,268.1 784.2,267.2 784.2,267.6 783.2,268.9" fill="#34ae95" stroke="#1a574a"/><polygon points="783.2,268.9 784.2,267.6 784.3,267.9 783.5,269.6" fill="#34af95" stroke="#1a584a"/><polygon points="786.3,260.7 786.0,260.8 785.6,260.7 785.7,260.7" fill="#6d6d06" stroke="#363603"/><polygon points="785.2,260.6 785.1,260.6 784.7,260.5 784.6,260.6" fill="#161239" stroke="#0b091c"/><polygon points="783.1,267.2 784.1,266.8 784.2,267.2 783.1,268.1" fill="#34ad94" stroke="#1a564a"/><polygon points="783.5,269.6 784.3,267.9 784.5,268.1 783.7,270.0" fill="#34ae94" stroke="#1a574a"/><polygon points="783.3,260.3 783.6,260.6 783.3,260.5 782.7,260.5" fill="#727306" stroke="#393a03"/><polygon points="788.9,256.6 789.4,257.0 788.4,256.7 788.0,256.3" fill="#227161" stroke="#113830"/><polygon points="783.7,270.0 784.5,268.1 784.6,268.2 784.1,270.2" fill="#33ab92" stroke="#1a5649"/><polygon points="782.6,259.8 782.7,260.5 782.3,260.6 781.9,260.2" fill="#a6a70a" stroke="#535405"/><polygon points="782.1,256.5 782.7,257.1 782.4,257.3 781.4,256.8" fill="#267f6c" stroke="#134036"/><polygon points="787.4,260.4 787.3,261.0 786.8,260.9 786.9,260.2" fill="#a8a90b" stroke="#545406"/><polygon points="783.2,266.2 784.1,266.3 784.1,266.8 783.1,267.2" fill="#34ac93" stroke="#1a564a"/><polygon points="785.7,258.9 785.8,260.0 785.2,259.9 785.2,259.0" fill="#201951" stroke="#100c28"/><polygon points="786.8,260.9 786.4,260.9 786.0,260.8 786.3,260.7" fill="#17133b" stroke="#0c0a1e"/><polygon points="789.0,257.6 788.0,257.9 787.5,257.7 788.3,257.3" fill="#26806d" stroke="#134036"/><polygon points="784.1,270.2 784.6,268.2 784.8,268.2 784.5,270.2" fill="#32a78f" stroke="#195448"/><polygon points="784.2,267.6 785.0,265.4 785.0,265.4 784.3,267.9" fill="#33aa91" stroke="#1a5548"/><polygon points="784.6,260.6 784.7,260.5 784.4,260.3 784.1,260.6" fill="#18133d" stroke="#0c0a1e"/><polygon points="784.2,267.2 785.0,265.4 785.0,265.4 784.2,267.6" fill="#33aa91" stroke="#1a5548"/><polygon points="784.3,267.9 785.0,265.4 785.0,265.4 784.5,268.1" fill="#33a991" stroke="#1a5448"/><polygon points="784.5,268.1 785.0,265.4 785.0,265.4 784.6,268.2" fill="#33a991" stroke="#1a5448"/><polygon points="784.1,266.8 785.0,265.4 785.0,265.4 784.2,267.2" fill="#33ab92" stroke="#1a5649"/><polygon points="784.6,268.2 785.0,265.4 785.0,265.4 784.8,268.2" fill="#33a991" stroke="#1a5448"/><polygon points="783.4,265.2 784.2,265.8 784.1,266.3 783.2,266.2" fill="#33ab92" stroke="#1a5649"/><polygon points="781.0,256.2 781.4,256.8 781.1,257.2 780.2,256.6" fill="#2a8c78" stroke="#15463c"/><polygon points="784.1,266.3 785.0,265.4 785.0,265.4 784.1,266.8" fill="#33ab92" stroke="#1a5649"/><polygon points="790.1,257.4 789.6,257.9 789.0,257.6 789.4,257.0" fill="#2e9881" stroke="#174c40"/><polygon points="781.3,255.8 781.0,256.2 780.2,256.6 780.2,256.1" fill="#298a76" stroke="#14453b"/><polygon points="784.8,268.2 785.0,265.4 785.0,265.4 785.0,268.1" fill="#33a991" stroke="#1a5448"/><polygon points="784.5,270.2 784.8,268.2 785.0,268.1 784.9,269.9" fill="#31a28b" stroke="#185146"/><polygon points="784.2,265.8 785.0,265.4 785.0,265.4 784.1,266.3" fill="#33ab92" stroke="#1a5649"/><polygon points="785.0,268.1 785.0,265.4 785.0,265.4 785.2,267.8" fill="#33a990" stroke="#1a5448"/><polygon points="785.2,256.0 785.3,255.8 784.3,255.8 784.5,255.9" fill="#206a5a" stroke="#10352d"/><polygon points="782.3,267.9 783.1,268.1 783.2,268.9 782.4,269.1" fill="#309f88" stroke="#185044"/><polygon points="786.1,259.0 786.4,260.0 785.8,260.0 785.7,258.9" fill="#929308" stroke="#494a04"/><polygon points="784.2,265.3 785.0,265.4 785.0,265.4 784.2,265.8" fill="#33ab92" stroke="#1a5649"/><polygon points="782.4,266.6 783.1,267.2 783.1,268.1 782.3,267.9" fill="#309f88" stroke="#185044"/><polygon points="785.2,267.8 785.0,265.4 785.0,265.4 785.3,267.5" fill="#33a890" stroke="#1a5448"/><polygon points="782.4,269.1 783.2,268.9 783.5,269.6 782.6,270.0" fill="#309e87" stroke="#184f44"/><polygon points="787.9,260.7 787.6,261.2 787.3,261.0 787.4,260.4" fill="#231c58" stroke="#120e2c"/><polygon points="787.3,261.0 786.7,260.9 786.4,260.9 786.8,260.9" fill="#6a6b06" stroke="#353603"/><polygon points="784.9,269.9 785.0,268.1 785.2,267.8 785.3,269.4" fill="#2f9d86" stroke="#184e43"/><polygon points="785.3,267.5 785.0,265.4 785.0,265.4 785.5,267.1" fill="#32a78f" stroke="#195448"/><polygon points="783.6,264.2 784.2,265.3 784.2,265.8 783.4,265.2" fill="#33aa92" stroke="#1a5549"/><polygon points="784.3,264.7 785.0,265.4 785.0,265.4 784.2,265.3" fill="#33aa92" stroke="#1a5549"/><polygon points="782.9,258.9 782.6,259.8 781.9,260.2 782.1,259.4" fill="#929308" stroke="#494a04"/><polygon points="782.6,270.0 783.5,269.6 783.7,270.0 783.0,270.7" fill="#2f9d86" stroke="#184e43"/><polygon points="785.5,267.1 785.0,265.4 785.0,265.4 785.6,266.6" fill="#32a58d" stroke="#195246"/><polygon points="782.6,265.2 783.2,266.2 783.1,267.2 782.4,266.6" fill="#30a089" stroke="#185044"/><polygon points="786.6,259.1 786.9,260.2 786.4,260.0 786.1,259.0" fill="#1e184d" stroke="#0f0c26"/><polygon points="784.4,264.2 785.0,265.4 785.0,265.4 784.3,264.7" fill="#33aa91" stroke="#1a5548"/><polygon points="782.7,260.5 783.3,260.5 783.1,260.3 782.3,260.6" fill="#17123a" stroke="#0c091d"/><polygon points="783.6,258.6 783.3,259.5 782.6,259.8 782.9,258.9" fill="#8f9008" stroke="#484804"/><polygon points="784.1,260.6 784.4,260.3 784.1,260.1 783.6,260.6" fill="#797a07" stroke="#3c3d04"/><polygon points="781.9,260.2 782.3,260.6 782.1,260.6 781.5,260.5" fill="#818207" stroke="#404104"/><polygon points="785.3,269.4 785.2,267.8 785.3,267.5 785.7,268.7" fill="#2e9882" stroke="#174c41"/><polygon points="785.6,266.6 785.0,265.4 785.0,265.4 785.7,266.1" fill="#31a48c" stroke="#185246"/><polygon points="789.8,256.9 790.1,257.4 789.4,257.0 788.9,256.6" fill="#237463" stroke="#123a32"/><polygon points="784.5,263.8 785.0,265.4 785.0,265.4 784.4,264.2" fill="#33a890" stroke="#1a5448"/><polygon points="782.1,259.4 781.9,260.2 781.5,260.5 781.4,259.9" fill="#201a52" stroke="#100d29"/><polygon points="785.7,266.1 785.0,265.4 785.0,265.4 785.7,265.6" fill="#31a28b" stroke="#185146"/><polygon points="783.4,256.9 783.9,257.4 783.7,257.5 782.7,257.1" fill="#227262" stroke="#113931"/><polygon points="783.0,270.7 783.7,270.0 784.1,270.2 783.6,271.0" fill="#2e9882" stroke="#174c41"/><polygon points="783.9,263.3 784.3,264.7 784.2,265.3 783.6,264.2" fill="#33aa91" stroke="#1a5548"/><polygon points="785.8,256.2 786.2,255.9 785.3,255.8 785.2,256.0" fill="#216d5d" stroke="#10362e"/><polygon points="785.7,268.7 785.3,267.5 785.5,267.1 785.9,267.8" fill="#2d957f" stroke="#164a40"/><polygon points="785.7,265.6 785.0,265.4 785.0,265.4 785.7,265.0" fill="#31a28a" stroke="#185145"/><polygon points="787.1,259.4 787.4,260.4 786.9,260.2 786.6,259.1" fill="#1e184c" stroke="#0f0c26"/><polygon points="784.6,263.3 785.0,265.4 785.0,265.4 784.5,263.8" fill="#32a78f" stroke="#195448"/><polygon points="783.0,263.8 783.4,265.2 783.2,266.2 782.6,265.2" fill="#30a18a" stroke="#185045"/><polygon points="785.7,265.0 785.0,265.4 785.0,265.4 785.7,264.5" fill="#31a28a" stroke="#185145"/><polygon points="784.3,258.3 784.0,259.3 783.3,259.5 783.6,258.6" fill="#8c8d08" stroke="#464604"/><polygon points="788.3,261.1 787.9,261.4 787.6,261.2 787.9,260.7" fill="#211a53" stroke="#100d2a"/><polygon points="784.7,263.0 785.0,265.4 785.0,265.4 784.6,263.3" fill="#32a68d" stroke="#195346"/><polygon points="783.6,271.0 784.1,270.2 784.5,270.2 784.2,270.9" fill="#2a8d78" stroke="#15463c"/><polygon points="785.7,264.5 785.0,265.4 785.0,265.4 785.7,264.0" fill="#31a28b" stroke="#185146"/><polygon points="785.9,267.8 785.5,267.1 785.6,266.6 786.1,266.8" fill="#2c927d" stroke="#16493e"/><polygon points="789.6,257.9 788.3,258.1 788.0,257.9 789.0,257.6" fill="#257c6a" stroke="#123e35"/><polygon points="784.9,262.7 785.0,265.4 785.0,265.4 784.7,263.0" fill="#31a48c" stroke="#185246"/><polygon points="787.6,259.7 787.9,260.7 787.4,260.4 787.1,259.4" fill="#1d184b" stroke="#0e0c26"/><polygon points="785.7,264.0 785.0,265.4 785.0,265.4 785.7,263.6" fill="#31a38c" stroke="#185246"/><polygon points="784.1,262.4 784.4,264.2 784.3,264.7 783.9,263.3" fill="#33a990" stroke="#1a5448"/><polygon points="780.2,256.1 780.2,256.6 779.8,257.0 779.3,256.5" fill="#2d957f" stroke="#164a40"/><polygon points="785.0,262.4 785.0,265.4 785.0,265.4 784.9,262.7" fill="#31a38b" stroke="#185246"/><polygon points="785.7,263.6 785.0,265.4 785.0,265.4 785.6,263.2" fill="#31a48d" stroke="#185246"/><polygon points="786.8,257.5 786.0,257.7 785.6,257.6 786.0,257.4" fill="#216e5e" stroke="#10372f"/><polygon points="786.3,256.3 787.1,256.1 786.2,255.9 785.8,256.2" fill="#216f5f" stroke="#103830"/><polygon points="784.2,270.9 784.5,270.2 784.9,269.9 784.9,270.5" fill="#27816e" stroke="#144037"/><polygon points="786.1,266.8 785.6,266.6 785.7,266.1 786.2,265.8" fill="#2c917c" stroke="#16483e"/><polygon points="781.4,259.9 781.5,260.5 781.2,260.7 780.8,260.4" fill="#201a52" stroke="#100d29"/><polygon points="785.6,263.2 785.0,265.4 785.0,265.4 785.5,262.8" fill="#32a58d" stroke="#195246"/><polygon points="785.1,262.3 785.0,265.4 785.0,265.4 785.0,262.4" fill="#31a38b" stroke="#185246"/><polygon points="786.0,257.4 785.6,257.6 785.1,257.6 785.2,257.3" fill="#216d5d" stroke="#10362e"/><polygon points="783.4,262.4 783.6,264.2 783.4,265.2 783.0,263.8" fill="#31a28a" stroke="#185145"/><polygon points="783.6,260.6 784.1,260.1 784.0,259.8 783.3,260.5" fill="#1b1645" stroke="#0e0b22"/><polygon points="785.5,262.8 785.0,265.4 785.0,265.4 785.5,262.5" fill="#32a68e" stroke="#195347"/><polygon points="785.1,262.2 785.0,265.4 785.0,265.4 785.1,262.3" fill="#31a38b" stroke="#185246"/><polygon points="790.7,257.9 789.8,258.3 789.6,257.9 790.1,257.4" fill="#2a8b77" stroke="#15463c"/><polygon points="781.4,256.8 782.4,257.3 782.5,257.5 781.1,257.2" fill="#247765" stroke="#123c32"/><polygon points="785.5,262.5 785.0,265.4 785.0,265.4 785.4,262.3" fill="#32a68e" stroke="#195347"/><polygon points="784.8,258.1 784.6,259.1 784.0,259.3 784.3,258.3" fill="#1d174b" stroke="#0e0c26"/><polygon points="785.2,262.1 785.0,265.4 785.0,265.4 785.1,262.2" fill="#31a48c" stroke="#185246"/><polygon points="785.4,262.3 785.0,265.4 785.0,265.4 785.3,262.2" fill="#32a68e" stroke="#195347"/><polygon points="785.3,262.2 785.0,265.4 785.0,265.4 785.2,262.1" fill="#32a58d" stroke="#195246"/><polygon points="788.2,260.2 788.3,261.1 787.9,260.7 787.6,259.7" fill="#888908" stroke="#444404"/><polygon points="782.4,255.9 781.3,255.8 780.2,256.1 781.1,255.9" fill="#1f6758" stroke="#10342c"/><polygon points="784.9,270.5 784.9,269.9 785.3,269.4 785.5,269.7" fill="#247967" stroke="#123c34"/><polygon points="781.9,266.5 782.3,267.9 782.4,269.1 781.8,268.0" fill="#27816e" stroke="#144037"/><polygon points="786.2,265.8 785.7,266.1 785.7,265.6 786.2,264.8" fill="#2c917c" stroke="#16483e"/><polygon points="787.5,257.7 786.4,257.8 786.0,257.7 786.8,257.5" fill="#216f5f" stroke="#103830"/><polygon points="790.6,257.4 790.7,257.9 790.1,257.4 789.8,256.9" fill="#257a68" stroke="#123d34"/><polygon points="782.1,264.9 782.4,266.6 782.3,267.9 781.9,266.5" fill="#298874" stroke="#14443a"/><polygon points="787.9,261.4 787.0,260.9 786.9,260.9 787.6,261.2" fill="#161239" stroke="#0b091c"/><polygon points="780.2,256.6 781.1,257.2 781.2,257.5 779.8,257.0" fill="#267f6c" stroke="#134036"/><polygon points="781.5,260.5 782.1,260.6 782.2,260.5 781.2,260.7" fill="#686806" stroke="#343403"/><polygon points="782.3,260.6 783.1,260.3 783.2,260.0 782.1,260.6" fill="#19143f" stroke="#0c0a20"/><polygon points="784.3,261.6 784.5,263.8 784.4,264.2 784.1,262.4" fill="#32a88f" stroke="#195448"/><polygon points="783.5,256.1 782.5,255.7 781.3,255.8 782.4,255.9" fill="#216d5d" stroke="#10362e"/><polygon points="786.0,260.8 785.6,260.0 785.3,259.9 785.6,260.7" fill="#818207" stroke="#404104"/><polygon points="786.8,256.4 788.0,256.3 787.1,256.1 786.3,256.3" fill="#22705f" stroke="#113830"/><polygon points="785.6,260.7 785.3,259.9 785.1,259.7 785.1,260.6" fill="#848507" stroke="#424204"/><polygon points="788.6,261.4 788.0,261.5 787.9,261.4 788.3,261.1" fill="#878807" stroke="#444404"/><polygon points="781.8,268.0 782.4,269.1 782.6,270.0 782.1,269.2" fill="#237665" stroke="#123b32"/><polygon points="785.5,269.7 785.3,269.4 785.7,268.7 786.0,268.7" fill="#237665" stroke="#123b32"/><polygon points="785.2,257.3 785.1,257.6 784.8,257.5 784.5,257.3" fill="#206a5b" stroke="#10352e"/><polygon points="786.4,260.9 785.8,260.0 785.6,260.0 786.0,260.8" fill="#1b1645" stroke="#0e0b22"/><polygon points="782.6,263.3 782.6,265.2 782.4,266.6 782.1,264.9" fill="#2b8e79" stroke="#16473c"/><polygon points="786.2,264.8 785.7,265.6 785.7,265.0 786.2,263.8" fill="#2c927d" stroke="#16493e"/><polygon points="785.1,260.6 785.1,259.7 784.9,259.5 784.7,260.5" fill="#878807" stroke="#444404"/><polygon points="781.1,255.9 780.2,256.1 779.3,256.5 779.8,256.1" fill="#20695a" stroke="#10342d"/><polygon points="782.9,258.4 782.1,259.4 781.4,259.9 782.0,258.9" fill="#1c1646" stroke="#0e0b23"/><polygon points="785.1,258.0 785.2,259.0 784.6,259.1 784.8,258.1" fill="#1d1749" stroke="#0e0c24"/><polygon points="787.5,256.5 788.9,256.6 788.0,256.3 786.8,256.4" fill="#216f5f" stroke="#103830"/><polygon points="788.6,260.7 788.6,261.4 788.3,261.1 788.2,260.2" fill="#1d1749" stroke="#0e0c24"/><polygon points="783.8,261.2 783.9,263.3 783.6,264.2 783.4,262.4" fill="#31a28a" stroke="#185145"/><polygon points="782.0,258.9 781.4,259.9 780.8,260.4 781.1,259.6" fill="#828307" stroke="#414204"/><polygon points="782.1,269.2 782.6,270.0 783.0,270.7 782.6,270.1" fill="#1f6858" stroke="#10342c"/><polygon points="783.2,238.4 784.0,248.1 783.5,251.2 781.6,242.2" fill="#32a78f" stroke="#195448"/><polygon points="786.0,268.7 785.7,268.7 785.9,267.8 786.3,267.4" fill="#237665" stroke="#123b32"/><polygon points="784.5,260.9 784.6,263.3 784.5,263.8 784.3,261.6" fill="#32a78e" stroke="#195447"/><polygon points="782.7,257.1 783.7,257.5 783.7,257.5 782.4,257.3" fill="#216e5e" stroke="#10372f"/><polygon points="786.2,263.8 785.7,265.0 785.7,264.5 786.1,262.8" fill="#2c937e" stroke="#164a3f"/><polygon points="786.7,260.9 785.9,259.9 785.8,260.0 786.4,260.9" fill="#1b1644" stroke="#0e0b22"/><polygon points="784.3,256.4 783.6,255.7 782.5,255.7 783.5,256.1" fill="#227262" stroke="#113931"/><polygon points="788.0,257.9 786.6,257.9 786.4,257.8 787.5,257.7" fill="#216f5e" stroke="#10382f"/><polygon points="780.8,260.4 781.2,260.7 781.3,260.8 780.5,260.8" fill="#7e7f07" stroke="#3f4004"/><polygon points="783.7,258.0 782.9,258.9 782.1,259.4 782.9,258.4" fill="#1c1646" stroke="#0e0b23"/><polygon points="783.2,261.7 783.0,263.8 782.6,265.2 782.6,263.3" fill="#2c937d" stroke="#164a3e"/><polygon points="789.8,258.3 788.2,258.3 788.3,258.1 789.6,257.9" fill="#247867" stroke="#123c34"/><polygon points="788.4,256.7 789.8,256.9 788.9,256.6 787.5,256.5" fill="#216e5e" stroke="#10372f"/><polygon points="786.3,267.4 785.9,267.8 786.1,266.8 786.5,266.0" fill="#247766" stroke="#123c33"/><polygon points="784.7,260.5 784.9,259.5 784.7,259.2 784.4,260.3" fill="#1d174b" stroke="#0e0c26"/><polygon points="782.6,270.1 783.0,270.7 783.6,271.0 783.2,270.5" fill="#227262" stroke="#113931"/><polygon points="783.3,260.5 784.0,259.8 784.0,259.3 783.1,260.3" fill="#1c1647" stroke="#0e0b24"/><polygon points="785.4,257.9 785.7,258.9 785.2,259.0 785.1,258.0" fill="#848507" stroke="#424204"/><polygon points="788.0,261.5 786.9,260.7 787.0,260.9 787.9,261.4" fill="#6b6c06" stroke="#363603"/><polygon points="786.1,262.8 785.7,264.5 785.7,264.0 786.0,261.9" fill="#2d957f" stroke="#164a40"/><polygon points="784.7,260.3 784.7,263.0 784.6,263.3 784.5,260.9" fill="#32a58d" stroke="#195246"/><polygon points="789.3,244.0 786.7,252.7 785.9,253.0 787.4,244.3" fill="#33aa91" stroke="#1a5548"/><polygon points="781.1,259.6 780.8,260.4 780.5,260.8 780.4,260.2" fill="#838407" stroke="#424204"/><polygon points="788.8,261.7 787.9,261.5 788.0,261.5 788.6,261.4" fill="#191440" stroke="#0c0a20"/><polygon points="789.0,261.2 788.8,261.7 788.6,261.4 788.6,260.7" fill="#868707" stroke="#434404"/><polygon points="779.3,256.5 779.8,257.0 779.9,257.5 778.9,257.0" fill="#288571" stroke="#144238"/><polygon points="786.5,266.0 786.1,266.8 786.2,265.8 786.5,264.5" fill="#257a68" stroke="#123d34"/><polygon points="784.5,257.3 784.8,257.5 784.6,257.5 783.9,257.4" fill="#1f6758" stroke="#10342c"/><polygon points="786.9,260.9 786.0,259.8 785.9,259.9 786.7,260.9" fill="#7d7e07" stroke="#3e3f04"/><polygon points="784.2,260.1 784.1,262.4 783.9,263.3 783.8,261.2" fill="#31a28b" stroke="#185146"/><polygon points="787.4,244.3 785.9,253.0 785.2,254.1 785.4,245.7" fill="#33ab92" stroke="#1a5649"/><polygon points="783.2,270.5 783.6,271.0 784.2,270.9 784.0,270.4" fill="#27816e" stroke="#144037"/><polygon points="785.6,257.9 786.1,259.0 785.7,258.9 785.4,257.9" fill="#828307" stroke="#414204"/><polygon points="786.0,261.9 785.7,264.0 785.7,263.6 785.8,261.2" fill="#2d9781" stroke="#164c40"/><polygon points="791.2,257.9 791.0,258.4 790.7,257.9 790.6,257.4" fill="#27826f" stroke="#144138"/><polygon points="791.0,258.4 789.8,258.6 789.8,258.3 790.7,257.9" fill="#27816e" stroke="#144037"/><polygon points="789.3,257.0 790.6,257.4 789.8,256.9 788.4,256.7" fill="#206c5c" stroke="#10362e"/><polygon points="781.2,260.7 782.2,260.5 782.6,260.1 781.3,260.8" fill="#17123a" stroke="#0c091d"/><polygon points="779.8,256.1 779.3,256.5 778.9,257.0 778.9,256.5" fill="#247665" stroke="#123b32"/><polygon points="784.9,259.8 784.9,262.7 784.7,263.0 784.7,260.3" fill="#31a48c" stroke="#185246"/><polygon points="782.1,260.6 783.2,260.0 783.5,259.4 782.2,260.5" fill="#1a1441" stroke="#0d0a20"/><polygon points="784.4,257.7 783.6,258.6 782.9,258.9 783.7,258.0" fill="#808107" stroke="#404004"/><polygon points="785.9,258.0 786.6,259.1 786.1,259.0 785.6,257.9" fill="#1b1645" stroke="#0e0b22"/><polygon points="786.5,264.5 786.2,265.8 786.2,264.8 786.4,263.1" fill="#267d6b" stroke="#133e36"/><polygon points="783.8,260.2 783.4,262.4 783.0,263.8 783.2,261.7" fill="#2d9680" stroke="#164b40"/><polygon points="786.2,258.2 787.1,259.4 786.6,259.1 785.9,258.0" fill="#1b1544" stroke="#0e0a22"/><polygon points="784.4,260.3 784.7,259.2 784.7,258.8 784.1,260.1" fill="#1e184c" stroke="#0f0c26"/><polygon points="784.8,256.7 784.5,255.9 783.6,255.7 784.3,256.4" fill="#247765" stroke="#123c32"/><polygon points="786.7,258.5 787.6,259.7 787.1,259.4 786.2,258.2" fill="#1a1543" stroke="#0d0a22"/><polygon points="784.0,270.4 784.2,270.9 784.9,270.5 784.8,269.8" fill="#278370" stroke="#144238"/><polygon points="785.8,261.2 785.7,263.6 785.6,263.2 785.7,260.5" fill="#2e9982" stroke="#174c41"/><polygon points="787.3,258.9 788.2,260.2 787.6,259.7 786.7,258.5" fill="#1a1541" stroke="#0d0a20"/><polygon points="781.1,257.2 782.5,257.5 783.0,257.6 781.2,257.5" fill="#227161" stroke="#113830"/><polygon points="788.3,258.1 786.6,257.9 786.6,257.9 788.0,257.9" fill="#216e5e" stroke="#10372f"/><polygon points="790.9,245.0 787.2,253.2 786.7,252.7 789.3,244.0" fill="#32a58d" stroke="#195246"/><polygon points="787.9,259.5 788.6,260.7 788.2,260.2 787.3,258.9" fill="#767706" stroke="#3b3c03"/><polygon points="785.0,259.5 785.0,262.4 784.9,262.7 784.9,259.8" fill="#31a28b" stroke="#185146"/><polygon points="782.0,264.3 781.9,266.5 781.8,268.0 781.8,265.9" fill="#1f6758" stroke="#10342c"/><polygon points="782.5,262.6 782.1,264.9 781.9,266.5 782.0,264.3" fill="#237463" stroke="#123a32"/><polygon points="779.8,257.0 781.2,257.5 781.7,257.7 779.9,257.5" fill="#247766" stroke="#123c33"/><polygon points="787.0,260.9 785.9,259.5 786.0,259.8 786.9,260.9" fill="#7c7d07" stroke="#3e3e04"/><polygon points="784.8,269.8 784.9,270.5 785.5,269.7 785.6,268.8" fill="#267e6c" stroke="#133f36"/><polygon points="785.7,260.5 785.6,263.2 785.5,262.8 785.5,260.0" fill="#2e9a84" stroke="#174d42"/><polygon points="787.9,261.5 786.7,260.4 786.9,260.7 788.0,261.5" fill="#6c6c06" stroke="#363603"/><polygon points="786.4,263.1 786.2,264.8 786.2,263.8 786.2,261.7" fill="#27816e" stroke="#144037"/><polygon points="780.4,260.2 780.5,260.8 780.5,261.1 780.0,260.8" fill="#1c1647" stroke="#0e0b24"/><polygon points="789.2,261.7 788.7,261.9 788.8,261.7 789.0,261.2" fill="#1c1748" stroke="#0e0c24"/><polygon points="780.5,260.8 781.3,260.8 781.7,260.6 780.5,261.1" fill="#17133c" stroke="#0c0a1e"/><polygon points="784.5,259.2 784.3,261.6 784.1,262.4 784.2,260.1" fill="#31a28a" stroke="#185145"/><polygon points="781.8,265.9 781.8,268.0 782.1,269.2 782.0,267.2" fill="#227060" stroke="#113830"/><polygon points="788.7,261.9 787.6,261.3 787.9,261.5 788.8,261.7" fill="#6e6e06" stroke="#373703"/><polygon points="788.5,260.1 789.0,261.2 788.6,260.7 787.9,259.5" fill="#727306" stroke="#393a03"/><polygon points="785.0,259.2 785.1,262.3 785.0,262.4 785.0,259.5" fill="#30a18a" stroke="#185045"/><polygon points="785.6,268.8 785.5,269.7 786.0,268.7 786.1,267.4" fill="#247866" stroke="#123c33"/><polygon points="785.5,260.0 785.5,262.8 785.5,262.5 785.4,259.6" fill="#2f9c85" stroke="#184e42"/><polygon points="782.8,256.3 781.1,255.9 779.8,256.1 781.4,256.1" fill="#227161" stroke="#113830"/><polygon points="783.2,260.9 782.6,263.3 782.1,264.9 782.5,262.6" fill="#267d6b" stroke="#133e36"/><polygon points="782.2,258.6 781.1,259.6 780.4,260.2 781.2,259.2" fill="#18133e" stroke="#0c0a1f"/><polygon points="783.2,258.0 782.0,258.9 781.1,259.6 782.2,258.6" fill="#747506" stroke="#3a3a03"/><polygon points="790.3,257.4 791.2,257.9 790.6,257.4 789.3,257.0" fill="#206a5b" stroke="#10352e"/><polygon points="783.1,260.3 784.0,259.3 784.3,258.7 783.2,260.0" fill="#858607" stroke="#424304"/><polygon points="789.8,258.6 787.8,258.4 788.2,258.3 789.8,258.3" fill="#237564" stroke="#123a32"/><polygon points="785.1,259.1 785.1,262.2 785.1,262.3 785.0,259.2" fill="#30a089" stroke="#185044"/><polygon points="785.4,245.7 785.2,254.1 784.9,255.9 784.0,248.1" fill="#33a991" stroke="#1a5448"/><polygon points="785.4,259.6 785.5,262.5 785.4,262.3 785.3,259.3" fill="#2f9d86" stroke="#184e43"/><polygon points="784.8,257.5 784.3,258.3 783.6,258.6 784.4,257.7" fill="#1b1544" stroke="#0e0a22"/><polygon points="782.4,257.3 783.7,257.5 784.2,257.5 782.5,257.5" fill="#206a5a" stroke="#10352d"/><polygon points="786.1,267.4 786.0,268.7 786.3,267.4 786.4,265.8" fill="#227060" stroke="#113830"/><polygon points="786.2,261.7 786.2,263.8 786.1,262.8 786.0,260.5" fill="#288471" stroke="#144238"/><polygon points="785.2,259.0 785.2,262.1 785.1,262.2 785.1,259.1" fill="#309f88" stroke="#185044"/><polygon points="785.3,259.3 785.4,262.3 785.3,262.2 785.2,259.1" fill="#2f9e87" stroke="#184f44"/><polygon points="784.0,256.6 782.4,255.9 781.1,255.9 782.8,256.3" fill="#237564" stroke="#123a32"/><polygon points="782.0,267.2 782.1,269.2 782.6,270.1 782.4,268.2" fill="#278370" stroke="#144238"/><polygon points="784.3,258.9 783.8,261.2 783.4,262.4 783.8,260.2" fill="#2e9882" stroke="#174c41"/><polygon points="785.2,259.1 785.3,262.2 785.2,262.1 785.2,259.0" fill="#309e87" stroke="#184f44"/><polygon points="781.4,256.1 779.8,256.1 778.9,256.5 780.0,256.2" fill="#216d5e" stroke="#10362f"/><polygon points="785.1,257.0 785.2,256.0 784.5,255.9 784.8,256.7" fill="#257a69" stroke="#123d34"/><polygon points="784.1,260.1 784.7,258.8 784.7,258.3 784.0,259.8" fill="#1e184d" stroke="#0f0c26"/><polygon points="786.4,265.8 786.3,267.4 786.5,266.0 786.5,264.1" fill="#20695a" stroke="#10342d"/><polygon points="789.0,260.8 789.2,261.7 789.0,261.2 788.5,260.1" fill="#6f6f06" stroke="#383803"/><polygon points="781.6,242.2 783.5,251.2 783.9,254.4 781.2,246.5" fill="#30a088" stroke="#185044"/><polygon points="781.2,259.2 780.4,260.2 780.0,260.8 780.4,260.0" fill="#17133c" stroke="#0c0a1e"/><polygon points="784.2,257.6 782.9,258.4 782.0,258.9 783.2,258.0" fill="#757606" stroke="#3a3b03"/><polygon points="786.9,260.7 785.8,259.1 785.9,259.5 787.0,260.9" fill="#1a1542" stroke="#0d0a21"/><polygon points="791.6,258.5 790.9,258.8 791.0,258.4 791.2,257.9" fill="#27826f" stroke="#144138"/><polygon points="783.9,259.3 783.2,261.7 782.6,263.3 783.2,260.9" fill="#288571" stroke="#144238"/><polygon points="781.3,260.8 782.6,260.1 783.3,259.4 781.7,260.6" fill="#6a6b06" stroke="#353603"/><polygon points="778.9,256.5 778.9,257.0 778.9,257.5 778.4,257.0" fill="#27816e" stroke="#144037"/><polygon points="778.9,257.0 779.9,257.5 780.5,257.8 778.9,257.5" fill="#257b69" stroke="#123e34"/><polygon points="784.8,258.4 784.5,260.9 784.3,261.6 784.5,259.2" fill="#30a18a" stroke="#185045"/><polygon points="788.2,258.3 786.3,257.8 786.6,257.9 788.3,258.1" fill="#216d5d" stroke="#10362e"/><polygon points="790.9,258.8 789.3,258.8 789.8,258.6 791.0,258.4" fill="#257b69" stroke="#123e34"/><polygon points="786.5,264.1 786.5,266.0 786.5,264.5 786.4,262.4" fill="#1e6556" stroke="#0f322b"/><polygon points="782.2,260.5 783.5,259.4 784.1,258.6 782.6,260.1" fill="#1a1441" stroke="#0d0a20"/><polygon points="782.4,268.2 782.6,270.1 783.2,270.5 783.1,268.6" fill="#2d957f" stroke="#164a40"/><polygon points="787.6,261.3 786.4,259.8 786.7,260.4 787.9,261.5" fill="#17123a" stroke="#0c091d"/><polygon points="786.0,260.5 786.1,262.8 786.0,261.9 785.7,259.4" fill="#298874" stroke="#14443a"/><polygon points="789.2,262.1 788.4,261.9 788.7,261.9 789.2,261.7" fill="#7b7c07" stroke="#3e3e04"/><polygon points="791.5,247.0 787.0,254.5 787.2,253.2 790.9,245.0" fill="#2f9e87" stroke="#184f44"/><polygon points="788.4,261.9 787.2,260.8 787.6,261.3 788.7,261.9" fill="#17123b" stroke="#0c091e"/><polygon points="780.0,260.8 780.5,261.1 780.9,261.1 780.0,261.2" fill="#7a7b07" stroke="#3d3e04"/><polygon points="785.6,260.0 785.1,258.2 785.1,258.1 785.3,259.9" fill="#909108" stroke="#484804"/><polygon points="785.0,257.4 784.8,258.1 784.3,258.3 784.8,257.5" fill="#1a1543" stroke="#0d0a22"/><polygon points="785.1,257.2 785.8,256.2 785.2,256.0 785.1,257.0" fill="#257d6b" stroke="#123e36"/><polygon points="785.8,260.0 785.2,258.1 785.1,258.2 785.6,260.0" fill="#1e184d" stroke="#0f0c26"/><polygon points="786.4,262.4 786.5,264.5 786.4,263.1 786.1,260.7" fill="#206b5c" stroke="#10362e"/><polygon points="785.3,259.9 785.1,258.1 785.0,258.0 785.1,259.7" fill="#1f194f" stroke="#100c28"/><polygon points="780.5,261.1 781.7,260.6 782.4,260.2 780.9,261.1" fill="#6d6e06" stroke="#363703"/><polygon points="791.1,257.9 791.6,258.5 791.2,257.9 790.3,257.4" fill="#1f6959" stroke="#10342c"/><polygon points="784.9,257.2 783.5,256.1 782.4,255.9 784.0,256.6" fill="#257a68" stroke="#123d34"/><polygon points="783.1,268.6 783.2,270.5 784.0,270.4 784.0,268.5" fill="#30a088" stroke="#185044"/><polygon points="789.3,261.6 789.2,262.1 789.2,261.7 789.0,260.8" fill="#6b6c06" stroke="#363603"/><polygon points="781.2,257.5 783.0,257.6 783.9,257.5 781.7,257.7" fill="#216f5f" stroke="#103830"/><polygon points="786.0,257.7 785.2,257.4 785.1,257.4 785.6,257.6" fill="#1f6858" stroke="#10342c"/><polygon points="780.0,256.2 778.9,256.5 778.4,257.0 779.0,256.6" fill="#206a5b" stroke="#10352e"/><polygon points="785.7,259.4 786.0,261.9 785.8,261.2 785.4,258.5" fill="#2a8b77" stroke="#15463c"/><polygon points="778.7,237.1 781.2,246.5 781.9,250.8 778.6,242.3" fill="#2d9680" stroke="#164b40"/><polygon points="784.8,257.9 784.2,260.1 783.8,261.2 784.3,258.9" fill="#2e9983" stroke="#174c42"/><polygon points="785.9,259.9 785.2,258.0 785.2,258.1 785.8,260.0" fill="#8c8d08" stroke="#464604"/><polygon points="779.9,257.5 781.7,257.7 782.7,257.8 780.5,257.8" fill="#237463" stroke="#123a32"/><polygon points="787.1,257.0 789.3,257.0 788.4,256.7 786.1,257.0" fill="#247766" stroke="#123c33"/><polygon points="780.4,260.0 780.0,260.8 780.0,261.2 780.0,260.7" fill="#6a6b06" stroke="#353603"/><polygon points="786.4,257.8 785.2,257.4 785.2,257.4 786.0,257.7" fill="#1f6657" stroke="#10332c"/><polygon points="786.7,260.4 785.5,258.5 785.8,259.1 786.9,260.7" fill="#777807" stroke="#3c3c04"/><polygon points="784.9,257.8 784.7,260.3 784.5,260.9 784.8,258.4" fill="#30a089" stroke="#185044"/><polygon points="783.2,260.0 784.3,258.7 784.8,257.8 783.5,259.4" fill="#1c1748" stroke="#0e0c24"/><polygon points="784.9,257.3 783.7,258.0 782.9,258.4 784.2,257.6" fill="#19143f" stroke="#0c0a20"/><polygon points="785.1,259.7 785.0,258.0 785.0,257.7 784.9,259.5" fill="#949508" stroke="#4a4a04"/><polygon points="782.9,261.5 782.0,264.3 781.8,265.9 782.5,263.1" fill="#227160" stroke="#113830"/><polygon points="786.1,257.0 788.4,256.7 787.5,256.5 785.5,257.1" fill="#257a68" stroke="#123d34"/><polygon points="784.0,248.1 784.9,255.9 784.8,256.5 783.5,251.2" fill="#32a88f" stroke="#195448"/><polygon points="787.2,258.7 788.5,260.1 787.9,259.5 786.4,258.1" fill="#161239" stroke="#0b091c"/><polygon points="785.6,257.6 785.1,257.4 785.0,257.3 785.1,257.6" fill="#20695a" stroke="#10342d"/><polygon points="784.0,259.8 784.7,258.3 784.9,257.6 784.0,259.3" fill="#1f184e" stroke="#100c27"/><polygon points="784.9,255.9 784.5,253.1 783.3,251.8 784.8,256.5" fill="#31a38b" stroke="#185246"/><polygon points="785.9,253.0 785.5,255.2 785.2,254.3 785.2,254.1" fill="#34ac93" stroke="#1a564a"/><polygon points="783.5,259.9 782.5,262.6 782.0,264.3 782.9,261.5" fill="#1e6556" stroke="#0f322b"/><polygon points="784.0,268.5 784.0,270.4 784.8,269.8 784.8,267.8" fill="#30a089" stroke="#185044"/><polygon points="789.3,258.8 787.1,258.2 787.8,258.4 789.8,258.6" fill="#237463" stroke="#123a32"/><polygon points="788.2,257.1 790.3,257.4 789.3,257.0 787.1,257.0" fill="#237564" stroke="#123a32"/><polygon points="785.2,254.1 785.2,254.3 784.5,253.1 784.9,255.9" fill="#309f87" stroke="#185044"/><polygon points="784.7,257.9 783.8,260.2 783.2,261.7 783.9,259.3" fill="#298a76" stroke="#14453b"/><polygon points="785.1,257.3 786.3,256.3 785.8,256.2 785.1,257.2" fill="#267e6b" stroke="#133f36"/><polygon points="786.7,252.7 785.7,255.5 785.5,255.2 785.9,253.0" fill="#32a78f" stroke="#195448"/><polygon points="786.1,260.7 786.4,263.1 786.2,261.7 785.7,259.2" fill="#227161" stroke="#113830"/><polygon points="786.4,258.1 787.9,259.5 787.3,258.9 785.7,257.7" fill="#6c6d06" stroke="#363603"/><polygon points="785.5,257.1 787.5,256.5 786.8,256.4 785.2,257.2" fill="#257c6a" stroke="#123e35"/><polygon points="783.9,257.6 782.2,258.6 781.2,259.2 782.8,258.2" fill="#161238" stroke="#0b091c"/><polygon points="782.5,263.1 781.8,265.9 782.0,267.2 782.4,264.4" fill="#27816e" stroke="#144037"/><polygon points="785.2,257.2 786.8,256.4 786.3,256.3 785.1,257.3" fill="#267d6b" stroke="#133e36"/><polygon points="784.8,267.8 784.8,269.8 785.6,268.8 785.6,266.7" fill="#2e9983" stroke="#174c42"/><polygon points="785.0,257.3 785.1,258.0 784.8,258.1 785.0,257.4" fill="#247967" stroke="#123c34"/><polygon points="786.0,259.8 785.1,257.7 785.2,258.0 785.9,259.9" fill="#1d174a" stroke="#0e0c25"/><polygon points="788.8,262.4 787.8,261.6 788.4,261.9 789.2,262.1" fill="#191441" stroke="#0c0a20"/><polygon points="785.1,257.6 785.0,257.3 785.0,257.4 784.8,257.5" fill="#206a5b" stroke="#10352e"/><polygon points="785.4,258.5 785.8,261.2 785.7,260.5 785.2,257.8" fill="#2b8f7a" stroke="#16483d"/><polygon points="787.8,258.4 785.7,257.6 786.3,257.8 788.2,258.3" fill="#216d5d" stroke="#10362e"/><polygon points="785.6,266.7 785.6,268.8 786.1,267.4 786.0,265.1" fill="#2b907b" stroke="#16483e"/><polygon points="787.2,253.2 786.2,255.3 785.7,255.5 786.7,252.7" fill="#32a68d" stroke="#195346"/><polygon points="782.5,257.5 784.2,257.5 785.0,257.3 783.0,257.6" fill="#1f6858" stroke="#10342c"/><polygon points="783.7,256.8 781.4,256.1 780.0,256.2 782.2,256.5" fill="#247665" stroke="#123b32"/><polygon points="784.4,258.4 783.2,260.9 782.5,262.6 783.5,259.9" fill="#227060" stroke="#113830"/><polygon points="785.7,257.7 787.3,258.9 786.7,258.5 785.2,257.4" fill="#6e6f06" stroke="#373803"/><polygon points="784.9,259.5 785.0,257.7 785.0,257.3 784.7,259.2" fill="#969708" stroke="#4b4c04"/><polygon points="787.8,261.6 786.6,260.1 787.2,260.8 788.4,261.9" fill="#707006" stroke="#383803"/><polygon points="786.0,265.1 786.1,267.4 786.4,265.8 786.3,263.4" fill="#288572" stroke="#144239"/><polygon points="785.1,257.4 785.4,257.9 785.1,258.0 785.0,257.3" fill="#247967" stroke="#123c34"/><polygon points="785.2,257.4 785.6,257.9 785.4,257.9 785.1,257.4" fill="#247866" stroke="#123c33"/><polygon points="788.6,260.4 789.3,261.6 789.0,260.8 787.9,259.5" fill="#6b6c06" stroke="#363603"/><polygon points="784.7,257.4 784.4,257.7 783.7,258.0 784.9,257.3" fill="#1f6859" stroke="#10342c"/><polygon points="785.0,257.3 784.9,259.8 784.7,260.3 784.9,257.8" fill="#a0a109" stroke="#505004"/><polygon points="786.3,263.4 786.4,265.8 786.5,264.1 786.2,261.5" fill="#257b69" stroke="#123e34"/><polygon points="785.2,257.4 785.9,258.0 785.6,257.9 785.2,257.4" fill="#237363" stroke="#123a32"/><polygon points="789.4,257.4 791.1,257.9 790.3,257.4 788.2,257.1" fill="#237463" stroke="#123a32"/><polygon points="789.3,262.2 788.8,262.4 789.2,262.1 789.3,261.6" fill="#6e6e06" stroke="#373703"/><polygon points="782.4,264.4 782.0,267.2 782.4,268.2 782.8,265.3" fill="#2c927c" stroke="#16493e"/><polygon points="781.7,258.9 780.4,260.0 780.0,260.7 780.9,259.6" fill="#6c6d06" stroke="#363603"/><polygon points="791.5,259.0 790.4,259.1 790.9,258.8 791.6,258.5" fill="#257b69" stroke="#123e34"/><polygon points="782.6,260.1 784.1,258.6 784.8,257.6 783.3,259.4" fill="#19143f" stroke="#0c0a20"/><polygon points="780.0,261.2 780.9,261.1 781.6,260.9 780.4,261.5" fill="#1a1441" stroke="#0d0a20"/><polygon points="790.4,259.1 788.5,258.8 789.3,258.8 790.9,258.8" fill="#247866" stroke="#123c33"/><polygon points="785.7,259.2 786.2,261.7 786.0,260.5 785.3,258.0" fill="#247766" stroke="#123c33"/><polygon points="784.9,257.6 784.5,259.2 784.2,260.1 784.8,257.9" fill="#1f1950" stroke="#100c28"/><polygon points="785.2,257.4 786.7,258.5 786.2,258.2 785.1,257.3" fill="#17133b" stroke="#0c0a1e"/><polygon points="783.5,251.2 784.8,256.5 783.7,254.3 783.9,254.4" fill="#33ab92" stroke="#1a5649"/><polygon points="785.0,257.3 783.2,258.0 782.2,258.6 783.9,257.6" fill="#17123a" stroke="#0c091d"/><polygon points="778.4,257.0 778.9,257.5 779.4,258.0 778.3,257.6" fill="#257a69" stroke="#123d34"/><polygon points="785.1,257.3 786.2,258.2 785.9,258.0 785.2,257.4" fill="#206c5c" stroke="#10362e"/><polygon points="778.9,257.5 780.5,257.8 781.4,258.0 779.4,258.0" fill="#247866" stroke="#123c33"/><polygon points="785.1,258.1 785.1,259.1 785.0,259.2 785.0,258.0" fill="#231c58" stroke="#120e2c"/><polygon points="785.1,258.2 785.2,259.0 785.1,259.1 785.1,258.1" fill="#231c58" stroke="#120e2c"/><polygon points="782.2,256.5 780.0,256.2 779.0,256.6 780.8,256.5" fill="#237564" stroke="#123a32"/><polygon points="785.0,258.0 785.0,259.2 785.0,259.5 785.0,257.7" fill="#221b55" stroke="#110e2a"/><polygon points="785.2,258.1 785.2,259.1 785.2,259.0 785.1,258.2" fill="#211a54" stroke="#100d2a"/><polygon points="787.0,254.5 787.0,254.7 786.2,255.3 787.2,253.2" fill="#31a38b" stroke="#185246"/><polygon points="784.7,259.2 785.0,257.3 784.9,257.8 784.7,258.8" fill="#878807" stroke="#444404"/><polygon points="786.6,257.9 785.2,257.4 785.1,257.3 786.6,257.9" fill="#206b5c" stroke="#10362e"/><polygon points="785.9,259.5 785.0,257.3 785.1,257.7 786.0,259.8" fill="#1d1749" stroke="#0e0c24"/><polygon points="780.9,261.1 782.4,260.2 783.2,259.5 781.6,260.9" fill="#18133e" stroke="#0c0a1f"/><polygon points="786.2,261.5 786.5,264.1 786.4,262.4 785.8,259.7" fill="#227262" stroke="#113931"/><polygon points="786.4,259.8 785.2,257.7 785.5,258.5 786.7,260.4" fill="#747506" stroke="#3a3a03"/><polygon points="784.0,259.3 784.9,257.6 784.8,257.9 784.3,258.7" fill="#767606" stroke="#3b3b03"/><polygon points="785.0,257.7 785.0,259.5 784.9,259.8 785.0,257.3" fill="#939408" stroke="#4a4a04"/><polygon points="785.2,257.8 785.7,260.5 785.5,260.0 785.0,257.3" fill="#2b917c" stroke="#16483e"/><polygon points="783.7,257.5 784.9,257.3 784.2,257.6 784.2,257.5" fill="#247967" stroke="#123c34"/><polygon points="785.2,258.0 785.3,259.3 785.2,259.1 785.2,258.1" fill="#1e184c" stroke="#0f0c26"/><polygon points="781.2,246.5 783.9,254.4 784.9,257.1 781.9,250.8" fill="#2e9983" stroke="#174c42"/><polygon points="784.8,257.8 784.3,258.9 783.8,260.2 784.7,257.9" fill="#7f8007" stroke="#404004"/><polygon points="791.0,249.6 786.0,256.2 787.0,254.5 791.5,247.0" fill="#2d957f" stroke="#164a40"/><polygon points="785.1,257.7 785.4,259.6 785.3,259.3 785.2,258.0" fill="#1a1543" stroke="#0d0a22"/><polygon points="780.0,260.7 780.0,261.2 780.4,261.5 779.9,261.3" fill="#17123b" stroke="#0c091e"/><polygon points="783.9,254.4 783.7,254.3 782.1,252.4 784.9,257.1" fill="#33a890" stroke="#1a5448"/><polygon points="784.2,257.5 784.2,257.6 783.2,258.0 785.0,257.3" fill="#247967" stroke="#123c34"/><polygon points="784.8,257.6 783.9,259.3 783.2,260.9 784.4,258.4" fill="#19143f" stroke="#0c0a20"/><polygon points="786.3,257.8 785.7,257.7 785.2,257.4 786.6,257.9" fill="#247867" stroke="#123c34"/><polygon points="782.8,265.3 782.4,268.2 783.1,268.6 783.4,265.8" fill="#30a089" stroke="#185044"/><polygon points="779.0,256.6 778.4,257.0 778.3,257.6 778.4,257.1" fill="#1f6657" stroke="#10332c"/><polygon points="785.8,259.1 785.2,257.8 785.0,257.3 785.9,259.5" fill="#6e6e06" stroke="#373703"/><polygon points="781.7,257.7 783.9,257.5 785.0,257.3 782.7,257.8" fill="#22705f" stroke="#113830"/><polygon points="785.8,259.7 786.4,262.4 786.1,260.7 785.3,258.1" fill="#206a5a" stroke="#10352d"/><polygon points="786.6,260.1 785.3,257.9 785.9,259.0 787.2,260.8" fill="#161238" stroke="#0b091c"/><polygon points="788.3,262.3 787.1,261.0 787.8,261.6 788.8,262.4" fill="#7b7b07" stroke="#3e3e04"/><polygon points="789.0,261.2 789.3,262.2 789.3,261.6 788.6,260.4" fill="#717206" stroke="#383903"/><polygon points="788.5,258.8 786.1,257.9 787.1,258.2 789.3,258.8" fill="#237564" stroke="#123a32"/><polygon points="780.5,257.8 782.7,257.8 783.9,257.6 781.4,258.0" fill="#237564" stroke="#123a32"/><polygon points="785.5,258.5 785.4,258.5 785.2,257.8 785.8,259.1" fill="#1c1647" stroke="#0e0b24"/><polygon points="786.0,256.2 788.4,254.0 787.0,254.7 787.0,254.5" fill="#30a18a" stroke="#185045"/><polygon points="783.0,257.6 785.0,257.3 783.9,257.6 783.9,257.5" fill="#298975" stroke="#14443a"/><polygon points="787.1,261.0 785.9,259.0 786.6,260.1 787.8,261.6" fill="#757606" stroke="#3a3b03"/><polygon points="787.1,258.2 785.2,257.4 785.7,257.6 787.8,258.4" fill="#237362" stroke="#123a31"/><polygon points="785.2,257.7 785.7,259.4 785.4,258.5 785.5,258.5" fill="#1e184b" stroke="#0f0c26"/><polygon points="784.1,258.6 784.7,257.9 783.9,259.3 784.8,257.6" fill="#868707" stroke="#434404"/><polygon points="784.2,258.6 782.9,261.5 782.5,263.1 783.7,259.9" fill="#257b69" stroke="#123e34"/><polygon points="786.2,258.0 787.9,259.5 787.2,258.7 785.2,257.4" fill="#6c6d06" stroke="#363603"/><polygon points="785.9,259.0 785.3,258.0 785.2,257.7 786.4,259.8" fill="#808107" stroke="#404004"/><polygon points="787.1,258.8 788.6,260.4 787.9,259.5 786.2,258.0" fill="#18133d" stroke="#0c0a1e"/><polygon points="785.2,257.4 787.2,258.7 786.4,258.1 785.7,257.6" fill="#1b1645" stroke="#0e0b22"/><polygon points="783.4,265.8 783.1,268.6 784.0,268.5 784.1,265.6" fill="#33a991" stroke="#1a5448"/><polygon points="785.0,257.3 782.8,258.2 781.7,258.9 783.7,257.8" fill="#17123b" stroke="#0c091e"/><polygon points="783.3,259.4 784.8,257.6 784.4,258.4 784.1,258.5" fill="#1e184b" stroke="#0f0c26"/><polygon points="783.9,257.5 783.9,257.6 782.8,258.2 785.0,257.3" fill="#298874" stroke="#14443a"/><polygon points="785.3,257.3 788.2,257.1 787.1,257.0 785.9,257.1" fill="#2a8c77" stroke="#15463c"/><polygon points="780.9,259.6 780.0,260.7 779.9,261.3 780.4,260.4" fill="#19143f" stroke="#0c0a20"/><polygon points="782.4,260.2 784.1,258.5 785.0,257.3 783.2,259.5" fill="#6b6c06" stroke="#363603"/><polygon points="783.7,257.8 781.7,258.9 780.9,259.6 782.6,258.4" fill="#18133e" stroke="#0c0a1f"/><polygon points="789.0,262.6 788.3,262.3 788.8,262.4 789.3,262.2" fill="#1a1441" stroke="#0d0a20"/><polygon points="785.3,258.1 786.1,260.7 785.7,259.2 785.3,257.9" fill="#247867" stroke="#123c34"/><polygon points="783.7,259.9 782.5,263.1 782.4,264.4 783.4,261.1" fill="#298a76" stroke="#14453b"/><polygon points="785.0,257.3 783.5,259.9 782.9,261.5 784.2,258.6" fill="#6f7006" stroke="#383803"/><polygon points="790.4,257.9 791.6,258.5 791.1,257.9 789.4,257.4" fill="#237564" stroke="#123a32"/><polygon points="778.6,242.3 781.9,250.8 783.4,254.6 779.6,247.3" fill="#2a8d78" stroke="#15463c"/><polygon points="780.8,256.5 779.0,256.6 778.4,257.1 779.6,256.7" fill="#237564" stroke="#123a32"/><polygon points="784.1,258.5 784.4,258.4 783.5,259.9 785.0,257.3" fill="#9c9d09" stroke="#4e4e04"/><polygon points="786.7,257.2 789.4,257.4 788.2,257.1 785.3,257.3" fill="#247867" stroke="#123c34"/><polygon points="780.4,261.5 781.6,260.9 782.4,260.5 781.0,261.6" fill="#7e7f07" stroke="#3f4004"/><polygon points="781.6,260.9 783.2,259.5 784.1,258.6 782.4,260.5" fill="#7b7c07" stroke="#3e3e04"/><polygon points="784.1,265.6 784.0,268.5 784.8,267.8 784.9,264.9" fill="#33aa91" stroke="#1a5548"/><polygon points="785.8,262.1 786.0,265.1 786.3,263.4 785.8,260.4" fill="#2c927c" stroke="#16493e"/><polygon points="781.9,250.8 784.9,257.1 783.1,254.5 783.4,254.6" fill="#33aa91" stroke="#1a5548"/><polygon points="785.8,260.4 786.3,263.4 786.2,261.5 785.4,258.6" fill="#298773" stroke="#14443a"/><polygon points="785.9,259.0 785.3,258.1 785.3,257.9 786.6,260.1" fill="#1e184c" stroke="#0f0c26"/><polygon points="785.4,263.7 785.6,266.7 786.0,265.1 785.8,262.1" fill="#2f9c85" stroke="#184e42"/><polygon points="784.9,264.9 784.8,267.8 785.6,266.7 785.4,263.7" fill="#32a58d" stroke="#195246"/><polygon points="787.9,259.8 789.0,261.2 788.6,260.4 787.1,258.8" fill="#191441" stroke="#0c0a20"/><polygon points="786.1,257.9 786.2,258.0 785.2,257.4 787.1,258.2" fill="#2c927d" stroke="#16493e"/><polygon points="782.7,257.8 785.0,257.3 783.7,257.8 783.9,257.6" fill="#2d957f" stroke="#164a40"/><polygon points="789.5,259.3 787.4,258.5 788.5,258.8 790.4,259.1" fill="#247867" stroke="#123c34"/><polygon points="783.4,261.1 782.4,264.4 782.8,265.3 783.5,261.9" fill="#2e9983" stroke="#174c42"/><polygon points="785.4,258.6 786.2,261.5 785.8,259.7 785.2,257.6" fill="#288471" stroke="#144238"/><polygon points="787.5,261.9 786.3,260.1 787.1,261.0 788.3,262.3" fill="#1c1646" stroke="#0e0b23"/><polygon points="779.4,258.0 781.4,258.0 782.6,258.0 780.3,258.3" fill="#247867" stroke="#123c34"/><polygon points="786.3,260.1 785.2,257.6 785.9,259.0 787.1,261.0" fill="#1b1544" stroke="#0e0a22"/><polygon points="785.2,257.6 785.8,259.7 785.3,258.1 785.9,259.0" fill="#312a68" stroke="#181534"/><polygon points="783.2,259.5 785.0,257.3 784.2,258.6 784.1,258.6" fill="#251e5b" stroke="#120f2e"/><polygon points="789.6,252.4 785.7,256.7 786.0,256.2 791.0,249.6" fill="#2c927c" stroke="#16493e"/><polygon points="787.4,258.5 785.0,257.3 786.1,257.9 788.5,258.8" fill="#247766" stroke="#123c33"/><polygon points="782.6,258.4 780.9,259.6 780.4,260.4 781.8,259.1" fill="#1a1542" stroke="#0d0a21"/><polygon points="791.0,259.4 789.5,259.3 790.4,259.1 791.5,259.0" fill="#247866" stroke="#123c33"/><polygon points="789.0,262.0 789.0,262.6 789.3,262.2 789.0,261.2" fill="#777807" stroke="#3c3c04"/><polygon points="779.9,261.3 780.4,261.5 781.0,261.6 780.2,261.8" fill="#191441" stroke="#0c0a20"/><polygon points="785.0,257.3 787.1,258.8 786.2,258.0 786.1,257.9" fill="#999a08" stroke="#4c4d04"/><polygon points="781.4,258.0 783.9,257.6 784.9,257.3 782.6,258.0" fill="#247867" stroke="#123c34"/><polygon points="783.9,257.6 783.7,257.8 782.6,258.4 784.9,257.3" fill="#2c937e" stroke="#164a3f"/><polygon points="783.4,254.6 783.1,254.5 781.1,252.6 784.7,256.8" fill="#31a48c" stroke="#185246"/><polygon points="784.1,258.6 784.2,258.6 783.7,259.9 784.8,257.6" fill="#a5a60a" stroke="#525305"/><polygon points="788.1,257.4 790.4,257.9 789.4,257.4 786.7,257.2" fill="#247866" stroke="#123c33"/><polygon points="778.3,257.6 779.4,258.0 780.3,258.3 778.7,258.1" fill="#247866" stroke="#123c33"/><polygon points="783.5,256.9 780.8,256.5 779.6,256.7 782.0,256.7" fill="#247866" stroke="#123c33"/><polygon points="784.8,257.6 783.7,259.9 783.4,261.1 784.8,257.8" fill="#211a53" stroke="#100d2a"/><polygon points="782.4,260.5 784.1,258.6 784.8,257.6 783.2,260.0" fill="#868707" stroke="#434404"/><polygon points="783.5,261.9 782.8,265.3 783.4,265.8 783.9,262.3" fill="#32a58d" stroke="#195246"/><polygon points="785.6,258.8 785.4,258.6 785.2,257.6 786.3,260.1" fill="#bcbd1b" stroke="#5e5e0e"/><polygon points="786.1,258.1 787.9,259.8 787.1,258.8 785.0,257.3" fill="#1a1542" stroke="#0d0a21"/><polygon points="785.0,257.3 785.8,260.4 785.4,258.6 785.6,258.8" fill="#ffff87" stroke="#808044"/><polygon points="795.0,245.1 789.6,252.4 791.0,249.6 796.1,241.1" fill="#298874" stroke="#14443a"/><polygon points="788.4,262.7 787.5,261.9 788.3,262.3 789.0,262.6" fill="#1b1646" stroke="#0e0b23"/><polygon points="785.3,258.8 785.8,262.1 785.8,260.4 785.0,257.3" fill="#2e9983" stroke="#174c42"/><polygon points="784.9,257.3 782.6,258.4 781.8,259.1 783.9,257.8" fill="#1a1543" stroke="#0d0a22"/><polygon points="786.6,261.1 785.6,258.8 786.3,260.1 787.5,261.9" fill="#1d174b" stroke="#0e0c26"/><polygon points="784.8,257.8 783.4,261.1 783.5,261.9 784.6,258.5" fill="#2f9c85" stroke="#184e42"/><polygon points="786.1,258.0 786.1,258.1 785.0,257.3 787.4,258.5" fill="#2f9d86" stroke="#184e43"/><polygon points="791.6,259.1 791.0,259.4 791.5,259.0 791.6,258.5" fill="#206a5b" stroke="#10352e"/><polygon points="781.0,261.6 782.4,260.5 783.2,260.0 781.7,261.5" fill="#1d174a" stroke="#0e0c25"/><polygon points="782.6,258.0 784.9,257.3 783.9,257.8 783.7,257.8" fill="#2e9982" stroke="#174c41"/><polygon points="785.3,260.3 785.4,263.7 785.8,262.1 785.3,258.8" fill="#31a28b" stroke="#185146"/><polygon points="788.4,260.7 789.0,262.0 789.0,261.2 787.9,259.8" fill="#1b1645" stroke="#0e0b22"/><polygon points="780.4,260.4 779.9,261.3 780.2,261.8 780.3,261.1" fill="#7d7e07" stroke="#3e3f04"/><polygon points="783.2,260.0 784.8,257.6 784.8,257.8 783.8,259.5" fill="#221b57" stroke="#110e2c"/><polygon points="779.6,247.3 783.4,254.6 784.7,256.8 781.4,251.6" fill="#298874" stroke="#14443a"/><polygon points="783.9,262.3 783.4,265.8 784.1,265.6 784.4,262.1" fill="#34ad93" stroke="#1a564a"/><polygon points="778.4,257.1 778.3,257.6 778.7,258.1 778.2,257.7" fill="#206a5b" stroke="#10352e"/><polygon points="785.9,260.1 785.0,257.3 785.6,258.8 786.6,261.1" fill="#1f1950" stroke="#100c28"/><polygon points="788.3,259.1 786.1,258.0 787.4,258.5 789.5,259.3" fill="#257b69" stroke="#123e34"/><polygon points="785.1,257.3 787.0,259.1 786.1,258.1 786.1,258.0" fill="#231c58" stroke="#120e2c"/><polygon points="787.4,255.2 787.8,255.2 785.7,256.7 789.6,252.4" fill="#2e9a83" stroke="#174d42"/><polygon points="784.6,258.5 783.5,261.9 783.9,262.3 784.7,258.7" fill="#32a78e" stroke="#195447"/><polygon points="785.1,257.7 785.3,260.3 785.3,258.8 785.3,258.9" fill="#a69edf" stroke="#534f70"/><polygon points="785.3,258.9 785.3,258.8 785.0,257.3 785.9,260.1" fill="#8d85c7" stroke="#464264"/><polygon points="784.9,261.4 784.9,264.9 785.4,263.7 785.3,260.3" fill="#33aa91" stroke="#1a5548"/><polygon points="783.8,259.5 784.8,257.8 784.6,258.5 784.3,259.1" fill="#332b6a" stroke="#1a1635"/><polygon points="784.4,262.1 784.1,265.6 784.9,264.9 784.9,261.4" fill="#34ae95" stroke="#1a574a"/><polygon points="785.0,257.9 784.9,261.4 785.3,260.3 785.1,257.7" fill="#34ae94" stroke="#1a574a"/><polygon points="783.7,257.8 783.9,257.8 783.1,258.5 784.7,257.5" fill="#2f9b84" stroke="#184e42"/><polygon points="787.0,259.1 788.4,260.7 787.9,259.8 786.1,258.1" fill="#818207" stroke="#404104"/><polygon points="780.3,258.3 782.6,258.0 783.7,257.8 781.3,258.4" fill="#257b69" stroke="#123e34"/><polygon points="784.3,259.1 784.6,258.5 784.7,258.7 784.5,259.0" fill="#aaab0d" stroke="#555606"/><polygon points="784.7,258.7 783.9,262.3 784.4,262.1 784.8,258.5" fill="#34ad94" stroke="#1a564a"/><polygon points="784.8,258.5 784.4,262.1 784.9,261.4 785.0,257.9" fill="#34ae95" stroke="#1a574a"/><polygon points="791.0,258.5 791.6,259.1 791.6,258.5 790.4,257.9" fill="#247866" stroke="#123c33"/><polygon points="786.5,257.4 789.3,257.8 788.1,257.4 785.1,257.3" fill="#247967" stroke="#123c34"/><polygon points="781.8,259.1 780.4,260.4 780.3,261.1 781.3,259.9" fill="#1c1647" stroke="#0e0b24"/><polygon points="784.5,259.0 784.7,258.7 784.8,258.5 784.7,259.2" fill="#251e5b" stroke="#120f2e"/><polygon points="787.1,258.7 785.1,257.3 786.1,258.0 788.3,259.1" fill="#27806e" stroke="#144037"/><polygon points="788.7,262.6 788.4,262.7 789.0,262.6 789.0,262.0" fill="#717206" stroke="#383903"/><polygon points="783.9,257.8 781.8,259.1 781.3,259.9 783.1,258.5" fill="#848507" stroke="#424204"/><polygon points="781.4,251.6 784.7,256.8 782.6,254.5 783.4,255.2" fill="#30a089" stroke="#185044"/><polygon points="787.6,262.5 786.6,261.1 787.5,261.9 788.4,262.7" fill="#1d174b" stroke="#0e0c26"/><polygon points="784.7,259.2 784.8,258.5 785.0,257.9 784.9,259.7" fill="#362e6e" stroke="#1b1737"/><polygon points="779.6,256.7 778.4,257.1 778.2,257.7 779.0,257.2" fill="#247867" stroke="#123c34"/><polygon points="785.9,258.0 786.0,258.3 785.1,257.3 787.1,258.7" fill="#30a088" stroke="#185044"/><polygon points="781.7,261.5 783.2,260.0 783.8,259.5 782.5,261.4" fill="#1f194f" stroke="#100c28"/><polygon points="780.2,261.8 781.0,261.6 781.7,261.5 780.8,262.1" fill="#1c1646" stroke="#0e0b23"/><polygon points="784.9,259.7 785.0,257.9 785.1,257.7 785.3,260.5" fill="#605899" stroke="#302c4c"/><polygon points="784.7,257.5 783.1,258.5 782.7,259.1 784.7,257.5" fill="#2b907b" stroke="#16483e"/><polygon points="789.3,257.8 791.0,258.5 790.4,257.9 788.1,257.4" fill="#247967" stroke="#123c34"/><polygon points="781.3,258.4 783.7,257.8 784.7,257.5 782.4,258.4" fill="#26806d" stroke="#134036"/><polygon points="786.0,258.3 787.5,260.1 787.0,259.1 785.1,257.3" fill="#1d174a" stroke="#0e0c25"/><polygon points="782.0,256.7 779.6,256.7 779.0,257.2 780.8,256.9" fill="#247967" stroke="#123c34"/><polygon points="790.1,259.7 788.3,259.1 789.5,259.3 791.0,259.4" fill="#247967" stroke="#123c34"/><polygon points="785.1,257.4 786.5,259.2 786.0,258.3 785.9,258.0" fill="#a6a70b" stroke="#535406"/><polygon points="785.3,260.5 785.1,257.7 785.3,258.9 785.9,261.3" fill="#261e5c" stroke="#130f2e"/><polygon points="782.4,258.4 784.7,257.5 784.7,257.5 783.3,258.3" fill="#2b8e79" stroke="#16473c"/><polygon points="786.7,262.0 785.9,260.1 786.6,261.1 787.6,262.5" fill="#939408" stroke="#4a4a04"/><polygon points="783.4,255.2 782.6,254.5 780.7,253.0 784.5,256.7" fill="#2d9680" stroke="#164b40"/><polygon points="778.7,258.1 780.3,258.3 781.3,258.4 779.5,258.5" fill="#247967" stroke="#123c34"/><polygon points="785.9,261.3 785.3,258.9 785.9,260.1 786.7,262.0" fill="#211b55" stroke="#100e2a"/><polygon points="782.5,261.4 783.8,259.5 784.3,259.1 783.1,261.3" fill="#9c9d09" stroke="#4e4e04"/><polygon points="783.3,258.3 784.7,257.5 784.3,257.9 783.9,258.1" fill="#2c937e" stroke="#164a3f"/><polygon points="788.4,261.7 788.7,262.6 789.0,262.0 788.4,260.7" fill="#1d174a" stroke="#0e0c25"/><polygon points="785.7,258.2 785.6,258.2 785.1,257.4 786.5,258.9" fill="#2f9b85" stroke="#184e42"/><polygon points="787.5,260.1 788.4,261.7 788.4,260.7 787.0,259.1" fill="#8a8b08" stroke="#454604"/><polygon points="783.1,261.3 784.3,259.1 784.5,259.0 783.7,261.4" fill="#a6a70b" stroke="#535406"/><polygon points="780.3,261.1 780.2,261.8 780.8,262.1 780.6,261.7" fill="#808107" stroke="#404004"/><polygon points="785.1,257.5 785.7,259.0 785.6,258.2 785.7,258.2" fill="#31a28a" stroke="#185145"/><polygon points="784.7,257.5 782.7,259.1 782.7,259.6 784.3,257.9" fill="#919208" stroke="#484904"/><polygon points="792.9,249.0 787.4,255.2 789.6,252.4 795.0,245.1" fill="#257d6b" stroke="#123e36"/><polygon points="788.1,262.9 787.6,262.5 788.4,262.7 788.7,262.6" fill="#1a1441" stroke="#0d0a20"/><polygon points="784.4,258.0 784.2,258.2 784.4,258.4 784.6,258.0" fill="#30a18a" stroke="#185045"/><polygon points="786.5,258.9 785.1,257.4 785.9,258.0 787.7,259.4" fill="#298874" stroke="#14443a"/><polygon points="783.1,258.5 781.3,259.9 781.3,260.6 782.7,259.1" fill="#1e184c" stroke="#0f0c26"/><polygon points="785.6,258.2 786.6,260.2 786.5,259.2 785.1,257.4" fill="#959608" stroke="#4a4b04"/><polygon points="791.2,259.6 790.1,259.7 791.0,259.4 791.6,259.1" fill="#227060" stroke="#113830"/><polygon points="783.7,261.4 784.5,259.0 784.7,259.2 784.3,261.6" fill="#312a68" stroke="#181534"/><polygon points="780.8,262.1 781.7,261.5 782.5,261.4 781.5,262.3" fill="#8c8d08" stroke="#464604"/><polygon points="784.6,258.0 784.4,258.4 784.7,258.3 784.8,258.1" fill="#31a28a" stroke="#185145"/><polygon points="789.0,259.6 787.1,258.7 788.3,259.1 790.1,259.7" fill="#257c6a" stroke="#123e35"/><polygon points="785.1,257.6 785.4,259.6 785.7,259.0 785.1,257.5" fill="#9e9f09" stroke="#4f5004"/><polygon points="783.6,257.0 780.8,256.9 780.2,257.2 782.5,257.1" fill="#247967" stroke="#123c34"/><polygon points="781.3,259.9 780.3,261.1 780.6,261.7 781.3,260.6" fill="#1e184d" stroke="#0f0c26"/><polygon points="785.0,258.3 785.0,258.1 785.1,257.6 785.3,258.7" fill="#2b907b" stroke="#16483e"/><polygon points="776.2,238.6 779.6,247.3 781.4,251.6 777.5,243.9" fill="#267f6d" stroke="#134036"/><polygon points="787.9,257.7 790.0,258.4 789.3,257.8 786.5,257.4" fill="#247967" stroke="#123c34"/><polygon points="778.2,257.7 778.7,258.1 779.5,258.5 778.6,258.2" fill="#216f5f" stroke="#103830"/><polygon points="786.5,259.2 787.6,261.1 787.5,260.1 786.0,258.3" fill="#919208" stroke="#484904"/><polygon points="786.4,257.5 788.7,258.2 787.9,257.7 785.1,257.3" fill="#247766" stroke="#123c33"/><polygon points="790.2,252.5 785.2,257.1 787.4,255.2 792.9,249.0" fill="#237464" stroke="#123a32"/><polygon points="787.7,259.4 785.9,258.0 787.1,258.7 789.0,259.6" fill="#27816e" stroke="#144037"/><polygon points="787.2,255.4 787.7,255.5 785.2,257.1 790.2,252.5" fill="#2b907b" stroke="#16483e"/><polygon points="784.3,261.6 784.7,259.2 784.9,259.7 784.9,261.9" fill="#352e6d" stroke="#1a1736"/><polygon points="785.3,258.7 785.1,257.6 785.1,257.5 785.9,259.2" fill="#2c927d" stroke="#16493e"/><polygon points="781.4,252.2 784.5,256.7 782.7,254.9 783.3,255.1" fill="#2b8f7a" stroke="#16483d"/><polygon points="779.5,258.5 781.3,258.4 782.4,258.4 780.4,258.8" fill="#257c6a" stroke="#123e35"/><polygon points="779.3,248.5 783.4,255.2 784.5,256.7 781.4,252.2" fill="#237665" stroke="#123b32"/><polygon points="787.3,263.0 786.7,262.0 787.6,262.5 788.1,262.9" fill="#1e184b" stroke="#0f0c26"/><polygon points="783.3,255.1 782.7,254.9 781.4,253.7 785.0,257.2" fill="#2c917c" stroke="#16483e"/><polygon points="784.3,257.9 782.7,259.6 783.0,260.0 784.2,258.2" fill="#201a52" stroke="#100d29"/><polygon points="788.1,262.4 788.1,262.9 788.7,262.6 788.4,261.7" fill="#1f184e" stroke="#100c27"/><polygon points="791.2,259.1 791.2,259.6 791.6,259.1 791.0,258.5" fill="#257c6a" stroke="#123e35"/><polygon points="784.9,261.9 784.9,259.7 785.3,260.5 785.6,262.4" fill="#28215f" stroke="#141030"/><polygon points="777.5,243.9 781.4,251.6 783.4,255.2 779.3,248.5" fill="#247765" stroke="#123c32"/><polygon points="790.0,258.4 791.2,259.1 791.0,258.5 789.3,257.8" fill="#267d6b" stroke="#133e36"/><polygon points="781.5,262.3 782.5,261.4 783.1,261.3 782.3,262.4" fill="#201951" stroke="#100c28"/><polygon points="779.0,257.2 778.2,257.7 778.6,258.2 778.8,257.7" fill="#267e6c" stroke="#133f36"/><polygon points="785.0,258.1 784.9,260.1 785.4,259.6 785.1,257.6" fill="#9fa009" stroke="#505004"/><polygon points="787.6,261.1 788.1,262.4 788.4,261.7 787.5,260.1" fill="#1f1950" stroke="#100c28"/><polygon points="780.8,256.9 779.0,257.2 778.8,257.7 780.2,257.2" fill="#267d6b" stroke="#133e36"/><polygon points="785.6,262.4 785.3,260.5 785.9,261.3 786.4,262.8" fill="#221b57" stroke="#110e2c"/><polygon points="786.4,262.8 785.9,261.3 786.7,262.0 787.3,263.0" fill="#201a52" stroke="#100d29"/><polygon points="780.6,261.7 780.8,262.1 781.5,262.3 781.2,262.1" fill="#18143e" stroke="#0c0a1f"/><polygon points="785.9,259.2 785.1,257.5 785.7,258.2 786.8,259.6" fill="#2a8b77" stroke="#15463c"/><polygon points="780.4,258.8 782.4,258.4 783.3,258.3 781.4,259.0" fill="#26806d" stroke="#134036"/><polygon points="782.7,259.1 781.3,260.6 781.6,261.1 782.7,259.6" fill="#201951" stroke="#100c28"/><polygon points="784.5,257.2 781.9,257.3 781.7,257.6 783.9,257.3" fill="#247766" stroke="#123c33"/><polygon points="784.2,258.2 783.0,260.0 783.5,260.3 784.4,258.4" fill="#221b55" stroke="#110e2a"/><polygon points="785.7,259.0 786.3,260.9 786.6,260.2 785.6,258.2" fill="#211b55" stroke="#100e2a"/><polygon points="785.9,257.5 787.6,258.3 787.3,257.9 785.0,257.3" fill="#237665" stroke="#123b32"/><polygon points="781.4,259.0 783.3,258.3 783.9,258.1 782.2,259.1" fill="#288471" stroke="#144238"/><polygon points="790.3,259.9 789.0,259.6 790.1,259.7 791.2,259.6" fill="#237564" stroke="#123a32"/><polygon points="782.3,262.4 783.1,261.3 783.7,261.4 783.1,262.6" fill="#9c9d09" stroke="#4e4e04"/><polygon points="784.7,258.3 784.2,260.3 784.9,260.1 785.0,258.1" fill="#a1a209" stroke="#505104"/><polygon points="782.2,259.1 783.9,258.1 784.4,258.0 783.0,259.2" fill="#298874" stroke="#14443a"/><polygon points="781.3,260.6 780.6,261.7 781.2,262.1 781.6,261.1" fill="#201a52" stroke="#100d29"/><polygon points="785.2,257.4 786.1,258.2 786.2,257.8 785.3,257.4" fill="#247867" stroke="#123c34"/><polygon points="786.6,260.2 787.3,261.9 787.6,261.1 786.5,259.2" fill="#211a53" stroke="#100d2a"/><polygon points="783.0,259.2 784.4,258.0 784.6,258.0 783.6,259.2" fill="#2a8b77" stroke="#15463c"/><polygon points="784.4,258.4 783.5,260.3 784.2,260.3 784.7,258.3" fill="#a1a209" stroke="#505104"/><polygon points="787.5,262.9 787.3,263.0 788.1,262.9 788.1,262.4" fill="#1c1647" stroke="#0e0b24"/><polygon points="786.6,255.9 787.5,255.5 785.4,257.0 789.3,253.3" fill="#257b69" stroke="#123e34"/><polygon points="782.5,257.1 780.2,257.2 779.9,257.7 781.9,257.3" fill="#257c6a" stroke="#123e35"/><polygon points="778.6,258.2 779.5,258.5 780.4,258.8 779.2,258.7" fill="#227262" stroke="#113931"/><polygon points="783.6,259.2 784.6,258.0 784.8,258.1 784.2,259.4" fill="#2a8c78" stroke="#15463c"/><polygon points="783.1,262.6 783.7,261.4 784.3,261.6 783.9,262.8" fill="#221b56" stroke="#110e2b"/><polygon points="786.8,259.6 785.7,258.2 786.5,258.9 787.9,259.9" fill="#288672" stroke="#144339"/><polygon points="785.0,257.2 781.4,253.7 780.6,253.1 783.8,255.9" fill="#1f6959" stroke="#10342c"/><polygon points="781.2,251.7 785.0,257.2 783.8,255.9 782.7,253.9" fill="#247968" stroke="#123c34"/><polygon points="781.2,262.1 781.5,262.3 782.3,262.4 782.0,262.5" fill="#696a06" stroke="#343503"/><polygon points="787.3,261.9 787.5,262.9 788.1,262.4 787.6,261.1" fill="#211b55" stroke="#100e2a"/><polygon points="788.7,258.2 790.3,259.0 790.0,258.4 787.9,257.7" fill="#267d6b" stroke="#133e36"/><polygon points="782.7,253.9 783.8,255.9 783.1,255.0 783.8,255.5" fill="#237463" stroke="#123a32"/><polygon points="789.2,260.0 787.7,259.4 789.0,259.6 790.3,259.9" fill="#257a68" stroke="#123d34"/><polygon points="782.7,259.6 781.6,261.1 782.2,261.6 783.0,260.0" fill="#9e9f09" stroke="#4f5004"/><polygon points="786.7,263.1 786.4,262.8 787.3,263.0 787.5,262.9" fill="#18143e" stroke="#0c0a1f"/><polygon points="783.9,262.8 784.3,261.6 784.9,261.9 784.8,263.0" fill="#221b56" stroke="#110e2b"/><polygon points="787.3,257.9 789.0,258.7 788.7,258.2 786.4,257.5" fill="#257b69" stroke="#123e34"/><polygon points="783.8,255.5 783.1,255.0 782.7,254.5 784.6,256.6" fill="#216e5e" stroke="#10372f"/><polygon points="784.2,259.4 784.8,258.1 785.0,258.3 784.8,259.6" fill="#2a8c77" stroke="#15463c"/><polygon points="787.9,259.9 786.5,258.9 787.7,259.4 789.2,260.0" fill="#267f6d" stroke="#134036"/><polygon points="790.8,259.7 790.3,259.9 791.2,259.6 791.2,259.1" fill="#227262" stroke="#113931"/><polygon points="785.4,259.6 785.6,261.5 786.3,260.9 785.7,259.0" fill="#231c59" stroke="#120e2c"/><polygon points="784.6,256.6 782.7,254.5 782.7,254.3 785.0,257.3" fill="#206a5b" stroke="#10352e"/><polygon points="784.8,263.0 784.9,261.9 785.6,262.4 785.7,263.1" fill="#999a08" stroke="#4c4d04"/><polygon points="785.7,263.1 785.6,262.4 786.4,262.8 786.7,263.1" fill="#8d8e08" stroke="#464704"/><polygon points="783.9,257.3 781.7,257.6 781.9,257.9 783.6,257.4" fill="#257a68" stroke="#123d34"/><polygon points="781.6,261.1 781.2,262.1 782.0,262.5 782.2,261.6" fill="#231c58" stroke="#120e2c"/><polygon points="778.8,257.7 778.6,258.2 779.2,258.7 779.0,258.3" fill="#267d6b" stroke="#133e36"/><polygon points="789.3,253.3 785.4,257.0 787.2,255.4 792.3,250.0" fill="#1f6859" stroke="#10342c"/><polygon points="790.3,259.0 790.8,259.7 791.2,259.1 790.0,258.4" fill="#288572" stroke="#144239"/><polygon points="779.4,248.8 783.3,255.1 785.0,257.2 781.2,251.7" fill="#206c5c" stroke="#10362e"/><polygon points="786.3,260.9 786.6,262.4 787.3,261.9 786.6,260.2" fill="#a3a409" stroke="#525204"/><polygon points="780.2,257.2 778.8,257.7 779.0,258.3 779.9,257.7" fill="#288471" stroke="#144238"/><polygon points="785.1,257.3 787.3,255.0 786.7,255.7 786.3,255.8" fill="#206a5a" stroke="#10352d"/><polygon points="782.0,262.5 782.3,262.4 783.1,262.6 782.8,262.7" fill="#18143e" stroke="#0c0a1f"/><polygon points="785.2,257.6 785.6,258.4 786.1,258.2 785.2,257.4" fill="#247766" stroke="#123c33"/><polygon points="779.2,258.7 780.4,258.8 781.4,259.0 780.1,259.1" fill="#237665" stroke="#123b32"/><polygon points="786.6,262.4 786.7,263.1 787.5,262.9 787.3,261.9" fill="#a6a70b" stroke="#535406"/><polygon points="784.8,259.6 785.0,258.3 785.3,258.7 785.6,259.9" fill="#298a75" stroke="#14453a"/><polygon points="783.0,260.0 782.2,261.6 783.0,261.8 783.5,260.3" fill="#a7a80b" stroke="#545406"/><polygon points="785.0,257.3 782.7,254.3 783.1,254.3 784.9,257.0" fill="#257c6a" stroke="#123e35"/><polygon points="784.9,260.1 784.8,261.8 785.6,261.5 785.4,259.6" fill="#2a2361" stroke="#151230"/><polygon points="785.0,257.3 784.9,254.8 785.4,255.1 785.1,256.7" fill="#27826f" stroke="#144138"/><polygon points="782.8,262.7 783.1,262.6 783.9,262.8 783.8,262.9" fill="#18133e" stroke="#0c0a1f"/><polygon points="782.2,261.6 782.0,262.5 782.8,262.7 783.0,261.8" fill="#312a69" stroke="#181534"/><polygon points="783.5,260.3 783.0,261.8 783.9,261.9 784.2,260.3" fill="#b4b515" stroke="#5a5a0a"/><polygon points="786.2,257.8 787.4,258.8 787.6,258.3 785.9,257.5" fill="#257b69" stroke="#123e34"/><polygon points="781.9,257.3 779.9,257.7 780.2,258.2 781.7,257.6" fill="#27806e" stroke="#144037"/><polygon points="784.2,260.3 783.9,261.9 784.8,261.8 784.9,260.1" fill="#342d6c" stroke="#1a1636"/><polygon points="785.1,256.7 785.4,255.1 785.7,255.6 785.4,255.9" fill="#257a68" stroke="#123d34"/><polygon points="785.8,262.8 785.7,263.1 786.7,263.1 786.6,262.4" fill="#a1a209" stroke="#505104"/><polygon points="785.6,261.5 785.8,262.8 786.6,262.4 786.3,260.9" fill="#babc1a" stroke="#5d5e0d"/><polygon points="785.4,255.9 785.7,255.6 785.6,256.3 786.2,254.7" fill="#2d9680" stroke="#164b40"/><polygon points="790.0,260.1 789.2,260.0 790.3,259.9 790.8,259.7" fill="#1f6758" stroke="#10342c"/><polygon points="785.6,259.9 785.3,258.7 785.9,259.2 786.6,260.1" fill="#288672" stroke="#144339"/><polygon points="783.6,257.4 781.9,257.9 782.4,258.2 783.7,257.5" fill="#257c6a" stroke="#123e35"/><polygon points="780.1,259.1 781.4,259.0 782.2,259.1 781.0,259.4" fill="#247968" stroke="#123c34"/><polygon points="782.7,252.2 785.0,257.3 784.9,257.0 783.4,252.8" fill="#26806d" stroke="#134036"/><polygon points="784.8,262.9 784.8,263.0 785.7,263.1 785.8,262.8" fill="#838407" stroke="#424204"/><polygon points="786.2,254.7 785.6,256.3 785.1,257.3 787.4,253.0" fill="#247867" stroke="#123c34"/><polygon points="783.4,252.8 784.9,257.0 784.9,256.9 783.9,253.1" fill="#298874" stroke="#14443a"/><polygon points="783.0,261.8 782.8,262.7 783.8,262.9 783.9,261.9" fill="#6d65a6" stroke="#363253"/><polygon points="789.0,258.7 790.0,259.6 790.3,259.0 788.7,258.2" fill="#288471" stroke="#144238"/><polygon points="784.9,257.7 784.8,258.5 785.6,258.4 785.2,257.6" fill="#257b69" stroke="#123e34"/><polygon points="784.8,261.8 784.8,262.9 785.8,262.8 785.6,261.5" fill="#ffff62" stroke="#808031"/><polygon points="783.9,253.1 784.9,256.9 785.0,257.0 784.4,253.0" fill="#2b8e79" stroke="#16473c"/><polygon points="792.3,250.0 787.2,255.4 790.2,252.5 795.5,245.9" fill="#1e6456" stroke="#0f322b"/><polygon points="777.6,245.0 781.4,252.2 783.3,255.1 779.4,248.8" fill="#1f6657" stroke="#10332c"/><polygon points="779.0,258.3 779.2,258.7 780.1,259.1 779.6,258.8" fill="#227261" stroke="#113930"/><polygon points="788.2,253.7 785.5,256.9 786.6,255.9 790.7,250.9" fill="#247867" stroke="#123c34"/><polygon points="783.9,261.9 783.8,262.9 784.8,262.9 784.8,261.8" fill="#ffff91" stroke="#808048"/><polygon points="781.9,251.1 784.6,256.6 785.0,257.3 782.7,252.2" fill="#288471" stroke="#144238"/><polygon points="784.4,253.0 785.0,257.0 785.0,257.3 784.9,252.6" fill="#2b8f7b" stroke="#16483e"/><polygon points="786.6,260.1 785.9,259.2 786.8,259.6 787.7,260.3" fill="#26806d" stroke="#134036"/><polygon points="781.0,259.4 782.2,259.1 783.0,259.2 781.9,259.7" fill="#257c6a" stroke="#123e35"/><polygon points="787.6,258.3 788.8,259.3 789.0,258.7 787.3,257.9" fill="#27816e" stroke="#144037"/><polygon points="790.0,259.6 790.0,260.1 790.8,259.7 790.3,259.0" fill="#2c917c" stroke="#16483e"/><polygon points="788.9,260.3 787.9,259.9 789.2,260.0 790.0,260.1" fill="#227261" stroke="#113930"/><polygon points="795.5,245.9 790.2,252.5 792.9,249.0 798.2,241.2" fill="#216d5d" stroke="#10362e"/><polygon points="779.9,257.7 779.0,258.3 779.6,258.8 780.2,258.2" fill="#2b8e79" stroke="#16473c"/><polygon points="783.7,257.5 782.4,258.2 783.1,258.4 784.1,257.6" fill="#267e6b" stroke="#133f36"/><polygon points="787.7,260.3 786.8,259.6 787.9,259.9 788.9,260.3" fill="#257a68" stroke="#123d34"/><polygon points="784.5,257.7 784.0,258.5 784.8,258.5 784.9,257.7" fill="#267d6b" stroke="#133e36"/><polygon points="781.9,259.7 783.0,259.2 783.6,259.2 782.8,259.9" fill="#267e6c" stroke="#133f36"/><polygon points="784.1,257.6 783.1,258.4 784.0,258.5 784.5,257.7" fill="#267e6c" stroke="#133f36"/><polygon points="775.8,240.5 779.3,248.5 781.4,252.2 777.6,245.0" fill="#1f6859" stroke="#10342c"/><polygon points="781.7,257.6 780.2,258.2 780.7,258.6 781.9,257.9" fill="#288672" stroke="#144339"/><polygon points="784.9,252.6 785.0,257.3 785.1,256.7 785.5,251.9" fill="#2b8f7b" stroke="#16483e"/><polygon points="782.8,259.9 783.6,259.2 784.2,259.4 783.8,260.1" fill="#267f6c" stroke="#134036"/><polygon points="786.1,258.2 786.8,259.1 787.4,258.8 786.2,257.8" fill="#27806e" stroke="#144037"/><polygon points="779.6,258.8 780.1,259.1 781.0,259.4 780.4,259.2" fill="#20695a" stroke="#10342d"/><polygon points="780.8,249.5 783.8,255.5 784.6,256.6 781.9,251.1" fill="#27816e" stroke="#144037"/><polygon points="787.4,253.0 785.1,257.3 786.3,255.8 789.2,250.8" fill="#298975" stroke="#14443a"/><polygon points="789.2,260.0 788.9,260.3 790.0,260.1 790.0,259.6" fill="#288672" stroke="#144339"/><polygon points="788.8,259.3 789.2,260.0 790.0,259.6 789.0,258.7" fill="#2b907b" stroke="#16483e"/><polygon points="783.8,260.1 784.2,259.4 784.8,259.6 784.8,260.2" fill="#267d6b" stroke="#133e36"/><polygon points="780.2,258.2 779.6,258.8 780.4,259.2 780.7,258.6" fill="#2e9983" stroke="#174c42"/><polygon points="787.4,258.8 788.1,259.7 788.8,259.3 787.6,258.3" fill="#298975" stroke="#14443a"/><polygon points="784.8,260.2 784.8,259.6 785.6,259.9 785.8,260.4" fill="#257a68" stroke="#123d34"/><polygon points="781.9,257.9 780.7,258.6 781.5,259.0 782.4,258.2" fill="#2a8b77" stroke="#15463c"/><polygon points="788.2,260.3 787.7,260.3 788.9,260.3 789.2,260.0" fill="#206b5c" stroke="#10362e"/><polygon points="785.8,260.4 785.6,259.9 786.6,260.1 787.0,260.4" fill="#237463" stroke="#123a32"/><polygon points="785.6,258.4 785.8,259.4 786.8,259.1 786.1,258.2" fill="#288673" stroke="#14433a"/><polygon points="787.0,260.4 786.6,260.1 787.7,260.3 788.2,260.3" fill="#206b5b" stroke="#10362e"/><polygon points="779.5,247.3 782.7,253.9 783.8,255.5 780.8,249.5" fill="#267d6b" stroke="#133e36"/><polygon points="790.7,250.9 786.6,255.9 789.3,253.3 793.7,247.3" fill="#247968" stroke="#123c34"/><polygon points="788.1,259.7 788.2,260.3 789.2,260.0 788.8,259.3" fill="#30a089" stroke="#185044"/><polygon points="781.4,259.6 781.9,259.7 782.8,259.9 782.4,259.8" fill="#1e6557" stroke="#0f322c"/><polygon points="780.7,258.6 780.4,259.2 781.4,259.6 781.5,259.0" fill="#31a28a" stroke="#185145"/><polygon points="785.5,251.9 785.1,256.7 785.4,255.9 786.5,250.7" fill="#2c917c" stroke="#16483e"/><polygon points="782.4,258.2 781.5,259.0 782.5,259.2 783.1,258.4" fill="#2b8f7a" stroke="#16483d"/><polygon points="784.8,258.5 784.7,259.5 785.8,259.4 785.6,258.4" fill="#2a8c77" stroke="#15463c"/><polygon points="786.8,259.1 787.1,260.0 788.1,259.7 787.4,258.8" fill="#2c947e" stroke="#164a3f"/><polygon points="783.1,258.4 782.5,259.2 783.6,259.4 784.0,258.5" fill="#2c917c" stroke="#16483e"/><polygon points="784.0,258.5 783.6,259.4 784.7,259.5 784.8,258.5" fill="#2b907b" stroke="#16483e"/><polygon points="787.1,260.0 787.0,260.4 788.2,260.3 788.1,259.7" fill="#30a089" stroke="#185044"/><polygon points="781.5,259.0 781.4,259.6 782.4,259.8 782.5,259.2" fill="#32a88f" stroke="#195448"/><polygon points="783.6,260.0 783.8,260.1 784.8,260.2 784.7,260.1" fill="#1f6859" stroke="#10342c"/><polygon points="778.0,244.5 781.2,251.7 782.7,253.9 779.5,247.3" fill="#247967" stroke="#123c34"/><polygon points="785.9,260.1 785.8,260.4 787.0,260.4 787.1,260.0" fill="#288672" stroke="#144339"/><polygon points="784.7,260.1 784.8,260.2 785.8,260.4 785.9,260.1" fill="#227362" stroke="#113a31"/><polygon points="785.8,259.4 785.9,260.1 787.1,260.0 786.8,259.1" fill="#30a088" stroke="#185044"/><polygon points="782.5,259.2 782.4,259.8 783.6,260.0 783.6,259.4" fill="#34ac93" stroke="#1a564a"/><polygon points="784.7,259.5 784.7,260.1 785.9,260.1 785.8,259.4" fill="#33aa91" stroke="#1a5548"/><polygon points="783.6,259.4 783.6,260.0 784.7,260.1 784.7,259.5" fill="#34ae95" stroke="#1a574a"/><polygon points="789.2,250.8 786.3,255.8 788.2,253.7 791.5,248.0" fill="#298975" stroke="#14443a"/><polygon points="793.7,247.3 789.3,253.3 792.3,250.0 796.9,243.0" fill="#237463" stroke="#123a32"/><polygon points="776.4,241.0 779.4,248.8 781.2,251.7 778.0,244.5" fill="#237463" stroke="#123a32"/><polygon points="786.5,250.7 785.4,255.9 786.2,254.7 787.7,249.1" fill="#2c927d" stroke="#16493e"/><polygon points="800.0,237.9 795.5,245.9 798.2,241.2 802.4,232.3" fill="#1f6657" stroke="#10332c"/><polygon points="796.9,243.0 792.3,250.0 795.5,245.9 800.0,237.9" fill="#206c5c" stroke="#10362e"/><polygon points="774.8,236.7 777.6,245.0 779.4,248.8 776.4,241.0" fill="#216e5e" stroke="#10372f"/><polygon points="773.5,231.7 775.8,240.5 777.6,245.0 774.8,236.7" fill="#1f6758" stroke="#10342c"/><polygon points="791.5,248.0 788.2,253.7 790.7,250.9 794.2,244.4" fill="#288673" stroke="#14433a"/><polygon points="787.7,249.1 786.2,254.7 787.4,253.0 789.4,246.9" fill="#2c937e" stroke="#164a3f"/><polygon points="781.9,245.8 783.4,252.8 783.9,253.1 782.8,246.3" fill="#2c927d" stroke="#16493e"/><polygon points="780.9,245.0 782.7,252.2 783.4,252.8 781.9,245.8" fill="#2b8f7a" stroke="#16483d"/><polygon points="782.8,246.3 783.9,253.1 784.4,253.0 783.8,246.2" fill="#2d947f" stroke="#164a40"/><polygon points="779.8,243.6 781.9,251.1 782.7,252.2 780.9,245.0" fill="#2a8c78" stroke="#15463c"/><polygon points="778.6,241.7 780.8,249.5 781.9,251.1 779.8,243.6" fill="#298975" stroke="#14443a"/><polygon points="783.8,246.2 784.4,253.0 784.9,252.6 784.8,245.8" fill="#2d9680" stroke="#164b40"/><polygon points="794.2,244.4 790.7,250.9 793.7,247.3 797.3,240.0" fill="#27826f" stroke="#144138"/><polygon points="777.3,239.2 779.5,247.3 780.8,249.5 778.6,241.7" fill="#288572" stroke="#144239"/><polygon points="789.4,246.9 787.4,253.0 789.2,250.8 791.4,244.2" fill="#2c937d" stroke="#164a3e"/><polygon points="784.8,245.8 784.9,252.6 785.5,251.9 785.9,244.9" fill="#2e9882" stroke="#174c41"/><polygon points="775.9,236.1 778.0,244.5 779.5,247.3 777.3,239.2" fill="#27816e" stroke="#144037"/><polygon points="772.8,212.4 772.5,220.2 772.7,226.2 772.5,217.9" fill="#1f6657" stroke="#10332c"/><polygon points="803.0,229.2 800.0,237.9 802.4,232.3 804.9,223.2" fill="#206b5b" stroke="#10362e"/><polygon points="797.3,240.0 793.7,247.3 796.9,243.0 800.3,234.9" fill="#257c6a" stroke="#123e35"/><polygon points="774.7,232.4 776.4,241.0 778.0,244.5 775.9,236.1" fill="#257c6a" stroke="#123e35"/><polygon points="772.5,217.9 772.7,226.2 773.5,231.7 772.8,223.2" fill="#206a5a" stroke="#10352d"/><polygon points="800.3,234.9 796.9,243.0 800.0,237.9 803.0,229.2" fill="#237564" stroke="#123a32"/><polygon points="773.5,228.0 774.8,236.7 776.4,241.0 774.7,232.4" fill="#247765" stroke="#123c32"/><polygon points="772.8,223.2 773.5,231.7 774.8,236.7 773.5,228.0" fill="#227060" stroke="#113830"/><polygon points="785.9,244.9 785.5,251.9 786.5,250.7 787.2,243.5" fill="#2e9a83" stroke="#174d42"/><polygon points="791.4,244.2 789.2,250.8 791.5,248.0 793.9,240.7" fill="#2c927c" stroke="#16493e"/><polygon points="787.2,243.5 786.5,250.7 787.7,249.1 788.8,241.6" fill="#2e9b84" stroke="#174e42"/><polygon points="793.9,240.7 791.5,248.0 794.2,244.4 796.6,236.6" fill="#2b8f7a" stroke="#16483d"/><polygon points="805.4,214.7 804.9,223.2 805.8,217.2 805.8,208.8" fill="#206a5b" stroke="#10352e"/><polygon points="777.6,198.1 775.9,201.7 773.9,206.9 775.8,202.2" fill="#1e6456" stroke="#0f322b"/><polygon points="788.8,241.6 787.7,249.1 789.4,246.9 790.6,239.2" fill="#2f9b85" stroke="#184e42"/><polygon points="775.8,202.2 773.9,206.9 772.8,212.4 774.5,206.7" fill="#206a5b" stroke="#10352e"/><polygon points="796.6,236.6 794.2,244.4 797.3,240.0 799.3,231.9" fill="#2a8b77" stroke="#15463c"/><polygon points="804.1,220.7 803.0,229.2 804.9,223.2 805.4,214.7" fill="#237564" stroke="#123a32"/><polygon points="780.0,236.0 780.9,245.0 781.9,245.8 781.1,237.0" fill="#2d9781" stroke="#164c40"/><polygon points="778.9,234.6 779.8,243.6 780.9,245.0 780.0,236.0" fill="#2d947f" stroke="#164a40"/><polygon points="777.7,232.6 778.6,241.7 779.8,243.6 778.9,234.6" fill="#2c917c" stroke="#16483e"/><polygon points="774.5,206.7 772.8,212.4 772.5,217.9 773.9,211.2" fill="#227060" stroke="#113830"/><polygon points="781.1,237.0 781.9,245.8 782.8,246.3 782.3,237.5" fill="#2e9a83" stroke="#174d42"/><polygon points="776.6,230.2 777.3,239.2 778.6,241.7 777.7,232.6" fill="#2b8e79" stroke="#16473c"/><polygon points="773.9,211.2 772.5,217.9 772.8,223.2 773.8,215.6" fill="#247665" stroke="#123b32"/><polygon points="799.3,231.9 797.3,240.0 800.3,234.9 801.9,226.5" fill="#288672" stroke="#144339"/><polygon points="782.3,237.5 782.8,246.3 783.8,246.2 783.5,237.5" fill="#2f9c85" stroke="#184e42"/><polygon points="775.6,227.2 775.9,236.1 777.3,239.2 776.6,230.2" fill="#298a76" stroke="#14453b"/><polygon points="801.9,226.5 800.3,234.9 803.0,229.2 804.1,220.7" fill="#267f6c" stroke="#134036"/><polygon points="773.8,215.6 772.8,223.2 773.5,228.0 774.1,219.9" fill="#257c6a" stroke="#123e35"/><polygon points="774.7,223.8 774.7,232.4 775.9,236.1 775.6,227.2" fill="#288672" stroke="#144339"/><polygon points="774.1,219.9 773.5,228.0 774.7,232.4 774.7,223.8" fill="#27816e" stroke="#144037"/><polygon points="790.6,239.2 789.4,246.9 791.4,244.2 792.7,236.2" fill="#2f9b85" stroke="#184e42"/><polygon points="783.5,237.5 783.8,246.2 784.8,245.8 784.7,237.0" fill="#2f9e87" stroke="#184f44"/><polygon points="803.8,202.5 805.8,208.8 805.0,203.5 802.8,197.8" fill="#216d5d" stroke="#10362e"/><polygon points="795.0,190.0 797.8,191.1 794.2,189.6 792.2,188.8" fill="#1e6455" stroke="#0f322a"/><polygon points="784.7,237.0 784.8,245.8 785.9,244.9 786.0,236.1" fill="#30a088" stroke="#185044"/><polygon points="792.7,236.2 791.4,244.2 793.9,240.7 795.0,232.6" fill="#2e9a84" stroke="#174d42"/><polygon points="786.0,236.1 785.9,244.9 787.2,243.5 787.5,234.7" fill="#30a189" stroke="#185044"/><polygon points="797.3,192.1 800.7,193.9 797.8,191.1 795.0,190.0" fill="#216f5f" stroke="#103830"/><polygon points="803.9,207.7 805.4,214.7 805.8,208.8 803.8,202.5" fill="#247967" stroke="#123c34"/><polygon points="795.0,232.6 793.9,240.7 796.6,236.6 797.3,228.4" fill="#2e9882" stroke="#174c41"/><polygon points="787.5,234.7 787.2,243.5 788.8,241.6 789.1,232.8" fill="#31a28a" stroke="#185145"/><polygon points="803.1,213.1 804.1,220.7 805.4,214.7 803.9,207.7" fill="#278370" stroke="#144238"/><polygon points="781.6,195.3 779.9,194.5 777.6,198.1 779.9,197.7" fill="#257b69" stroke="#123e34"/><polygon points="779.9,197.7 777.6,198.1 775.8,202.2 778.5,200.5" fill="#257d6a" stroke="#123e35"/><polygon points="799.1,195.1 802.8,197.8 800.7,193.9 797.3,192.1" fill="#257a68" stroke="#123d34"/><polygon points="783.5,193.5 782.7,191.6 779.9,194.5 781.6,195.3" fill="#257b69" stroke="#123e34"/><polygon points="778.5,200.5 775.8,202.2 774.5,206.7 777.5,203.6" fill="#267f6d" stroke="#134036"/><polygon points="797.3,228.4 796.6,236.6 799.3,231.9 799.6,223.7" fill="#2d957f" stroke="#164a40"/><polygon points="785.6,192.2 785.8,189.7 782.7,191.6 783.5,193.5" fill="#257c6a" stroke="#123e35"/><polygon points="777.5,203.6 774.5,206.7 773.9,211.2 776.8,206.8" fill="#27826f" stroke="#144138"/><polygon points="776.8,206.8 773.9,211.2 773.8,215.6 776.4,210.0" fill="#288672" stroke="#144339"/><polygon points="801.6,218.5 801.9,226.5 804.1,220.7 803.1,213.1" fill="#2a8b76" stroke="#15463b"/><polygon points="799.6,223.7 799.3,231.9 801.9,226.5 801.6,218.5" fill="#2b917b" stroke="#16483e"/><polygon points="776.4,210.0 773.8,215.6 774.1,219.9 776.4,213.1" fill="#298975" stroke="#14443a"/><polygon points="789.1,232.8 788.8,241.6 790.6,239.2 790.8,230.4" fill="#31a38b" stroke="#185246"/><polygon points="776.4,213.1 774.1,219.9 774.7,223.8 776.7,216.0" fill="#2a8d78" stroke="#15463c"/><polygon points="787.7,191.5 789.0,188.7 785.8,189.7 785.6,192.2" fill="#267f6d" stroke="#134036"/><polygon points="776.7,216.0 774.7,223.8 775.6,227.2 777.1,218.7" fill="#2b907b" stroke="#16483e"/><polygon points="777.1,218.7 775.6,227.2 776.6,230.2 777.8,221.1" fill="#2c937e" stroke="#164a3f"/><polygon points="777.8,221.1 776.6,230.2 777.7,232.6 778.5,223.1" fill="#2d9681" stroke="#164b40"/><polygon points="778.5,223.1 777.7,232.6 778.9,234.6 779.4,224.7" fill="#2e9983" stroke="#174c42"/><polygon points="779.4,224.7 778.9,234.6 780.0,236.0 780.4,226.0" fill="#2f9c85" stroke="#184e42"/><polygon points="780.4,226.0 780.0,236.0 781.1,237.0 781.4,226.8" fill="#2f9e87" stroke="#184f44"/><polygon points="781.4,226.8 781.1,237.0 782.3,237.5 782.4,227.3" fill="#30a089" stroke="#185044"/><polygon points="789.7,191.6 792.2,188.8 789.0,188.7 787.7,191.5" fill="#288571" stroke="#144238"/><polygon points="800.1,198.8 803.8,202.5 802.8,197.8 799.1,195.1" fill="#288471" stroke="#144238"/><polygon points="782.4,227.3 782.3,237.5 783.5,237.5 783.6,227.3" fill="#31a28b" stroke="#185146"/><polygon points="790.8,230.4 790.6,239.2 792.7,236.2 792.6,227.6" fill="#31a38b" stroke="#185246"/><polygon points="783.6,227.3 783.5,237.5 784.7,237.0 784.7,226.9" fill="#31a48c" stroke="#185246"/><polygon points="791.6,192.4 795.0,190.0 792.2,188.8 789.7,191.6" fill="#2a8b77" stroke="#15463c"/><polygon points="800.4,203.0 803.9,207.7 803.8,202.5 800.1,198.8" fill="#2a8c78" stroke="#15463c"/><polygon points="784.7,226.9 784.7,237.0 786.0,236.1 786.0,226.1" fill="#32a58d" stroke="#195246"/><polygon points="792.6,227.6 792.7,236.2 795.0,232.6 794.5,224.2" fill="#31a28b" stroke="#185146"/><polygon points="793.2,193.8 797.3,192.1 795.0,190.0 791.6,192.4" fill="#2c917c" stroke="#16483e"/><polygon points="786.0,226.1 786.0,236.1 787.5,234.7 787.2,224.9" fill="#32a78e" stroke="#195447"/><polygon points="800.1,207.4 803.1,213.1 803.9,207.7 800.4,203.0" fill="#2c937d" stroke="#164a3e"/><polygon points="794.5,224.2 795.0,232.6 797.3,228.4 796.3,220.4" fill="#30a189" stroke="#185044"/><polygon points="794.4,195.8 799.1,195.1 797.3,192.1 793.2,193.8" fill="#2d9781" stroke="#164c40"/><polygon points="787.2,224.9 787.5,234.7 789.1,232.8 788.5,223.4" fill="#32a88f" stroke="#195448"/><polygon points="796.3,220.4 797.3,228.4 799.6,223.7 797.9,216.3" fill="#309f88" stroke="#185044"/><polygon points="781.7,202.0 778.5,200.5 777.5,203.6 781.1,203.5" fill="#2d957f" stroke="#164a40"/><polygon points="799.2,211.9 801.6,218.5 803.1,213.1 800.1,207.4" fill="#2e9882" stroke="#174c41"/><polygon points="782.5,200.6 779.9,197.7 778.5,200.5 781.7,202.0" fill="#2d957f" stroke="#164a40"/><polygon points="781.1,203.5 777.5,203.6 776.8,206.8 780.7,205.1" fill="#2d9580" stroke="#164a40"/><polygon points="780.7,205.1 776.8,206.8 776.4,210.0 780.4,206.7" fill="#2d9781" stroke="#164c40"/><polygon points="783.3,199.4 781.6,195.3 779.9,197.7 782.5,200.6" fill="#2d9680" stroke="#164b40"/><polygon points="780.4,206.7 776.4,210.0 776.4,213.1 780.2,208.4" fill="#2e9882" stroke="#174c41"/><polygon points="797.9,216.3 799.6,223.7 801.6,218.5 799.2,211.9" fill="#2f9c85" stroke="#184e42"/><polygon points="780.2,208.4 776.4,213.1 776.7,216.0 780.3,210.0" fill="#2e9a83" stroke="#174d42"/><polygon points="784.3,198.6 783.5,193.5 781.6,195.3 783.3,199.4" fill="#2d9781" stroke="#164c40"/><polygon points="780.3,210.0 776.7,216.0 777.1,218.7 780.4,211.5" fill="#2f9c85" stroke="#184e42"/><polygon points="780.4,211.5 777.1,218.7 777.8,221.1 780.7,212.8" fill="#2f9e87" stroke="#184f44"/><polygon points="780.7,212.8 777.8,221.1 778.5,223.1 781.0,214.0" fill="#309f88" stroke="#185044"/><polygon points="785.3,197.9 785.6,192.2 783.5,193.5 784.3,198.6" fill="#2e9a83" stroke="#174d42"/><polygon points="781.0,214.0 778.5,223.1 779.4,224.7 781.5,215.0" fill="#30a18a" stroke="#185045"/><polygon points="781.5,215.0 779.4,224.7 780.4,226.0 782.1,215.7" fill="#31a38b" stroke="#185246"/><polygon points="788.5,223.4 789.1,232.8 790.8,230.4 789.9,221.4" fill="#33a990" stroke="#1a5448"/><polygon points="786.3,197.7 787.7,191.5 785.6,192.2 785.3,197.9" fill="#2f9d86" stroke="#184e43"/><polygon points="795.3,198.3 800.1,198.8 799.1,195.1 794.4,195.8" fill="#2f9c85" stroke="#184e42"/><polygon points="782.1,215.7 780.4,226.0 781.4,226.8 782.7,216.3" fill="#31a48c" stroke="#185246"/><polygon points="782.7,216.3 781.4,226.8 782.4,227.3 783.4,216.5" fill="#32a68e" stroke="#195347"/><polygon points="787.2,197.7 789.7,191.6 787.7,191.5 786.3,197.7" fill="#30a089" stroke="#185044"/><polygon points="783.4,216.5 782.4,227.3 783.6,227.3 784.1,216.6" fill="#32a78f" stroke="#195448"/><polygon points="789.9,221.4 790.8,230.4 792.6,227.6 791.2,219.1" fill="#33a990" stroke="#1a5448"/><polygon points="795.7,201.1 800.4,203.0 800.1,198.8 795.3,198.3" fill="#309f88" stroke="#185044"/><polygon points="788.1,198.0 791.6,192.4 789.7,191.6 787.2,197.7" fill="#31a38b" stroke="#185246"/><polygon points="784.1,216.6 783.6,227.3 784.7,226.9 784.8,216.3" fill="#33a890" stroke="#1a5448"/><polygon points="791.2,219.1 792.6,227.6 794.5,224.2 792.5,216.5" fill="#33a990" stroke="#1a5448"/><polygon points="784.8,216.3 784.7,226.9 786.0,226.1 785.6,215.9" fill="#33aa91" stroke="#1a5548"/><polygon points="788.9,198.7 793.2,193.8 791.6,192.4 788.1,198.0" fill="#32a68e" stroke="#195347"/><polygon points="795.7,204.2 800.1,207.4 800.4,203.0 795.7,201.1" fill="#31a28b" stroke="#185146"/><polygon points="785.6,215.9 786.0,226.1 787.2,224.9 786.4,215.1" fill="#33ab92" stroke="#1a5649"/><polygon points="792.5,216.5 794.5,224.2 796.3,220.4 793.6,213.6" fill="#33a990" stroke="#1a5448"/><polygon points="789.5,199.7 794.4,195.8 793.2,193.8 788.9,198.7" fill="#33a890" stroke="#1a5448"/><polygon points="795.3,207.4 799.2,211.9 800.1,207.4 795.7,204.2" fill="#31a58d" stroke="#185246"/><polygon points="793.6,213.6 796.3,220.4 797.9,216.3 794.6,210.5" fill="#32a88f" stroke="#195448"/><polygon points="785.0,206.3 781.1,203.5 780.7,205.1 785.0,206.3" fill="#32a58d" stroke="#195246"/><polygon points="785.0,206.3 780.7,205.1 780.4,206.7 785.0,206.3" fill="#32a58d" stroke="#195246"/><polygon points="785.0,206.3 781.7,202.0 781.1,203.5 785.0,206.3" fill="#32a68e" stroke="#195347"/><polygon points="785.0,206.3 780.4,206.7 780.2,208.4 785.0,206.3" fill="#32a68d" stroke="#195346"/><polygon points="785.0,206.3 780.2,208.4 780.3,210.0 785.0,206.3" fill="#32a68e" stroke="#195347"/><polygon points="785.0,206.3 782.5,200.6 781.7,202.0 785.0,206.3" fill="#32a68e" stroke="#195347"/><polygon points="794.6,210.5 797.9,216.3 799.2,211.9 795.3,207.4" fill="#32a68e" stroke="#195347"/><polygon points="785.0,206.3 780.3,210.0 780.4,211.5 785.0,206.3" fill="#32a78e" stroke="#195447"/><polygon points="786.4,215.1 787.2,224.9 788.5,223.4 787.1,214.2" fill="#34ac93" stroke="#1a564a"/><polygon points="785.0,206.3 783.3,199.4 782.5,200.6 785.0,206.3" fill="#32a78f" stroke="#195448"/><polygon points="785.0,206.3 780.4,211.5 780.7,212.8 785.0,206.3" fill="#32a78f" stroke="#195448"/><polygon points="785.0,206.3 784.3,198.6 783.3,199.4 785.0,206.3" fill="#32a88f" stroke="#195448"/><polygon points="785.0,206.3 780.7,212.8 781.0,214.0 785.0,206.3" fill="#33a890" stroke="#1a5448"/><polygon points="785.0,206.3 781.0,214.0 781.5,215.0 785.0,206.3" fill="#33a990" stroke="#1a5448"/><polygon points="785.0,206.3 785.3,197.9 784.3,198.6 785.0,206.3" fill="#33a890" stroke="#1a5448"/><polygon points="790.0,200.9 795.3,198.3 794.4,195.8 789.5,199.7" fill="#33aa91" stroke="#1a5548"/><polygon points="785.0,206.3 781.5,215.0 782.1,215.7 785.0,206.3" fill="#33a991" stroke="#1a5448"/><polygon points="785.0,206.3 786.3,197.7 785.3,197.9 785.0,206.3" fill="#33a990" stroke="#1a5448"/><polygon points="785.0,206.3 782.1,215.7 782.7,216.3 785.0,206.3" fill="#33aa91" stroke="#1a5548"/><polygon points="787.1,214.2 788.5,223.4 789.9,221.4 787.9,213.1" fill="#34ad93" stroke="#1a564a"/><polygon points="785.0,206.3 782.7,216.3 783.4,216.5 785.0,206.3" fill="#33aa91" stroke="#1a5548"/><polygon points="785.0,206.3 787.2,197.7 786.3,197.7 785.0,206.3" fill="#33aa91" stroke="#1a5548"/><polygon points="785.0,206.3 783.4,216.5 784.1,216.6 785.0,206.3" fill="#33aa91" stroke="#1a5548"/><polygon points="785.0,206.3 788.1,198.0 787.2,197.7 785.0,206.3" fill="#33aa91" stroke="#1a5548"/><polygon points="785.0,206.3 784.1,216.6 784.8,216.3 785.0,206.3" fill="#33aa91" stroke="#1a5548"/><polygon points="790.3,202.2 795.7,201.1 795.3,198.3 790.0,200.9" fill="#33ab92" stroke="#1a5649"/><polygon points="785.0,206.3 788.9,198.7 788.1,198.0 785.0,206.3" fill="#33ab92" stroke="#1a5649"/><polygon points="785.0,206.3 784.8,216.3 785.6,215.9 785.0,206.3" fill="#33ab92" stroke="#1a5649"/><polygon points="787.9,213.1 789.9,221.4 791.2,219.1 788.6,211.8" fill="#34ad94" stroke="#1a564a"/><polygon points="787.3,249.8 787.1,251.4 785.4,251.5 785.5,249.8" fill="#e6e742" stroke="#737421"/><polygon points="785.0,206.3 789.5,199.7 788.9,198.7 785.0,206.3" fill="#33ab92" stroke="#1a5649"/><polygon points="785.0,206.3 785.6,215.9 786.4,215.1 785.0,206.3" fill="#33ab92" stroke="#1a5649"/><polygon points="785.5,249.3 785.5,249.8 783.7,250.0 783.7,249.1" fill="#999a08" stroke="#4c4d04"/><polygon points="785.5,249.8 785.4,251.5 783.9,251.8 783.7,250.0" fill="#3b3373" stroke="#1e1a3a"/><polygon points="790.4,203.8 795.7,204.2 795.7,201.1 790.3,202.2" fill="#34ac93" stroke="#1a564a"/><polygon points="785.0,206.3 786.4,215.1 787.1,214.2 785.0,206.3" fill="#34ac93" stroke="#1a564a"/><polygon points="785.0,206.3 790.0,200.9 789.5,199.7 785.0,206.3" fill="#34ac93" stroke="#1a564a"/><polygon points="787.1,249.6 787.3,249.8 785.5,249.8 785.5,249.3" fill="#7f8007" stroke="#404004"/><polygon points="789.1,250.1 788.7,251.6 787.1,251.4 787.3,249.8" fill="#514a8a" stroke="#282545"/><polygon points="788.6,211.8 791.2,219.1 792.5,216.5 789.2,210.3" fill="#34ae94" stroke="#1a574a"/><polygon points="785.0,206.3 787.1,214.2 787.9,213.1 785.0,206.3" fill="#34ac93" stroke="#1a564a"/><polygon points="785.0,206.3 790.3,202.2 790.0,200.9 785.0,206.3" fill="#34ac93" stroke="#1a564a"/><polygon points="783.7,249.1 783.7,250.0 782.1,250.4 781.9,249.2" fill="#bebf1d" stroke="#5f600e"/><polygon points="785.0,206.3 787.9,213.1 788.6,211.8 785.0,206.3" fill="#34ad93" stroke="#1a564a"/><polygon points="785.0,206.3 790.4,203.8 790.3,202.2 785.0,206.3" fill="#34ad94" stroke="#1a564a"/><polygon points="790.3,205.4 795.3,207.4 795.7,204.2 790.4,203.8" fill="#34ad94" stroke="#1a564a"/><polygon points="789.2,210.3 792.5,216.5 793.6,213.6 789.7,208.7" fill="#34ae95" stroke="#1a574a"/><polygon points="785.0,206.3 788.6,211.8 789.2,210.3 785.0,206.3" fill="#34ad94" stroke="#1a564a"/><polygon points="785.0,206.3 790.3,205.4 790.4,203.8 785.0,206.3" fill="#34ad94" stroke="#1a564a"/><polygon points="788.7,249.9 789.1,250.1 787.3,249.8 787.1,249.6" fill="#18133d" stroke="#0c0a1e"/><polygon points="785.0,206.3 789.2,210.3 789.7,208.7 785.0,206.3" fill="#34ad94" stroke="#1a564a"/><polygon points="785.0,206.3 790.1,207.1 790.3,205.4 785.0,206.3" fill="#34ae94" stroke="#1a574a"/><polygon points="790.1,207.1 794.6,210.5 795.3,207.4 790.3,205.4" fill="#34ae94" stroke="#1a574a"/><polygon points="785.0,206.3 789.7,208.7 790.1,207.1 785.0,206.3" fill="#34ae94" stroke="#1a574a"/><polygon points="789.7,208.7 793.6,213.6 794.6,210.5 790.1,207.1" fill="#34ae95" stroke="#1a574a"/><polygon points="783.7,250.0 783.9,251.8 782.7,252.5 782.1,250.4" fill="#251e5b" stroke="#120f2e"/><polygon points="790.7,250.6 790.1,252.0 788.7,251.6 789.1,250.1" fill="#2e2765" stroke="#171432"/><polygon points="781.9,249.2 782.1,250.4 780.8,251.2 780.3,249.6" fill="#2a2361" stroke="#151230"/><polygon points="787.1,251.4 786.5,253.5 785.3,253.7 785.4,251.5" fill="#221b57" stroke="#110e2c"/><polygon points="790.3,250.3 790.7,250.6 789.1,250.1 788.7,249.9" fill="#18133c" stroke="#0c0a1e"/><polygon points="788.7,251.6 787.7,253.6 786.5,253.5 787.1,251.4" fill="#221b57" stroke="#110e2c"/><polygon points="784.0,250.1 783.7,249.1 781.9,249.2 782.4,249.5" fill="#7e7f07" stroke="#3f4004"/><polygon points="785.4,250.7 785.5,249.3 783.7,249.1 784.0,250.1" fill="#8b8c08" stroke="#464604"/><polygon points="785.4,251.5 785.3,253.7 784.3,254.1 783.9,251.8" fill="#221b56" stroke="#110e2b"/><polygon points="782.1,250.4 782.7,252.5 782.0,253.4 780.8,251.2" fill="#221b55" stroke="#110e2a"/><polygon points="790.1,252.0 788.7,254.0 787.7,253.6 788.7,251.6" fill="#211b55" stroke="#100e2a"/><polygon points="792.1,251.2 791.2,252.7 790.1,252.0 790.7,250.6" fill="#231c58" stroke="#120e2c"/><polygon points="786.5,251.2 787.1,249.6 785.5,249.3 785.4,250.7" fill="#919208" stroke="#484904"/><polygon points="791.7,250.6 792.1,251.2 790.7,250.6 790.3,250.3" fill="#191440" stroke="#0c0a20"/><polygon points="780.3,249.6 780.8,251.2 780.1,252.3 779.1,250.4" fill="#9d9f09" stroke="#4e5004"/><polygon points="780.6,249.3 780.3,249.6 779.1,250.4 779.0,249.4" fill="#1e184d" stroke="#0f0c26"/><polygon points="787.6,251.6 788.7,249.9 787.1,249.6 786.5,251.2" fill="#929308" stroke="#494a04"/><polygon points="783.9,251.8 784.3,254.1 783.7,254.8 782.7,252.5" fill="#211a53" stroke="#100d2a"/><polygon points="791.2,252.7 789.3,254.6 788.7,254.0 790.1,252.0" fill="#989908" stroke="#4c4c04"/><polygon points="788.7,251.7 790.3,250.3 788.7,249.9 787.6,251.6" fill="#909108" stroke="#484804"/><polygon points="793.1,252.0 791.8,253.5 791.2,252.7 792.1,251.2" fill="#201a53" stroke="#100d2a"/><polygon points="780.8,251.2 782.0,253.4 781.9,254.5 780.1,252.3" fill="#201951" stroke="#100c28"/><polygon points="793.1,251.1 793.1,252.0 792.1,251.2 791.7,250.6" fill="#858507" stroke="#424204"/><polygon points="783.3,251.8 782.4,249.5 780.6,249.3 781.8,250.7" fill="#1f184e" stroke="#100c27"/><polygon points="779.0,249.4 779.1,250.4 778.4,251.4 777.8,250.0" fill="#201a52" stroke="#100d29"/><polygon points="790.0,251.7 791.7,250.6 790.3,250.3 788.7,251.7" fill="#8b8c08" stroke="#464604"/><polygon points="781.8,250.7 780.6,249.3 779.0,249.4 780.0,250.0" fill="#1c1648" stroke="#0e0b24"/><polygon points="787.7,253.6 786.4,255.7 785.8,255.7 786.5,253.5" fill="#201951" stroke="#100c28"/><polygon points="782.7,252.5 783.7,254.8 783.5,255.6 782.0,253.4" fill="#201950" stroke="#100c28"/><polygon points="779.1,250.4 780.1,252.3 780.1,253.5 778.4,251.4" fill="#1f1950" stroke="#100c28"/><polygon points="786.5,253.5 785.8,255.7 785.2,255.9 785.3,253.7" fill="#959608" stroke="#4a4b04"/><polygon points="784.5,253.1 784.0,250.1 782.4,249.5 783.3,251.8" fill="#989908" stroke="#4c4c04"/><polygon points="791.8,253.5 789.5,255.2 789.3,254.6 791.2,252.7" fill="#1f194f" stroke="#100c28"/><polygon points="788.7,254.0 786.8,255.9 786.4,255.7 787.7,253.6" fill="#1f1950" stroke="#100c28"/><polygon points="785.3,253.7 785.2,255.9 784.8,256.3 784.3,254.1" fill="#939408" stroke="#4a4a04"/><polygon points="780.0,250.0 779.0,249.4 777.8,250.0 778.4,249.7" fill="#717106" stroke="#383803"/><polygon points="785.2,254.3 785.4,250.7 784.0,250.1 784.5,253.1" fill="#9e9f09" stroke="#4f5004"/><polygon points="791.5,251.6 793.1,251.1 791.7,250.6 790.0,251.7" fill="#1c1748" stroke="#0e0c24"/><polygon points="793.7,252.9 791.9,254.4 791.8,253.5 793.1,252.0" fill="#8f9008" stroke="#484804"/><polygon points="789.3,254.6 787.0,256.3 786.8,255.9 788.7,254.0" fill="#909108" stroke="#484804"/><polygon points="794.1,251.8 793.7,252.9 793.1,252.0 793.1,251.1" fill="#1e184b" stroke="#0f0c26"/><polygon points="780.1,252.3 781.9,254.5 782.4,255.6 780.1,253.5" fill="#1e184d" stroke="#0f0c26"/><polygon points="785.5,255.2 786.5,251.2 785.4,250.7 785.2,254.3" fill="#221b57" stroke="#110e2c"/><polygon points="777.8,250.0 778.4,251.4 778.4,252.7 777.1,251.0" fill="#8d8e08" stroke="#464704"/><polygon points="782.0,253.4 783.5,255.6 784.0,256.5 781.9,254.5" fill="#1e184d" stroke="#0f0c26"/><polygon points="784.3,254.1 784.8,256.3 784.7,256.8 783.7,254.8" fill="#1f184e" stroke="#100c27"/><polygon points="778.4,251.4 780.1,253.5 780.7,254.7 778.4,252.7" fill="#8a8b08" stroke="#454604"/><polygon points="791.9,254.4 789.1,255.9 789.5,255.2 791.8,253.5" fill="#1e184b" stroke="#0f0c26"/><polygon points="785.7,255.5 787.6,251.6 786.5,251.2 785.5,255.2" fill="#221b57" stroke="#110e2c"/><polygon points="778.4,249.7 777.8,250.0 777.1,251.0 777.1,250.0" fill="#1a1542" stroke="#0d0a21"/><polygon points="792.9,251.8 794.1,251.8 793.1,251.1 791.5,251.6" fill="#1a1543" stroke="#0d0a22"/><polygon points="783.7,254.3 781.8,250.7 780.0,250.0 782.1,252.4" fill="#1f194f" stroke="#100c28"/><polygon points="789.5,255.2 786.7,256.7 787.0,256.3 789.3,254.6" fill="#1e184b" stroke="#0f0c26"/><polygon points="782.1,252.4 780.0,250.0 778.4,249.7 780.2,251.1" fill="#1d174a" stroke="#0e0c25"/><polygon points="786.2,255.3 788.7,251.7 787.6,251.6 785.7,255.5" fill="#211b55" stroke="#100e2a"/><polygon points="787.0,254.7 790.0,251.7 788.7,251.7 786.2,255.3" fill="#979808" stroke="#4c4c04"/><polygon points="784.8,256.5 783.3,251.8 781.8,250.7 783.7,254.3" fill="#9a9b08" stroke="#4d4e04"/><polygon points="788.4,254.0 791.5,251.6 790.0,251.7 787.0,254.7" fill="#1f184e" stroke="#100c27"/><polygon points="793.7,253.9 791.3,255.4 791.9,254.4 793.7,252.9" fill="#868707" stroke="#434404"/><polygon points="780.1,253.5 782.4,255.6 783.5,256.5 780.7,254.7" fill="#878807" stroke="#444404"/><polygon points="783.7,254.8 784.7,256.8 784.9,257.2 783.5,255.6" fill="#1e184c" stroke="#0f0c26"/><polygon points="780.2,251.1 778.4,249.7 777.1,250.0 778.4,250.4" fill="#1b1645" stroke="#0e0b22"/><polygon points="794.7,252.7 793.7,253.9 793.7,252.9 794.1,251.8" fill="#1c1748" stroke="#0e0c24"/><polygon points="777.1,251.0 778.4,252.7 779.1,254.0 777.1,252.2" fill="#848507" stroke="#424204"/><polygon points="785.8,255.7 785.1,257.2 785.1,257.0 785.2,255.9" fill="#1e184b" stroke="#0f0c26"/><polygon points="785.2,255.9 785.1,257.0 784.8,256.7 784.8,256.3" fill="#1e184d" stroke="#0f0c26"/><polygon points="781.9,254.5 784.0,256.5 785.0,257.3 782.4,255.6" fill="#1d1749" stroke="#0e0c24"/><polygon points="786.4,255.7 785.1,257.3 785.1,257.2 785.8,255.7" fill="#1d184b" stroke="#0e0c26"/><polygon points="791.3,255.4 788.1,256.6 789.1,255.9 791.9,254.4" fill="#848507" stroke="#424204"/><polygon points="789.1,255.9 785.9,257.1 786.7,256.7 789.5,255.2" fill="#1d1749" stroke="#0e0c24"/><polygon points="784.7,256.8 784.3,256.4 783.5,256.1 784.9,257.2" fill="#1d1749" stroke="#0e0c24"/><polygon points="778.4,252.7 780.7,254.7 781.9,255.8 779.1,254.0" fill="#838407" stroke="#424204"/><polygon points="790.0,253.3 792.9,251.8 791.5,251.6 788.4,254.0" fill="#1d1749" stroke="#0e0c24"/><polygon points="786.8,255.9 785.2,257.2 785.1,257.3 786.4,255.7" fill="#1e184b" stroke="#0f0c26"/><polygon points="777.1,250.0 777.1,251.0 777.1,252.2 776.4,250.8" fill="#1b1646" stroke="#0e0b23"/><polygon points="787.0,256.3 785.5,257.1 785.2,257.2 786.8,255.9" fill="#8d8e08" stroke="#464704"/><polygon points="794.1,252.1 794.7,252.7 794.1,251.8 792.9,251.8" fill="#18133d" stroke="#0c0a1e"/><polygon points="783.5,255.6 784.9,257.2 784.0,256.6 784.0,256.5" fill="#979808" stroke="#4c4c04"/><polygon points="785.0,257.3 782.8,256.3 781.4,256.1 783.7,256.8" fill="#7c7d07" stroke="#3e3e04"/><polygon points="786.7,256.7 786.1,257.0 785.5,257.1 787.0,256.3" fill="#1f194f" stroke="#100c28"/><polygon points="784.0,256.5 784.0,256.6 782.8,256.3 785.0,257.3" fill="#1f1950" stroke="#100c28"/><polygon points="784.9,257.1 782.1,252.4 780.2,251.1 783.1,254.5" fill="#8d8e08" stroke="#464704"/><polygon points="785.9,257.1 787.1,257.0 786.1,257.0 786.7,256.7" fill="#1c1647" stroke="#0e0b24"/><polygon points="783.1,254.5 780.2,251.1 778.4,250.4 781.1,252.6" fill="#858607" stroke="#424304"/><polygon points="782.4,255.6 785.0,257.3 783.7,256.8 783.5,256.5" fill="#9b9c09" stroke="#4e4e04"/><polygon points="780.7,254.7 783.5,256.5 785.0,257.3 781.9,255.8" fill="#1b1646" stroke="#0e0b23"/><polygon points="778.4,250.4 777.1,250.0 776.4,250.8 777.1,250.4" fill="#19143f" stroke="#0c0a20"/><polygon points="788.1,256.6 785.3,257.3 785.9,257.1 789.1,255.9" fill="#1c1748" stroke="#0e0c24"/><polygon points="793.0,255.0 790.2,256.2 791.3,255.4 793.7,253.9" fill="#7e7f07" stroke="#3f4004"/><polygon points="791.7,252.8 794.1,252.1 792.9,251.8 790.0,253.3" fill="#1b1645" stroke="#0e0b22"/><polygon points="783.5,256.5 783.7,256.8 782.2,256.5 785.0,257.3" fill="#211a54" stroke="#100d2a"/><polygon points="790.2,256.2 786.8,257.1 788.1,256.6 791.3,255.4" fill="#1b1544" stroke="#0e0a22"/><polygon points="785.7,256.7 790.0,253.3 788.4,254.0 786.0,256.2" fill="#201a52" stroke="#100d29"/><polygon points="779.1,254.0 781.9,255.8 783.4,256.7 780.3,255.2" fill="#1b1544" stroke="#0e0a22"/><polygon points="785.0,257.3 782.2,256.5 780.8,256.5 783.5,256.9" fill="#1a1542" stroke="#0d0a21"/><polygon points="777.1,252.2 779.1,254.0 780.3,255.2 777.7,253.4" fill="#1b1544" stroke="#0e0a22"/><polygon points="794.7,253.7 793.0,255.0 793.7,253.9 794.7,252.7" fill="#7c7d07" stroke="#3e3e04"/><polygon points="786.8,257.1 786.7,257.2 785.3,257.3 788.1,256.6" fill="#201a52" stroke="#100d29"/><polygon points="781.9,255.8 785.0,257.3 783.5,256.9 783.4,256.7" fill="#9b9c09" stroke="#4e4e04"/><polygon points="781.1,252.6 778.4,250.4 777.1,250.4 779.2,251.5" fill="#1b1645" stroke="#0e0b22"/><polygon points="787.8,255.2 791.7,252.8 790.0,253.3 785.7,256.7" fill="#818107" stroke="#404004"/><polygon points="785.1,257.3 788.1,257.4 786.7,257.2 786.8,257.1" fill="#211a53" stroke="#100d2a"/><polygon points="776.4,250.8 777.1,252.2 777.7,253.4 776.3,251.8" fill="#1a1542" stroke="#0d0a21"/><polygon points="783.4,256.7 783.5,256.9 782.0,256.7 785.0,257.3" fill="#9b9c09" stroke="#4e4e04"/><polygon points="788.6,256.9 785.1,257.3 786.8,257.1 790.2,256.2" fill="#7a7b07" stroke="#3d3e04"/><polygon points="780.3,255.2 783.4,256.7 785.0,257.3 781.7,256.2" fill="#797a07" stroke="#3c3d04"/><polygon points="794.8,252.8 794.7,253.7 794.7,252.7 794.1,252.1" fill="#676806" stroke="#343403"/><polygon points="784.7,256.8 781.1,252.6 779.2,251.5 782.6,254.5" fill="#7d7e07" stroke="#3e3f04"/><polygon points="786.8,257.2 786.5,257.4 785.1,257.3 788.6,256.9" fill="#1f1950" stroke="#100c28"/><polygon points="785.0,257.3 782.0,256.7 780.8,256.9 783.6,257.0" fill="#797a07" stroke="#3c3d04"/><polygon points="781.7,256.2 785.0,257.3 783.6,257.0 783.2,256.8" fill="#1f1950" stroke="#100c28"/><polygon points="791.7,255.9 788.6,256.9 790.2,256.2 793.0,255.0" fill="#787907" stroke="#3c3c04"/><polygon points="785.2,257.1 789.9,254.1 787.8,255.2 787.4,255.2" fill="#211b55" stroke="#100e2a"/><polygon points="777.7,253.4 780.3,255.2 781.7,256.2 778.8,254.6" fill="#191441" stroke="#0c0a20"/><polygon points="785.1,257.3 787.9,257.7 786.5,257.4 786.8,257.2" fill="#999a08" stroke="#4c4d04"/><polygon points="783.2,256.8 783.6,257.0 782.5,257.1 784.6,257.2" fill="#201a51" stroke="#100d28"/><polygon points="793.2,252.7 794.8,252.8 794.1,252.1 791.7,252.8" fill="#7a7b07" stroke="#3d3e04"/><polygon points="789.9,254.1 793.2,252.7 791.7,252.8 787.8,255.2" fill="#1a1542" stroke="#0d0a21"/><polygon points="786.4,257.4 786.4,257.5 785.1,257.3 788.2,257.2" fill="#8d8e08" stroke="#464704"/><polygon points="784.6,257.2 782.5,257.1 781.9,257.3 784.5,257.2" fill="#1b1645" stroke="#0e0b22"/><polygon points="790.0,256.7 786.8,257.2 788.6,256.9 791.7,255.9" fill="#19143f" stroke="#0c0a20"/><polygon points="779.2,251.5 777.1,250.4 776.3,250.9 777.8,251.1" fill="#7a7b07" stroke="#3d3e04"/><polygon points="788.2,257.2 785.1,257.3 786.8,257.2 790.0,256.7" fill="#18133e" stroke="#0c0a1f"/><polygon points="778.8,254.6 781.7,256.2 783.2,256.8 780.1,255.6" fill="#747506" stroke="#3a3a03"/><polygon points="794.0,254.8 791.7,255.9 793.0,255.0 794.7,253.7" fill="#747506" stroke="#3a3a03"/><polygon points="785.0,257.3 787.3,257.9 786.4,257.5 786.4,257.4" fill="#1f194e" stroke="#100c27"/><polygon points="782.6,254.5 779.2,251.5 777.8,251.1 780.7,253.0" fill="#191441" stroke="#0c0a20"/><polygon points="781.5,256.3 784.6,257.2 784.5,257.2 782.7,256.8" fill="#1a1542" stroke="#0d0a21"/><polygon points="780.1,255.6 783.2,256.8 784.6,257.2 781.5,256.3" fill="#727206" stroke="#393903"/><polygon points="782.7,256.8 784.5,257.2 783.9,257.3 783.7,257.1" fill="#7c7d07" stroke="#3e3e04"/><polygon points="776.3,251.8 777.7,253.4 778.8,254.6 776.8,253.0" fill="#19143f" stroke="#0c0a20"/><polygon points="787.7,255.5 791.6,253.5 789.9,254.1 785.2,257.1" fill="#6e6f06" stroke="#373803"/><polygon points="783.7,257.1 783.9,257.3 783.6,257.4 784.3,257.2" fill="#1f194f" stroke="#100c28"/><polygon points="786.1,257.4 785.9,257.5 785.0,257.3 787.5,257.4" fill="#7f8007" stroke="#404004"/><polygon points="784.5,256.7 780.7,253.0 779.3,252.2 782.7,254.9" fill="#6e6f06" stroke="#373803"/><polygon points="785.4,257.0 789.6,254.4 787.7,255.5 787.2,255.4" fill="#1e184c" stroke="#0f0c26"/><polygon points="784.3,257.2 783.6,257.4 783.7,257.5 784.7,257.3" fill="#1b1544" stroke="#0e0a22"/><polygon points="785.3,257.4 786.2,257.8 785.9,257.5 786.1,257.4" fill="#888907" stroke="#444404"/><polygon points="784.7,257.3 783.7,257.5 784.1,257.6 784.8,257.3" fill="#191440" stroke="#0c0a20"/><polygon points="784.8,257.3 784.1,257.6 784.5,257.7 784.9,257.3" fill="#747506" stroke="#3a3a03"/><polygon points="794.9,253.6 794.0,254.8 794.7,253.7 794.8,252.8" fill="#171239" stroke="#0c091c"/><polygon points="784.9,257.3 784.5,257.7 784.9,257.7 785.0,257.4" fill="#191440" stroke="#0c0a20"/><polygon points="787.5,257.4 785.0,257.3 786.4,257.4 789.2,257.1" fill="#17123a" stroke="#0c091d"/><polygon points="785.0,257.4 784.9,257.7 785.2,257.6 785.3,257.4" fill="#1e184b" stroke="#0f0c26"/><polygon points="776.3,250.9 776.3,251.8 776.8,253.0 776.2,251.7" fill="#161239" stroke="#0b091c"/><polygon points="785.8,257.5 785.2,257.4 785.3,257.4 786.7,257.4" fill="#17123a" stroke="#0c091d"/><polygon points="792.7,255.7 790.0,256.7 791.7,255.9 794.0,254.8" fill="#18133c" stroke="#0c0a1e"/><polygon points="776.8,253.0 778.8,254.6 780.1,255.6 777.8,254.1" fill="#6f7006" stroke="#383803"/><polygon points="791.6,253.5 794.1,253.1 793.2,252.7 789.9,254.1" fill="#19143f" stroke="#0c0a20"/><polygon points="794.1,253.1 794.9,253.6 794.8,252.8 793.2,252.7" fill="#1a1542" stroke="#0d0a21"/><polygon points="785.5,256.9 788.7,254.7 787.5,255.5 786.6,255.9" fill="#757606" stroke="#3a3b03"/><polygon points="780.7,253.0 777.8,251.1 777.0,251.2 779.3,252.2" fill="#19143f" stroke="#0c0a20"/><polygon points="777.8,251.1 776.3,250.9 776.2,251.7 777.0,251.2" fill="#1a1542" stroke="#0d0a21"/><polygon points="789.2,257.1 786.4,257.4 788.2,257.2 791.0,256.5" fill="#17123a" stroke="#0c091d"/><polygon points="783.0,257.0 784.7,257.3 784.8,257.3 783.6,257.1" fill="#161137" stroke="#0b081c"/><polygon points="782.2,256.7 784.3,257.2 784.7,257.3 783.0,257.0" fill="#161238" stroke="#0b091c"/><polygon points="791.0,256.5 788.2,257.2 790.0,256.7 792.7,255.7" fill="#17123b" stroke="#0c091e"/><polygon points="777.8,254.1 780.1,255.6 781.5,256.3 778.9,255.0" fill="#6c6c06" stroke="#363603"/><polygon points="781.3,256.3 783.7,257.1 784.3,257.2 782.2,256.7" fill="#676806" stroke="#343403"/><polygon points="787.5,255.5 790.8,254.0 789.6,254.4 785.4,257.0" fill="#6b6b06" stroke="#363603"/><polygon points="782.7,254.9 779.3,252.2 778.5,252.0 781.4,253.7" fill="#17123a" stroke="#0c091d"/><polygon points="780.2,255.8 782.7,256.8 783.7,257.1 781.3,256.3" fill="#686906" stroke="#343403"/><polygon points="778.9,255.0 781.5,256.3 782.7,256.8 780.2,255.8" fill="#696a06" stroke="#343503"/><polygon points="789.6,254.4 792.7,253.5 791.6,253.5 787.7,255.5" fill="#6a6b06" stroke="#353603"/><polygon points="784.2,257.2 784.9,257.3 785.0,257.4 784.8,257.3" fill="#161137" stroke="#0b081c"/><polygon points="794.2,254.6 792.7,255.7 794.0,254.8 794.9,253.6" fill="#161137" stroke="#0b081c"/><polygon points="785.0,257.0 784.2,254.5 784.9,254.8 785.0,257.3" fill="#848507" stroke="#424204"/><polygon points="776.2,251.7 776.8,253.0 777.8,254.1 776.5,252.6" fill="#666706" stroke="#333403"/><polygon points="784.9,257.0 783.1,254.3 783.6,254.4 784.9,256.9" fill="#7f8007" stroke="#404004"/><polygon points="784.9,256.9 783.6,254.4 784.2,254.5 785.0,257.0" fill="#1c1646" stroke="#0e0b23"/><polygon points="785.6,256.3 787.2,254.5 787.3,255.0 785.1,257.3" fill="#1b1645" stroke="#0e0b22"/><polygon points="783.8,255.9 780.6,253.1 780.3,252.9 783.1,255.0" fill="#6d6e06" stroke="#363703"/><polygon points="784.8,257.3 785.0,257.4 785.3,257.4 785.6,257.3" fill="#161239" stroke="#0b091c"/><polygon points="786.7,255.7 789.2,254.3 788.7,254.7 785.5,256.9" fill="#191440" stroke="#0c0a20"/><polygon points="788.0,257.3 786.1,257.4 787.5,257.4 789.6,256.9" fill="#666706" stroke="#333403"/><polygon points="794.2,253.7 794.2,254.6 794.9,253.6 794.1,253.1" fill="#7d7d07" stroke="#3e3e04"/><polygon points="779.3,252.2 777.0,251.2 776.8,251.7 778.5,252.0" fill="#19143f" stroke="#0c0a20"/><polygon points="792.7,253.5 794.2,253.7 794.1,253.1 791.6,253.5" fill="#757506" stroke="#3a3a03"/><polygon points="777.0,251.2 776.2,251.7 776.5,252.6 776.8,251.7" fill="#7d7e07" stroke="#3e3f04"/><polygon points="793.0,255.5 791.0,256.5 792.7,255.7 794.2,254.6" fill="#161137" stroke="#0b081c"/><polygon points="776.5,252.6 777.8,254.1 778.9,255.0 777.3,253.5" fill="#676806" stroke="#343403"/><polygon points="781.4,253.7 778.5,252.0 778.2,252.1 780.6,253.1" fill="#696a06" stroke="#343503"/><polygon points="789.6,256.9 787.5,257.4 789.2,257.1 791.3,256.3" fill="#686806" stroke="#343403"/><polygon points="785.6,257.3 785.3,257.4 785.8,257.5 786.7,257.1" fill="#6b6c06" stroke="#363603"/><polygon points="791.3,256.3 789.2,257.1 791.0,256.5 793.0,255.5" fill="#686806" stroke="#343403"/><polygon points="790.8,254.0 793.0,253.8 792.7,253.5 789.6,254.4" fill="#17123a" stroke="#0c091d"/><polygon points="788.7,254.7 791.2,254.0 790.8,254.0 787.5,255.5" fill="#6b6c06" stroke="#363603"/><polygon points="777.3,253.5 778.9,255.0 780.2,255.8 778.4,254.4" fill="#171239" stroke="#0c091c"/><polygon points="783.1,255.0 780.3,252.9 780.4,253.0 782.7,254.5" fill="#6e6f06" stroke="#373803"/><polygon points="776.8,251.7 776.5,252.6 777.3,253.5 777.0,252.4" fill="#1a1543" stroke="#0d0a22"/><polygon points="793.7,254.5 793.0,255.5 794.2,254.6 794.2,253.7" fill="#1a1441" stroke="#0d0a20"/><polygon points="785.7,255.6 786.6,254.3 787.2,254.5 785.6,256.3" fill="#7d7e07" stroke="#3e3f04"/><polygon points="786.7,257.1 785.8,257.5 786.7,257.4 788.0,256.9" fill="#6e6f06" stroke="#373803"/><polygon points="778.4,254.4 780.2,255.8 781.3,256.3 779.5,255.1" fill="#6c6c06" stroke="#363603"/><polygon points="778.5,252.0 776.8,251.7 777.0,252.4 778.2,252.1" fill="#7b7c07" stroke="#3e3e04"/><polygon points="779.5,255.1 781.3,256.3 782.2,256.7 780.6,255.7" fill="#17133b" stroke="#0c0a1e"/><polygon points="793.0,253.8 793.7,254.5 794.2,253.7 792.7,253.5" fill="#1b1645" stroke="#0e0b22"/><polygon points="780.6,255.7 782.2,256.7 783.0,257.0 781.6,256.1" fill="#18133c" stroke="#0c0a1e"/><polygon points="787.3,255.0 789.1,254.2 789.2,254.3 786.7,255.7" fill="#747506" stroke="#3a3a03"/><polygon points="780.6,253.1 778.2,252.1 778.4,252.5 780.3,252.9" fill="#17123a" stroke="#0c091d"/><polygon points="781.6,256.1 783.0,257.0 783.6,257.1 782.7,256.3" fill="#18133d" stroke="#0c0a1e"/><polygon points="788.0,256.9 786.7,257.4 788.0,257.3 789.5,256.5" fill="#18133d" stroke="#0c0a1e"/><polygon points="782.7,254.5 780.4,253.0 780.9,253.2 782.7,254.3" fill="#6f6f06" stroke="#383803"/><polygon points="792.6,255.3 791.3,256.3 793.0,255.5 793.7,254.5" fill="#767706" stroke="#3b3c03"/><polygon points="777.0,252.4 777.3,253.5 778.4,254.4 777.7,253.1" fill="#1a1542" stroke="#0d0a21"/><polygon points="782.7,256.3 783.6,257.1 784.2,257.2 783.7,256.5" fill="#727306" stroke="#393a03"/><polygon points="789.5,256.5 788.0,257.3 789.6,256.9 791.1,256.0" fill="#18143e" stroke="#0c0a1f"/><polygon points="785.4,255.1 785.8,254.1 786.6,254.3 785.7,255.6" fill="#1a1542" stroke="#0d0a21"/><polygon points="791.1,256.0 789.6,256.9 791.3,256.3 792.6,255.3" fill="#19143f" stroke="#0c0a20"/><polygon points="791.2,254.0 792.6,254.3 793.0,253.8 790.8,254.0" fill="#717106" stroke="#383803"/><polygon points="778.2,252.1 777.0,252.4 777.7,253.1 778.4,252.5" fill="#1e184b" stroke="#0f0c26"/><polygon points="783.7,256.5 784.2,257.2 784.8,257.3 784.7,256.6" fill="#19143f" stroke="#0c0a20"/><polygon points="789.2,254.3 790.9,254.2 791.2,254.0 788.7,254.7" fill="#676806" stroke="#343403"/><polygon points="792.6,254.3 792.6,255.3 793.7,254.5 793.0,253.8" fill="#929308" stroke="#494a04"/><polygon points="782.7,254.3 780.9,253.2 781.6,253.4 783.1,254.3" fill="#6f6f06" stroke="#383803"/><polygon points="777.7,253.1 778.4,254.4 779.5,255.1 778.6,253.8" fill="#7b7c07" stroke="#3e3e04"/><polygon points="780.3,252.9 778.4,252.5 778.9,252.9 780.4,253.0" fill="#6f6f06" stroke="#383803"/><polygon points="784.7,256.6 784.8,257.3 785.6,257.3 785.9,256.5" fill="#777707" stroke="#3c3c04"/><polygon points="784.9,254.8 784.8,254.0 785.8,254.1 785.4,255.1" fill="#767707" stroke="#3b3c04"/><polygon points="787.2,254.5 788.3,254.3 789.1,254.2 787.3,255.0" fill="#707106" stroke="#383803"/><polygon points="783.1,254.3 781.6,253.4 782.6,253.6 783.6,254.4" fill="#6f7006" stroke="#383803"/><polygon points="778.6,253.8 779.5,255.1 780.6,255.7 779.7,254.4" fill="#7d7d07" stroke="#3e3e04"/><polygon points="785.9,256.5 785.6,257.3 786.7,257.1 787.3,256.3" fill="#1a1542" stroke="#0d0a21"/><polygon points="778.4,252.5 777.7,253.1 778.6,253.8 778.9,252.9" fill="#201a53" stroke="#100d2a"/><polygon points="784.2,254.5 783.7,253.8 784.8,254.0 784.9,254.8" fill="#19143e" stroke="#0c0a1f"/><polygon points="783.6,254.4 782.6,253.6 783.7,253.8 784.2,254.5" fill="#717206" stroke="#383903"/><polygon points="791.6,254.9 791.1,256.0 792.6,255.3 792.6,254.3" fill="#1e184c" stroke="#0f0c26"/><polygon points="790.9,254.2 791.6,254.9 792.6,254.3 791.2,254.0" fill="#858607" stroke="#424304"/><polygon points="779.7,254.4 780.6,255.7 781.6,256.1 780.9,254.9" fill="#1b1644" stroke="#0e0b22"/><polygon points="787.3,256.3 786.7,257.1 788.0,256.9 788.7,256.0" fill="#7d7e07" stroke="#3e3f04"/><polygon points="780.4,253.0 778.9,252.9 779.8,253.4 780.9,253.2" fill="#757606" stroke="#3a3b03"/><polygon points="789.1,254.2 790.1,254.6 790.9,254.2 789.2,254.3" fill="#6c6c06" stroke="#363603"/><polygon points="790.2,255.5 789.5,256.5 791.1,256.0 791.6,254.9" fill="#1c1748" stroke="#0e0c24"/><polygon points="788.7,256.0 788.0,256.9 789.5,256.5 790.2,255.5" fill="#818107" stroke="#404004"/><polygon points="780.9,254.9 781.6,256.1 782.7,256.3 782.1,255.2" fill="#808107" stroke="#404004"/><polygon points="778.9,252.9 778.6,253.8 779.7,254.4 779.8,253.4" fill="#9c9d09" stroke="#4e4e04"/><polygon points="786.6,254.3 787.3,254.4 788.3,254.3 787.2,254.5" fill="#696a06" stroke="#343503"/><polygon points="782.1,255.2 782.7,256.3 783.7,256.5 783.4,255.4" fill="#838407" stroke="#424204"/><polygon points="780.9,253.2 779.8,253.4 780.9,253.8 781.6,253.4" fill="#1b1543" stroke="#0e0a22"/><polygon points="790.1,254.6 790.2,255.5 791.6,254.9 790.9,254.2" fill="#231c58" stroke="#120e2c"/><polygon points="783.4,255.4 783.7,256.5 784.7,256.6 784.7,255.5" fill="#1d1748" stroke="#0e0c24"/><polygon points="779.8,253.4 779.7,254.4 780.9,254.9 780.9,253.8" fill="#211b55" stroke="#100e2a"/><polygon points="788.3,254.3 788.9,254.9 790.1,254.6 789.1,254.2" fill="#1b1544" stroke="#0e0a22"/><polygon points="785.8,254.1 786.0,254.4 787.3,254.4 786.6,254.3" fill="#171239" stroke="#0c091c"/><polygon points="781.6,253.4 780.9,253.8 782.1,254.1 782.6,253.6" fill="#1c1646" stroke="#0e0b23"/><polygon points="784.7,255.5 784.7,256.6 785.9,256.5 786.1,255.4" fill="#1d174b" stroke="#0e0c26"/><polygon points="788.9,254.9 788.7,256.0 790.2,255.5 790.1,254.6" fill="#221b57" stroke="#110e2c"/><polygon points="780.9,253.8 780.9,254.9 782.1,255.2 782.1,254.1" fill="#221b56" stroke="#110e2b"/><polygon points="786.1,255.4 785.9,256.5 787.3,256.3 787.5,255.2" fill="#1e184d" stroke="#0f0c26"/><polygon points="787.5,255.2 787.3,256.3 788.7,256.0 788.9,254.9" fill="#201951" stroke="#100c28"/><polygon points="782.6,253.6 782.1,254.1 783.4,254.3 783.7,253.8" fill="#828307" stroke="#414204"/><polygon points="784.8,254.0 784.7,254.4 786.0,254.4 785.8,254.1" fill="#19143f" stroke="#0c0a20"/><polygon points="783.7,253.8 783.4,254.3 784.7,254.4 784.8,254.0" fill="#1b1544" stroke="#0e0a22"/><polygon points="787.3,254.4 787.5,255.2 788.9,254.9 788.3,254.3" fill="#9b9c09" stroke="#4e4e04"/><polygon points="782.1,254.1 782.1,255.2 783.4,255.4 783.4,254.3" fill="#231c58" stroke="#120e2c"/><polygon points="783.4,254.3 783.4,255.4 784.7,255.5 784.7,254.4" fill="#aeaf10" stroke="#575808"/><polygon points="786.0,254.4 786.1,255.4 787.5,255.2 787.3,254.4" fill="#ffff62" stroke="#808031"/><polygon points="784.7,254.4 784.7,255.5 786.1,255.4 786.0,254.4" fill="#645d9d" stroke="#322e4e"/></g><path d="M787.0 196 Q787.5 193.5 789.5 192.8 L791.5 193.2 Q793.0 195 793.0 198 L791.3 209.5 L785.8 209.5Z" fill="#c8fff5" opacity="0.38"/><path d="M789.0 194 L791.8000000000001 193.8 L790.3000000000001 209.5 L787.8 209.5Z" fill="#c8fff5" opacity="0.62"/>
<line x1="784.5" y1="250" x2="784.5" y2="189.38" stroke="#0000ff" stroke-width="1" shape-rendering="crispEdges"/>
<path d="M249.5 310.27L249.5 59 M346.49 373.42L249.28 310.27 M346.49 373.42L416.44 347.65 M249.5 307.94L245.31 305.21 M249.5 276.51L245.31 273.79 M249.5 245.09L245.31 242.36 M249.5 213.66L245.31 210.94 M249.5 182.24L245.31 179.52 M249.5 150.82L245.31 148.09 M249.5 119.39L245.31 116.67 M249.5 87.97L245.31 85.24 M341.82 370.39L337.13 372.12 M319.66 355.99L314.97 357.72 M297.5 341.6L292.81 343.33 M275.35 327.2L270.65 328.93 M253.19 312.8L248.5 314.53 M353.26 370.93L357.45 373.65 M382.14 360.29L386.33 363.01 M411.02 349.64L415.22 352.37" stroke="#262626" stroke-width="1" fill="none" shape-rendering="crispEdges"/>


<path d="M237.94 236.03L239.29 236.03L239.29 243.19L237.94 243.19ZM237.94 236.03L238.14 237.23L236.04 238.53L236.04 237.53Z" fill="#262626" opacity="0.72"/>

<path d="M237.94 173.18L239.29 173.18L239.29 180.34L237.94 180.34ZM237.94 173.18L238.14 174.38L236.04 175.68L236.04 174.68Z" fill="#262626" opacity="0.72"/>



<path d="M329.16 375.23L330.51 375.23L330.51 382.39L329.16 382.39ZM329.16 375.23L329.36 376.43L327.26 377.73L327.26 376.73Z" fill="#262626" opacity="0.72"/>

<path d="M284.84 346.44L286.19 346.44L286.19 353.60L284.84 353.60ZM284.84 346.44L285.04 347.64L282.94 348.94L282.94 347.94Z" fill="#262626" opacity="0.72"/>



<path d="M393.16 366.68L394.51 366.68L394.51 373.84L393.16 373.84ZM393.16 366.68L393.36 367.88L391.26 369.18L391.26 368.18Z" fill="#262626" opacity="0.72"/>




<path d="M708.5 310.27L708.5 59 M805.09 373.42L707.88 310.27 M805.09 373.42L875.04 347.65 M708.5 307.94L704.31 305.21 M708.5 276.51L704.31 273.79 M708.5 245.09L704.31 242.36 M708.5 213.66L704.31 210.94 M708.5 182.24L704.31 179.52 M708.5 150.82L704.31 148.09 M708.5 119.39L704.31 116.67 M708.5 87.97L704.31 85.24 M800.42 370.39L795.73 372.12 M778.26 355.99L773.57 357.72 M756.1 341.6L751.41 343.33 M733.95 327.2L729.25 328.93 M711.79 312.8L707.1 314.53 M811.86 370.93L816.05 373.65 M840.74 360.29L844.93 363.01 M869.62 349.64L873.82 352.37" stroke="#262626" stroke-width="1" fill="none" shape-rendering="crispEdges"/>


<path d="M696.94 236.03L698.29 236.03L698.29 243.19L696.94 243.19ZM696.94 236.03L697.14 237.23L695.04 238.53L695.04 237.53Z" fill="#262626" opacity="0.72"/>

<path d="M696.94 173.18L698.29 173.18L698.29 180.34L696.94 180.34ZM696.94 173.18L697.14 174.38L695.04 175.68L695.04 174.68Z" fill="#262626" opacity="0.72"/>



<path d="M787.76 375.23L789.11 375.23L789.11 382.39L787.76 382.39ZM787.76 375.23L787.96 376.43L785.86 377.73L785.86 376.73Z" fill="#262626" opacity="0.72"/>

<path d="M743.44 346.44L744.79 346.44L744.79 353.60L743.44 353.60ZM743.44 346.44L743.64 347.64L741.54 348.94L741.54 347.94Z" fill="#262626" opacity="0.72"/>



<path d="M851.76 366.68L853.11 366.68L853.11 373.84L851.76 373.84ZM851.76 366.68L851.96 367.88L849.86 369.18L849.86 368.18Z" fill="#262626" opacity="0.72"/>




<rect x="974.5" y="368.17" width="19.0" height="5.33" fill="#352a87" shape-rendering="crispEdges"/>
<rect x="974.5" y="362.84" width="19.0" height="5.33" fill="#363093" shape-rendering="crispEdges"/>
<rect x="974.5" y="357.52" width="19.0" height="5.33" fill="#3637a0" shape-rendering="crispEdges"/>
<rect x="974.5" y="352.19" width="19.0" height="5.33" fill="#353dad" shape-rendering="crispEdges"/>
<rect x="974.5" y="346.86" width="19.0" height="5.33" fill="#3243ba" shape-rendering="crispEdges"/>
<rect x="974.5" y="341.53" width="19.0" height="5.33" fill="#2c4ac7" shape-rendering="crispEdges"/>
<rect x="974.5" y="336.20" width="19.0" height="5.33" fill="#2053d4" shape-rendering="crispEdges"/>
<rect x="974.5" y="330.88" width="19.0" height="5.33" fill="#0f5cdd" shape-rendering="crispEdges"/>
<rect x="974.5" y="325.55" width="19.0" height="5.33" fill="#0363e1" shape-rendering="crispEdges"/>
<rect x="974.5" y="320.22" width="19.0" height="5.33" fill="#0268e1" shape-rendering="crispEdges"/>
<rect x="974.5" y="314.89" width="19.0" height="5.33" fill="#046de0" shape-rendering="crispEdges"/>
<rect x="974.5" y="309.56" width="19.0" height="5.33" fill="#0871de" shape-rendering="crispEdges"/>
<rect x="974.5" y="304.23" width="19.0" height="5.33" fill="#0d75dc" shape-rendering="crispEdges"/>
<rect x="974.5" y="298.91" width="19.0" height="5.33" fill="#1079da" shape-rendering="crispEdges"/>
<rect x="974.5" y="293.58" width="19.0" height="5.33" fill="#127dd8" shape-rendering="crispEdges"/>
<rect x="974.5" y="288.25" width="19.0" height="5.33" fill="#1481d6" shape-rendering="crispEdges"/>
<rect x="974.5" y="282.92" width="19.0" height="5.33" fill="#1485d4" shape-rendering="crispEdges"/>
<rect x="974.5" y="277.59" width="19.0" height="5.33" fill="#1389d3" shape-rendering="crispEdges"/>
<rect x="974.5" y="272.27" width="19.0" height="5.33" fill="#108ed2" shape-rendering="crispEdges"/>
<rect x="974.5" y="266.94" width="19.0" height="5.33" fill="#0c93d2" shape-rendering="crispEdges"/>
<rect x="974.5" y="261.61" width="19.0" height="5.33" fill="#0998d1" shape-rendering="crispEdges"/>
<rect x="974.5" y="256.28" width="19.0" height="5.33" fill="#079ccf" shape-rendering="crispEdges"/>
<rect x="974.5" y="250.95" width="19.0" height="5.33" fill="#06a0cd" shape-rendering="crispEdges"/>
<rect x="974.5" y="245.62" width="19.0" height="5.33" fill="#06a4ca" shape-rendering="crispEdges"/>
<rect x="974.5" y="240.30" width="19.0" height="5.33" fill="#06a7c6" shape-rendering="crispEdges"/>
<rect x="974.5" y="234.97" width="19.0" height="5.33" fill="#07a9c2" shape-rendering="crispEdges"/>
<rect x="974.5" y="229.64" width="19.0" height="5.33" fill="#0aacbe" shape-rendering="crispEdges"/>
<rect x="974.5" y="224.31" width="19.0" height="5.33" fill="#0faeb9" shape-rendering="crispEdges"/>
<rect x="974.5" y="218.98" width="19.0" height="5.33" fill="#15b1b4" shape-rendering="crispEdges"/>
<rect x="974.5" y="213.66" width="19.0" height="5.33" fill="#1db3af" shape-rendering="crispEdges"/>
<rect x="974.5" y="208.33" width="19.0" height="5.33" fill="#25b5a9" shape-rendering="crispEdges"/>
<rect x="974.5" y="203.00" width="19.0" height="5.33" fill="#2eb7a4" shape-rendering="crispEdges"/>
<rect x="974.5" y="197.67" width="19.0" height="5.33" fill="#38b99e" shape-rendering="crispEdges"/>
<rect x="974.5" y="192.34" width="19.0" height="5.33" fill="#42bb98" shape-rendering="crispEdges"/>
<rect x="974.5" y="187.02" width="19.0" height="5.33" fill="#4dbc92" shape-rendering="crispEdges"/>
<rect x="974.5" y="181.69" width="19.0" height="5.33" fill="#59bd8c" shape-rendering="crispEdges"/>
<rect x="974.5" y="176.36" width="19.0" height="5.33" fill="#65be86" shape-rendering="crispEdges"/>
<rect x="974.5" y="171.03" width="19.0" height="5.33" fill="#71bf80" shape-rendering="crispEdges"/>
<rect x="974.5" y="165.70" width="19.0" height="5.33" fill="#7cbf7b" shape-rendering="crispEdges"/>
<rect x="974.5" y="160.38" width="19.0" height="5.33" fill="#87bf77" shape-rendering="crispEdges"/>
<rect x="974.5" y="155.05" width="19.0" height="5.33" fill="#92bf73" shape-rendering="crispEdges"/>
<rect x="974.5" y="149.72" width="19.0" height="5.33" fill="#9cbf6f" shape-rendering="crispEdges"/>
<rect x="974.5" y="144.39" width="19.0" height="5.33" fill="#a5be6b" shape-rendering="crispEdges"/>
<rect x="974.5" y="139.06" width="19.0" height="5.33" fill="#aebe67" shape-rendering="crispEdges"/>
<rect x="974.5" y="133.73" width="19.0" height="5.33" fill="#b7bd64" shape-rendering="crispEdges"/>
<rect x="974.5" y="128.41" width="19.0" height="5.33" fill="#c0bc60" shape-rendering="crispEdges"/>
<rect x="974.5" y="123.08" width="19.0" height="5.33" fill="#c8bc5d" shape-rendering="crispEdges"/>
<rect x="974.5" y="117.75" width="19.0" height="5.33" fill="#d1bb59" shape-rendering="crispEdges"/>
<rect x="974.5" y="112.42" width="19.0" height="5.33" fill="#d9ba56" shape-rendering="crispEdges"/>
<rect x="974.5" y="107.09" width="19.0" height="5.33" fill="#e1b952" shape-rendering="crispEdges"/>
<rect x="974.5" y="101.77" width="19.0" height="5.33" fill="#e9b94e" shape-rendering="crispEdges"/>
<rect x="974.5" y="96.44" width="19.0" height="5.33" fill="#f1b94a" shape-rendering="crispEdges"/>
<rect x="974.5" y="91.11" width="19.0" height="5.33" fill="#f8bb44" shape-rendering="crispEdges"/>
<rect x="974.5" y="85.78" width="19.0" height="5.33" fill="#fdbe3d" shape-rendering="crispEdges"/>
<rect x="974.5" y="80.45" width="19.0" height="5.33" fill="#ffc337" shape-rendering="crispEdges"/>
<rect x="974.5" y="75.12" width="19.0" height="5.33" fill="#fec832" shape-rendering="crispEdges"/>
<rect x="974.5" y="69.80" width="19.0" height="5.33" fill="#fcce2e" shape-rendering="crispEdges"/>
<rect x="974.5" y="64.47" width="19.0" height="5.33" fill="#fad32a" shape-rendering="crispEdges"/>
<rect x="974.5" y="59.14" width="19.0" height="5.33" fill="#f7d826" shape-rendering="crispEdges"/>
<rect x="974.5" y="53.81" width="19.0" height="5.33" fill="#f5de21" shape-rendering="crispEdges"/>
<rect x="974.5" y="48.48" width="19.0" height="5.33" fill="#f5e41d" shape-rendering="crispEdges"/>
<rect x="974.5" y="43.16" width="19.0" height="5.33" fill="#f5eb18" shape-rendering="crispEdges"/>
<rect x="974.5" y="37.83" width="19.0" height="5.33" fill="#f6f313" shape-rendering="crispEdges"/>
<rect x="974.5" y="32.50" width="19.0" height="5.33" fill="#f9fb0e" shape-rendering="crispEdges"/>
<rect x="974.5" y="32.5" width="19.0" height="341.0" fill="none" stroke="#262626" stroke-width="1" shape-rendering="crispEdges"/>
<line x1="990.5" y1="366.5" x2="993.5" y2="366.5" stroke="#262626" stroke-width="1" shape-rendering="crispEdges"/>

<line x1="990.5" y1="311.5" x2="993.5" y2="311.5" stroke="#262626" stroke-width="1" shape-rendering="crispEdges"/>

<line x1="990.5" y1="257.5" x2="993.5" y2="257.5" stroke="#262626" stroke-width="1" shape-rendering="crispEdges"/>
<path d="M1003.93 252.07L1005.28 252.07L1005.28 259.23L1003.93 259.23ZM1003.93 252.07L1004.13 253.27L1002.03 254.57L1002.03 253.57Z" fill="#262626" opacity="0.72"/>
<line x1="990.5" y1="202.5" x2="993.5" y2="202.5" stroke="#262626" stroke-width="1" shape-rendering="crispEdges"/>

<line x1="990.5" y1="148.5" x2="993.5" y2="148.5" stroke="#262626" stroke-width="1" shape-rendering="crispEdges"/>
<path d="M1000.60 143.11L1001.95 143.11L1001.95 150.27L1000.60 150.27ZM1000.60 143.11L1000.80 144.31L998.70 145.61L998.70 144.61Z" fill="#262626" opacity="0.72"/>
<line x1="990.5" y1="93.5" x2="993.5" y2="93.5" stroke="#262626" stroke-width="1" shape-rendering="crispEdges"/>

<line x1="990.5" y1="39.5" x2="993.5" y2="39.5" stroke="#262626" stroke-width="1" shape-rendering="crispEdges"/>



<g class="tx"><text x="240.5" y="306.04" text-anchor="end">-3</text><text x="240.5" y="274.61" text-anchor="end">-2</text><text x="231.61" y="243.19">-</text><text x="240.5" y="211.76" text-anchor="end">0</text><text x="240.5" y="148.92" text-anchor="end">2</text><text x="240.5" y="117.49" text-anchor="end">3</text><text x="240.5" y="86.07" text-anchor="end">4</text><text x="322.83" y="382.39">-</text><text x="309.56" y="367.99" text-anchor="end">0</text><text x="265.25" y="339.2" text-anchor="end">2</text><text x="243.09" y="324.8" text-anchor="end">3</text><text x="364.36" y="384.83" text-anchor="middle">0</text><text x="421.52" y="362.84" text-anchor="middle">2</text><text x="291.6" y="384.6" text-anchor="middle" class="al">y</text><text x="391.6" y="394.6" text-anchor="middle" class="al">x</text><text x="224.2" y="185.3" text-anchor="middle" class="al" transform="rotate(-90 224.2 185.3)">z</text><text x="699.5" y="306.04" text-anchor="end">-3</text><text x="699.5" y="274.61" text-anchor="end">-2</text><text x="690.61" y="243.19">-</text><text x="699.5" y="211.76" text-anchor="end">0</text><text x="699.5" y="148.92" text-anchor="end">2</text><text x="699.5" y="117.49" text-anchor="end">3</text><text x="699.5" y="86.07" text-anchor="end">4</text><text x="781.43" y="382.39">-</text><text x="768.16" y="367.99" text-anchor="end">0</text><text x="723.85" y="339.2" text-anchor="end">2</text><text x="701.69" y="324.8" text-anchor="end">3</text><text x="822.96" y="384.83" text-anchor="middle">0</text><text x="880.12" y="362.84" text-anchor="middle">2</text><text x="750.2" y="384.6" text-anchor="middle" class="al">y</text><text x="850.2" y="394.6" text-anchor="middle" class="al">x</text><text x="682.8" y="185.3" text-anchor="middle" class="al" transform="rotate(-90 682.8 185.3)">z</text><text x="997.6" y="368.19" text-anchor="start">-3</text><text x="997.6" y="313.71" text-anchor="start">-2</text><text x="997.6" y="259.23">-</text><text x="997.6" y="204.75" text-anchor="start">0</text><text x="997.6" y="95.79" text-anchor="start">2</text><text x="997.6" y="41.31" text-anchor="start">3</text><text x="332.5" y="26" text-anchor="middle" class="t">Real function - real SH</text><text x="792.2" y="26" text-anchor="middle" class="t">Real function - complex SH</text></g>
</svg></body></html>
